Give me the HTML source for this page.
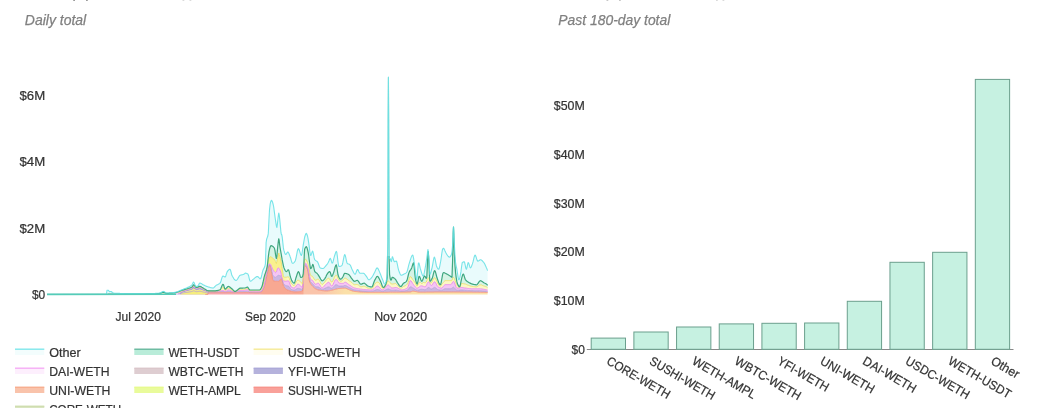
<!DOCTYPE html>
<html><head><meta charset="utf-8"><title>Fees</title>
<style>
html,body{margin:0;padding:0;background:#fff;}
body{width:1038px;height:408px;overflow:hidden;font-family:"Liberation Sans", sans-serif;}
svg{display:block;will-change:transform;}
svg text{font-family:"Liberation Sans", sans-serif;}
</style></head><body>
<svg width="1038" height="408" viewBox="0 0 1038 408">
<text x="24.8" y="25.2" font-size="14.6" font-style="italic" fill="#808080" stroke="#808080" stroke-width="0.25" textLength="61.4" lengthAdjust="spacingAndGlyphs">Daily total</text>
<text x="558.3" y="25.2" font-size="14.6" font-style="italic" fill="#808080" stroke="#808080" stroke-width="0.25" textLength="112.0" lengthAdjust="spacingAndGlyphs">Past 180-day total</text>
<rect x="73.2" y="-0.5" width="1.8" height="1.4" fill="#333" fill-opacity="0.55"/>
<rect x="86.0" y="-0.5" width="1.8" height="1.4" fill="#333" fill-opacity="0.55"/>
<rect x="182.5" y="-0.5" width="1.8" height="1.4" fill="#333" fill-opacity="0.2"/>
<rect x="189.5" y="-0.5" width="1.8" height="1.4" fill="#333" fill-opacity="0.2"/>
<rect x="606.5" y="-0.5" width="1.8" height="1.4" fill="#333" fill-opacity="0.3"/>
<rect x="619.0" y="-0.5" width="1.8" height="1.4" fill="#333" fill-opacity="0.3"/>
<rect x="716" y="-0.5" width="1.8" height="1.4" fill="#333" fill-opacity="0.2"/>
<rect x="722.5" y="-0.5" width="1.8" height="1.4" fill="#333" fill-opacity="0.2"/>
<text x="45.2" y="99.6" font-size="12.6" text-anchor="end" fill="#333333" stroke="#333333" stroke-width="0.22" textLength="25.7" lengthAdjust="spacingAndGlyphs">$6M</text>
<text x="45.2" y="165.8" font-size="12.6" text-anchor="end" fill="#333333" stroke="#333333" stroke-width="0.22" textLength="25.7" lengthAdjust="spacingAndGlyphs">$4M</text>
<text x="45.2" y="232.8" font-size="12.6" text-anchor="end" fill="#333333" stroke="#333333" stroke-width="0.22" textLength="25.7" lengthAdjust="spacingAndGlyphs">$2M</text>
<text x="45.2" y="298.8" font-size="12.6" text-anchor="end" fill="#333333" stroke="#333333" stroke-width="0.22" textLength="13.3" lengthAdjust="spacingAndGlyphs">$0</text>
<text x="138.2" y="321.0" font-size="12.6" text-anchor="middle" fill="#333333" stroke="#333333" stroke-width="0.22" textLength="45.5" lengthAdjust="spacingAndGlyphs">Jul 2020</text>
<text x="270.4" y="321.0" font-size="12.6" text-anchor="middle" fill="#333333" stroke="#333333" stroke-width="0.22" textLength="50.6" lengthAdjust="spacingAndGlyphs">Sep 2020</text>
<text x="400.6" y="321.0" font-size="12.6" text-anchor="middle" fill="#333333" stroke="#333333" stroke-width="0.22" textLength="52.9" lengthAdjust="spacingAndGlyphs">Nov 2020</text>
<defs><linearGradient id="sal" gradientUnits="userSpaceOnUse" x1="47.0" y1="0" x2="487.6" y2="0"><stop offset="0.0000" stop-color="#f4a6aa"/><stop offset="0.4812" stop-color="#f4a6aa"/><stop offset="0.4902" stop-color="#f8a892"/><stop offset="0.5819" stop-color="#f8a892"/><stop offset="0.5824" stop-color="#fac4aa"/><stop offset="0.6241" stop-color="#fac4aa"/><stop offset="0.6764" stop-color="#fbe0a8"/><stop offset="1.0000" stop-color="#fbe0a8"/></linearGradient><linearGradient id="yel" gradientUnits="userSpaceOnUse" x1="47.0" y1="0" x2="487.6" y2="0"><stop offset="0.0000" stop-color="#fcf7c6"/><stop offset="0.4880" stop-color="#fcf7c6"/><stop offset="0.5016" stop-color="#f9f08e"/><stop offset="0.5334" stop-color="#f9f08e"/><stop offset="0.5470" stop-color="#fcf7c6"/><stop offset="1.0000" stop-color="#fcf7c6"/></linearGradient></defs>
<path d="M47.0,294.4 47.6,294.4 48.2,294.4 48.8,294.4 49.4,294.4 50.0,294.4 50.6,294.4 51.2,294.4 51.8,294.4 52.4,294.4 53.0,294.4 53.6,294.4 54.2,294.4 54.8,294.4 55.4,294.4 56.0,294.4 56.6,294.4 57.2,294.4 57.8,294.4 58.4,294.4 59.0,294.4 59.6,294.4 60.2,294.4 60.8,294.4 61.4,294.4 62.0,294.4 62.6,294.4 63.2,294.4 63.8,294.4 64.4,294.4 65.0,294.4 65.6,294.4 66.2,294.4 66.8,294.4 67.4,294.4 68.0,294.4 68.6,294.4 69.2,294.4 69.8,294.4 70.4,294.4 71.0,294.4 71.6,294.4 72.2,294.4 72.8,294.4 73.4,294.4 74.0,294.4 74.6,294.4 75.2,294.4 75.8,294.4 76.4,294.4 77.0,294.4 77.6,294.4 78.2,294.4 78.8,294.4 79.4,294.4 80.0,294.4 80.6,294.4 81.2,294.4 81.8,294.4 82.4,294.4 83.0,294.4 83.6,294.4 84.2,294.4 84.8,294.3 85.4,294.3 86.0,294.3 86.6,294.3 87.2,294.3 87.8,294.3 88.4,294.3 89.0,294.3 89.6,294.3 90.2,294.3 90.8,294.3 91.4,294.3 92.0,294.3 92.6,294.3 93.2,294.3 93.8,294.3 94.4,294.3 95.0,294.3 95.6,294.3 96.2,294.3 96.8,294.3 97.4,294.3 98.0,294.3 98.6,294.3 99.2,294.3 99.8,294.3 100.4,294.3 101.0,294.3 101.6,294.2 102.2,294.2 102.8,294.2 103.4,294.2 104.0,294.2 104.6,294.2 105.2,294.2 105.8,294.2 106.4,294.2 107.0,290.4 107.6,290.3 108.2,290.3 108.8,290.7 109.4,291.6 110.0,291.6 110.6,291.5 111.2,291.5 111.8,292.0 112.4,292.5 113.0,292.8 113.6,293.0 114.2,293.2 114.8,293.2 115.4,293.3 116.0,293.3 116.6,293.3 117.2,293.3 117.8,293.4 118.4,293.4 119.0,293.4 119.6,293.4 120.2,293.5 120.8,293.5 121.4,293.5 122.0,293.5 122.6,293.5 123.2,293.5 123.8,293.5 124.4,293.6 125.0,293.6 125.6,293.6 126.2,293.6 126.8,293.6 127.4,293.6 128.0,293.6 128.6,293.6 129.2,293.6 129.8,293.6 130.4,293.6 131.0,293.6 131.6,293.6 132.2,293.6 132.8,293.6 133.4,293.6 134.0,293.6 134.6,293.6 135.2,293.6 135.8,293.6 136.4,293.6 137.0,293.6 137.6,293.6 138.2,293.6 138.8,293.6 139.4,293.6 140.0,293.6 140.6,293.6 141.2,293.6 141.8,293.6 142.4,293.6 143.0,293.6 143.6,293.6 144.2,293.6 144.8,293.6 145.4,293.6 146.0,293.6 146.6,293.6 147.2,293.6 147.8,293.6 148.4,293.6 149.0,293.6 149.6,293.6 150.2,293.6 150.8,293.6 151.4,293.6 152.0,293.6 152.6,293.6 153.2,293.5 153.8,293.5 154.4,293.5 155.0,293.5 155.6,293.4 156.2,293.4 156.8,293.3 157.4,293.3 158.0,293.2 158.6,293.2 159.2,293.1 159.8,293.0 160.4,292.9 161.0,292.6 161.6,292.2 162.2,291.8 162.8,291.5 163.4,291.4 164.0,291.6 164.6,291.9 165.2,292.4 165.8,292.8 166.4,293.0 167.0,293.0 167.6,293.0 168.2,293.0 168.8,293.0 169.4,292.9 170.0,292.9 170.6,292.8 171.2,292.8 171.8,292.7 172.4,292.7 173.0,292.6 173.6,292.6 174.2,292.5 174.8,292.4 175.4,292.3 176.0,292.1 176.6,292.0 177.2,291.7 177.8,291.5 178.4,291.3 179.0,291.0 179.6,290.7 180.2,290.5 180.8,290.2 181.4,289.9 182.0,289.7 182.6,289.5 183.2,289.3 183.8,289.0 184.4,288.8 185.0,288.6 185.6,288.4 186.2,288.1 186.8,287.9 187.4,287.6 188.0,287.3 188.6,287.0 189.2,286.7 189.8,286.4 190.4,286.1 191.0,285.7 191.6,285.2 192.2,284.5 192.8,283.2 193.4,282.1 194.0,282.4 194.6,283.9 195.2,285.6 195.8,286.4 196.4,286.4 197.0,286.2 197.6,286.1 198.2,285.7 198.8,284.5 199.4,283.3 200.0,283.1 200.6,283.3 201.2,283.5 201.8,283.9 202.4,284.3 203.0,284.7 203.6,285.1 204.2,285.3 204.8,285.6 205.4,285.9 206.0,286.1 206.6,286.4 207.2,286.6 207.8,286.8 208.4,287.0 209.0,287.1 209.6,287.3 210.2,287.5 210.8,287.7 211.4,287.8 212.0,287.9 212.6,288.0 213.2,288.0 213.8,287.7 214.4,287.1 215.0,286.5 215.6,285.8 216.2,285.3 216.8,284.9 217.4,284.7 218.0,284.4 218.6,284.1 219.2,283.8 219.8,283.4 220.4,282.6 221.0,281.0 221.6,278.9 222.2,277.0 222.8,276.0 223.4,276.1 224.0,276.5 224.6,276.9 225.2,277.0 225.8,275.9 226.4,273.9 227.0,272.1 227.6,271.1 228.2,270.4 228.8,269.8 229.4,269.4 230.0,269.3 230.6,270.3 231.2,272.6 231.8,275.0 232.4,276.3 233.0,277.3 233.6,278.3 234.2,279.1 234.8,279.8 235.4,280.2 236.0,280.4 236.6,280.2 237.2,279.5 237.8,278.6 238.4,277.5 239.0,276.5 239.6,275.7 240.2,275.3 240.8,275.1 241.4,274.9 242.0,274.8 242.6,274.7 243.2,274.5 243.8,274.3 244.4,273.8 245.0,273.3 245.6,273.1 246.2,273.2 246.8,273.4 247.4,273.7 248.0,274.1 248.6,275.7 249.2,278.3 249.8,280.5 250.4,281.3 251.0,281.1 251.6,280.7 252.2,280.2 252.8,279.6 253.4,279.1 254.0,278.7 254.6,278.2 255.2,277.7 255.8,277.2 256.4,276.8 257.0,276.6 257.6,276.5 258.2,276.9 258.8,277.5 259.4,278.2 260.0,278.8 260.6,278.8 261.2,277.3 261.8,274.9 262.4,272.2 263.0,270.1 263.6,268.9 264.2,267.9 264.8,266.5 265.4,263.9 266.0,246.1 266.1,242.7 266.6,239.3 267.2,237.6 267.8,236.0 268.2,233.9 268.4,231.6 269.0,219.0 269.5,210.0 269.6,209.0 270.2,203.9 270.6,202.0 270.8,201.5 271.0,201.0 271.4,200.4 271.5,200.4 272.0,200.9 272.5,202.0 272.6,202.3 273.2,204.5 273.5,206.0 273.8,207.7 274.4,212.1 275.0,216.8 275.4,219.5 275.6,220.8 276.2,224.9 276.4,226.0 276.8,227.3 276.9,227.4 277.4,224.0 277.8,220.0 278.0,218.3 278.6,213.6 278.8,213.1 279.2,214.8 279.8,220.0 280.4,226.4 281.0,232.7 281.3,234.2 281.6,234.6 281.8,234.9 282.2,236.9 282.8,242.4 283.4,247.9 283.7,249.6 284.0,250.7 284.6,252.7 285.2,254.1 285.7,254.5 285.8,254.5 286.4,253.9 287.0,252.8 287.6,252.1 287.8,252.0 288.2,252.2 288.8,253.2 289.4,254.7 290.0,256.3 290.1,256.5 290.6,258.0 291.2,260.2 291.8,262.2 292.4,263.3 293.0,263.2 293.6,262.9 294.2,262.3 294.8,261.6 295.0,261.4 295.4,260.5 296.0,258.1 296.6,255.0 297.2,251.9 297.8,249.5 298.4,248.6 299.0,249.3 299.6,251.0 300.2,253.1 300.8,254.8 301.4,255.5 302.0,253.6 302.6,249.5 303.2,245.3 303.3,244.7 303.8,241.8 304.4,238.5 304.6,237.5 305.0,236.0 305.6,234.4 306.2,233.4 306.3,233.4 306.8,234.0 307.4,235.7 307.5,236.0 308.0,238.3 308.2,239.6 308.6,242.1 308.7,242.7 309.2,246.4 309.8,251.4 310.4,254.9 310.7,255.5 311.0,255.2 311.6,253.5 312.2,251.6 312.6,251.1 312.8,251.3 313.4,253.7 314.0,257.2 314.6,259.4 315.2,260.1 315.8,260.6 316.4,261.0 317.0,261.4 317.5,261.9 317.6,262.0 318.2,263.2 318.8,264.9 319.4,266.5 320.0,267.7 320.6,268.2 321.2,268.3 321.8,268.4 322.4,268.5 323.0,268.5 323.6,268.3 324.2,267.7 324.8,267.0 325.4,266.3 326.0,265.6 326.6,264.9 327.2,264.1 327.8,263.2 328.4,262.2 329.0,260.8 329.6,259.3 330.2,258.4 330.3,258.4 330.8,259.2 331.4,261.2 332.0,263.0 332.6,263.0 333.2,261.2 333.8,258.7 334.4,256.3 334.5,256.0 335.0,254.5 335.6,252.6 336.2,251.5 336.4,251.4 336.8,252.4 337.4,256.7 338.0,262.0 338.6,265.9 339.2,266.5 339.8,266.4 340.4,266.2 341.0,266.0 341.6,265.7 342.2,265.0 342.8,262.7 343.4,259.6 344.0,256.5 344.6,254.7 344.8,254.6 345.2,255.2 345.8,257.6 346.4,260.6 347.0,263.0 347.6,263.7 348.2,263.9 348.8,264.1 349.4,264.3 350.0,264.8 350.6,265.8 351.2,267.2 351.8,268.7 352.4,270.0 353.0,271.2 353.6,272.4 354.2,273.5 354.8,274.2 355.4,274.1 356.0,272.7 356.6,271.0 357.2,269.6 357.8,269.6 358.4,270.6 359.0,271.9 359.6,273.0 360.2,273.3 360.8,273.3 361.4,273.3 362.0,273.3 362.6,273.3 363.2,273.3 363.8,273.4 364.4,273.8 365.0,274.5 365.6,275.3 366.2,276.1 366.8,276.9 367.4,278.0 368.0,279.1 368.6,279.7 369.2,279.7 369.8,279.4 370.4,278.9 371.0,278.4 371.6,277.7 372.2,276.8 372.8,275.8 373.4,274.7 374.0,273.6 374.6,272.5 375.2,271.1 375.8,269.7 376.4,268.6 377.0,267.9 377.6,268.1 378.2,268.9 378.8,270.2 379.4,271.6 380.0,273.1 380.6,274.5 381.2,276.1 381.8,277.8 382.4,279.3 383.0,280.8 383.6,282.4 384.2,283.7 384.8,284.2 385.4,283.5 386.0,281.7 386.6,279.0 387.2,273.8 387.8,241.6 388.1,120.0 388.4,77.0 388.7,120.0 389.0,218.1 389.2,258.0 389.6,258.5 390.2,258.8 390.4,259.0 390.8,260.6 391.4,261.6 392.0,258.1 392.4,256.7 392.6,256.9 393.2,258.6 393.8,260.8 394.3,261.6 394.4,261.6 395.0,261.5 395.6,261.2 396.2,261.1 396.3,261.1 396.8,261.9 397.4,264.5 398.0,267.6 398.6,270.1 399.2,271.7 399.8,273.3 400.4,274.6 401.0,275.2 401.6,275.3 402.2,275.0 402.8,274.7 403.4,274.4 404.0,274.1 404.6,273.8 405.2,273.5 405.8,273.1 406.4,272.6 407.0,271.7 407.6,269.8 408.2,267.4 408.8,264.9 409.4,262.8 410.0,261.0 410.6,259.2 411.2,257.4 411.8,256.0 412.4,255.2 412.7,255.1 413.0,255.5 413.6,258.3 414.2,262.5 414.8,266.9 415.4,271.5 416.0,276.8 416.6,279.9 417.2,277.0 417.8,269.2 418.4,263.0 419.0,263.1 419.6,265.4 420.2,268.2 420.8,270.2 421.4,272.2 422.0,274.1 422.6,275.5 423.2,276.0 423.8,274.9 424.4,272.2 425.0,268.9 425.6,265.7 426.2,262.0 426.8,257.8 427.2,255.0 427.4,253.2 427.9,249.6 428.0,249.8 428.2,251.0 428.6,255.6 428.8,258.0 429.2,264.8 429.8,274.3 430.4,274.0 431.0,272.0 431.6,269.5 432.2,267.1 432.8,263.8 433.4,260.3 434.0,257.7 434.4,257.1 434.6,257.3 435.2,259.4 435.8,262.7 436.4,265.7 437.0,267.2 437.6,268.3 438.2,269.1 438.8,269.3 439.4,267.8 440.0,264.9 440.6,261.7 440.7,261.2 441.2,258.0 441.8,253.4 442.4,249.8 442.7,249.0 443.0,248.7 443.6,248.3 443.7,248.3 444.2,249.0 444.8,250.4 445.4,251.7 446.0,253.0 446.6,254.1 446.8,254.4 447.2,255.0 447.8,255.8 448.4,256.5 449.0,257.0 449.5,257.1 449.6,257.1 450.2,256.7 450.8,255.9 451.4,254.6 451.5,254.4 452.0,251.5 452.6,245.0 452.8,241.2 453.2,230.7 453.5,226.8 453.8,230.3 454.2,240.6 454.4,245.0 455.0,255.7 455.6,262.8 456.2,266.1 456.8,268.8 457.4,272.5 458.0,276.6 458.6,279.6 459.2,279.7 459.8,277.7 460.4,274.7 461.0,271.4 461.6,266.5 462.2,262.7 462.8,262.2 463.4,261.9 464.0,261.8 464.3,261.8 464.6,262.3 465.2,265.0 465.8,268.1 466.4,269.3 467.0,267.4 467.6,264.4 468.2,262.5 468.8,263.3 469.4,265.4 470.0,267.4 470.6,267.8 471.2,267.0 471.8,265.5 472.4,263.9 473.0,261.9 473.6,259.3 474.2,256.9 474.8,255.3 475.1,255.1 475.4,255.3 476.0,256.7 476.6,258.7 477.2,260.4 477.8,261.2 478.4,261.0 479.0,260.6 479.6,260.2 480.2,259.8 480.5,259.8 480.8,259.8 481.4,260.1 482.0,260.5 482.6,261.1 483.2,261.8 483.8,262.5 484.4,263.4 485.0,264.6 485.6,265.9 486.2,267.3 486.8,268.6 487.6,270.6 L487.6,285.4 486.8,284.4 486.2,283.9 485.6,283.5 485.0,283.3 484.4,283.0 483.8,282.7 483.2,282.3 482.6,281.8 482.0,281.4 481.4,281.0 480.8,280.7 480.5,280.7 480.2,280.8 479.6,281.2 479.0,281.9 478.4,282.8 477.8,283.7 477.2,284.4 476.6,284.8 476.0,284.8 475.4,284.7 475.1,284.7 474.8,284.7 474.2,284.5 473.6,284.4 473.0,284.3 472.4,284.1 471.8,283.9 471.2,283.7 470.6,283.4 470.0,283.1 469.4,282.8 468.8,282.4 468.2,282.0 467.6,281.7 467.0,281.3 466.4,280.8 465.8,280.2 465.2,279.2 464.6,277.3 464.3,276.3 464.0,275.3 463.4,274.1 462.8,274.5 462.2,276.4 461.6,278.7 461.0,281.4 460.4,284.6 459.8,286.6 459.2,286.7 458.6,286.0 458.0,284.9 457.4,283.6 456.8,281.2 456.2,277.6 455.6,272.9 455.0,265.8 454.4,254.5 454.2,250.0 453.8,234.5 453.5,227.2 453.2,233.4 452.8,250.0 452.6,260.5 452.0,277.3 451.5,277.1 451.4,277.0 450.8,276.5 450.2,276.1 449.6,275.7 449.5,275.6 449.0,275.3 448.4,274.9 447.8,274.5 447.2,274.2 446.8,274.0 446.6,273.9 446.0,273.6 445.4,273.2 444.8,273.0 444.2,272.7 443.7,272.6 443.6,272.6 443.0,273.2 442.7,274.2 442.4,275.6 441.8,279.0 441.2,282.3 440.7,284.2 440.6,284.5 440.0,284.7 439.4,283.9 438.8,282.7 438.2,281.1 437.6,279.5 437.0,277.8 436.4,275.5 435.8,273.1 435.2,271.2 434.6,270.6 434.4,270.8 434.0,271.7 433.4,273.9 432.8,276.3 432.2,278.3 431.6,279.4 431.0,280.4 430.4,281.2 429.8,281.0 429.2,268.7 428.8,260.2 428.6,256.2 428.2,251.5 428.0,252.9 427.9,254.4 427.4,263.9 427.2,268.5 426.8,277.2 426.2,278.4 425.6,277.4 425.0,276.4 424.4,276.0 423.8,276.9 423.2,278.6 422.6,280.3 422.0,281.3 421.4,281.1 420.8,279.7 420.2,277.9 419.6,276.5 419.0,276.4 418.4,278.8 417.8,282.1 417.2,284.0 416.6,283.4 416.0,281.3 415.4,278.5 414.8,273.6 414.2,266.5 413.6,262.8 413.0,263.7 412.7,264.6 412.4,265.6 411.8,267.7 411.2,268.9 410.6,269.8 410.0,270.6 409.4,271.6 408.8,273.1 408.2,275.5 407.6,278.1 407.0,280.3 406.4,281.4 405.8,281.9 405.2,282.3 404.6,282.6 404.0,282.9 403.4,283.4 402.8,284.2 402.2,285.1 401.6,286.0 401.0,286.5 400.4,286.5 399.8,286.1 399.2,285.3 398.6,284.4 398.0,283.5 397.4,282.6 396.8,281.5 396.3,280.6 396.2,280.4 395.6,279.5 395.0,278.9 394.4,278.4 394.3,278.3 393.8,277.9 393.2,277.6 392.6,277.3 392.4,277.3 392.0,277.6 391.4,279.8 390.8,280.1 390.4,279.3 390.2,278.5 389.6,274.6 389.2,262.0 389.0,218.1 388.7,120.0 388.4,77.5 388.1,120.0 387.8,241.6 387.2,277.1 386.6,281.7 386.0,283.7 385.4,285.1 384.8,286.2 384.2,287.1 383.6,287.5 383.0,287.3 382.4,286.2 381.8,284.6 381.2,282.9 380.6,281.5 380.0,280.3 379.4,279.1 378.8,277.9 378.2,276.9 377.6,276.4 377.0,276.5 376.4,277.2 375.8,278.2 375.2,279.4 374.6,280.5 374.0,282.0 373.4,283.8 372.8,285.6 372.2,286.7 371.6,287.0 371.0,286.9 370.4,286.8 369.8,286.7 369.2,286.5 368.6,286.3 368.0,286.1 367.4,285.8 366.8,285.3 366.2,284.7 365.6,284.1 365.0,283.6 364.4,283.2 363.8,283.2 363.2,283.4 362.6,283.6 362.0,283.9 361.4,284.1 360.8,284.2 360.2,284.0 359.6,283.2 359.0,282.2 358.4,281.3 357.8,280.5 357.2,280.3 356.6,280.5 356.0,280.7 355.4,281.1 354.8,281.3 354.2,281.2 353.6,280.9 353.0,280.2 352.4,279.4 351.8,278.6 351.2,277.9 350.6,276.9 350.0,276.0 349.4,275.1 348.8,274.6 348.2,274.3 347.6,274.0 347.0,273.8 346.4,273.6 345.8,273.5 345.2,273.4 344.8,273.4 344.6,273.4 344.0,274.2 343.4,275.7 342.8,277.0 342.2,277.8 341.6,278.6 341.0,279.1 340.4,279.2 339.8,278.7 339.2,277.7 338.6,276.5 338.0,274.8 337.4,271.0 336.8,266.8 336.4,265.1 336.2,264.8 335.6,265.6 335.0,267.5 334.5,269.5 334.4,269.9 333.8,272.1 333.2,273.6 332.6,275.2 332.0,276.3 331.4,276.2 330.8,274.2 330.3,272.4 330.2,272.2 329.6,271.6 329.0,271.9 328.4,272.5 327.8,273.2 327.2,274.1 326.6,275.0 326.0,276.4 325.4,277.7 324.8,278.6 324.2,279.4 323.6,280.0 323.0,280.5 322.4,280.8 321.8,280.7 321.2,280.0 320.6,279.0 320.0,277.9 319.4,276.9 318.8,275.9 318.2,274.9 317.6,274.0 317.5,273.8 317.0,273.3 316.4,272.9 315.8,272.5 315.2,272.1 314.6,271.2 314.0,268.5 313.4,265.5 312.8,264.4 312.6,264.7 312.2,265.9 311.6,267.6 311.0,268.4 310.7,268.6 310.4,268.2 309.8,264.2 309.2,259.8 308.7,255.7 308.6,254.9 308.2,252.5 308.0,251.6 307.5,249.5 307.4,249.1 306.8,247.3 306.3,246.7 306.2,246.7 305.6,247.2 305.0,248.3 304.6,249.6 304.4,252.4 303.8,265.2 303.3,272.8 303.2,274.0 302.6,276.7 302.0,277.1 301.4,277.3 300.8,277.4 300.2,276.2 299.6,274.1 299.0,272.3 298.4,271.6 297.8,272.4 297.2,274.0 296.6,275.9 296.0,277.7 295.4,279.8 295.0,281.3 294.8,282.0 294.2,283.2 293.6,283.0 293.0,282.4 292.4,281.6 291.8,280.6 291.2,279.1 290.6,277.4 290.1,275.8 290.0,275.4 289.4,272.6 288.8,270.3 288.2,269.8 287.8,270.1 287.6,270.4 287.0,271.2 286.4,271.6 285.8,271.3 285.7,271.2 285.2,270.5 284.6,269.4 284.0,267.9 283.7,266.8 283.4,265.6 282.8,262.9 282.2,259.9 281.8,257.5 281.6,256.3 281.3,254.5 281.0,252.8 280.4,249.5 279.8,246.0 279.2,240.7 278.8,238.8 278.6,239.3 278.0,244.2 277.8,246.0 277.4,250.1 276.9,255.7 276.8,256.6 276.4,258.4 276.2,258.1 275.6,255.0 275.4,253.6 275.0,250.7 274.4,248.1 273.8,247.4 273.5,247.0 273.2,246.7 272.6,246.3 272.5,246.2 272.0,245.9 271.5,245.8 271.4,245.7 271.0,245.7 270.8,245.8 270.6,246.0 270.2,246.9 269.6,249.0 269.5,249.4 269.0,251.6 268.4,256.1 268.2,258.0 267.8,262.1 267.2,266.8 266.6,269.4 266.1,271.1 266.0,271.4 265.4,273.1 264.8,274.8 264.2,276.9 263.6,279.6 263.0,282.5 262.4,285.1 261.8,286.8 261.2,288.0 260.6,289.1 260.0,289.8 259.4,290.0 258.8,290.0 258.2,290.0 257.6,290.0 257.0,290.0 256.4,290.0 255.8,290.0 255.2,290.0 254.6,290.0 254.0,290.0 253.4,290.0 252.8,290.0 252.2,290.0 251.6,290.0 251.0,290.0 250.4,290.0 249.8,290.0 249.2,289.5 248.6,288.5 248.0,287.5 247.4,287.0 246.8,287.2 246.2,287.5 245.6,287.8 245.0,288.0 244.4,288.0 243.8,288.0 243.2,288.0 242.6,288.1 242.0,288.1 241.4,288.1 240.8,288.1 240.2,288.1 239.6,288.4 239.0,288.7 238.4,289.2 237.8,289.7 237.2,290.3 236.6,290.7 236.0,291.1 235.4,291.4 234.8,291.4 234.2,291.1 233.6,290.6 233.0,289.9 232.4,289.2 231.8,288.7 231.2,288.2 230.6,287.7 230.0,287.2 229.4,286.7 228.8,286.5 228.2,286.4 227.6,286.8 227.0,287.5 226.4,288.2 225.8,288.9 225.2,289.2 224.6,288.4 224.0,286.3 223.4,284.5 222.8,284.3 222.2,285.3 221.6,286.8 221.0,288.3 220.4,289.4 219.8,289.8 219.2,290.0 218.6,290.2 218.0,290.4 217.4,290.6 216.8,290.7 216.2,290.7 215.6,290.8 215.0,290.8 214.4,290.8 213.8,290.8 213.2,290.8 212.6,290.8 212.0,290.8 211.4,290.8 210.8,290.8 210.2,290.8 209.6,290.8 209.0,290.8 208.4,290.8 207.8,290.7 207.2,290.5 206.6,290.2 206.0,289.8 205.4,289.4 204.8,289.0 204.2,288.7 203.6,288.3 203.0,287.9 202.4,287.5 201.8,287.2 201.2,286.8 200.6,286.6 200.0,286.4 199.4,286.4 198.8,286.6 198.2,286.9 197.6,287.2 197.0,287.4 196.4,287.5 195.8,287.2 195.2,286.4 194.6,285.6 194.0,284.9 193.4,284.9 192.8,285.8 192.2,286.8 191.6,287.2 191.0,287.5 190.4,287.8 189.8,288.0 189.2,288.1 188.6,288.3 188.0,288.5 187.4,288.7 186.8,288.9 186.2,289.0 185.6,289.2 185.0,289.4 184.4,289.6 183.8,289.8 183.2,289.9 182.6,290.1 182.0,290.3 181.4,290.5 180.8,290.7 180.2,291.0 179.6,291.2 179.0,291.5 178.4,291.7 177.8,292.0 177.2,292.2 176.6,292.4 176.0,292.6 175.4,292.7 174.8,292.8 174.2,292.9 173.6,293.0 173.0,293.0 172.4,293.1 171.8,293.1 171.2,293.1 170.6,293.2 170.0,293.2 169.4,293.2 168.8,293.3 168.2,293.3 167.6,293.3 167.0,293.3 166.4,293.3 165.8,293.1 165.2,292.9 164.6,292.6 164.0,292.3 163.4,292.2 162.8,292.3 162.2,292.5 161.6,292.8 161.0,293.1 160.4,293.3 159.8,293.4 159.2,293.5 158.6,293.5 158.0,293.6 157.4,293.6 156.8,293.7 156.2,293.7 155.6,293.7 155.0,293.8 154.4,293.8 153.8,293.8 153.2,293.8 152.6,293.9 152.0,293.9 151.4,293.9 150.8,293.9 150.2,293.9 149.6,293.9 149.0,293.9 148.4,293.9 147.8,293.9 147.2,293.9 146.6,293.9 146.0,293.9 145.4,294.0 144.8,294.0 144.2,294.0 143.6,294.0 143.0,294.0 142.4,294.0 141.8,294.0 141.2,294.0 140.6,294.0 140.0,294.0 139.4,294.0 138.8,294.0 138.2,294.0 137.6,294.0 137.0,294.0 136.4,294.0 135.8,294.0 135.2,294.1 134.6,294.1 134.0,294.1 133.4,294.1 132.8,294.1 132.2,294.1 131.6,294.1 131.0,294.1 130.4,294.1 129.8,294.1 129.2,294.1 128.6,294.1 128.0,294.1 127.4,294.1 126.8,294.1 126.2,294.1 125.6,294.1 125.0,294.1 124.4,294.1 123.8,294.1 123.2,294.2 122.6,294.2 122.0,294.2 121.4,294.2 120.8,294.2 120.2,294.2 119.6,294.2 119.0,294.2 118.4,294.2 117.8,294.2 117.2,294.2 116.6,294.2 116.0,294.2 115.4,294.2 114.8,294.2 114.2,294.2 113.6,294.2 113.0,294.2 112.4,294.2 111.8,294.2 111.2,294.2 110.6,294.2 110.0,294.2 109.4,294.2 108.8,294.2 108.2,294.2 107.6,294.3 107.0,294.3 106.4,294.3 105.8,294.3 105.2,294.3 104.6,294.3 104.0,294.3 103.4,294.3 102.8,294.3 102.2,294.3 101.6,294.3 101.0,294.3 100.4,294.3 99.8,294.3 99.2,294.3 98.6,294.3 98.0,294.3 97.4,294.3 96.8,294.3 96.2,294.3 95.6,294.3 95.0,294.3 94.4,294.3 93.8,294.3 93.2,294.3 92.6,294.3 92.0,294.3 91.4,294.3 90.8,294.3 90.2,294.3 89.6,294.3 89.0,294.3 88.4,294.3 87.8,294.3 87.2,294.3 86.6,294.3 86.0,294.3 85.4,294.3 84.8,294.3 84.2,294.4 83.6,294.4 83.0,294.4 82.4,294.4 81.8,294.4 81.2,294.4 80.6,294.4 80.0,294.4 79.4,294.4 78.8,294.4 78.2,294.4 77.6,294.4 77.0,294.4 76.4,294.4 75.8,294.4 75.2,294.4 74.6,294.4 74.0,294.4 73.4,294.4 72.8,294.4 72.2,294.4 71.6,294.4 71.0,294.4 70.4,294.4 69.8,294.4 69.2,294.4 68.6,294.4 68.0,294.4 67.4,294.4 66.8,294.4 66.2,294.4 65.6,294.4 65.0,294.4 64.4,294.4 63.8,294.4 63.2,294.4 62.6,294.4 62.0,294.4 61.4,294.4 60.8,294.4 60.2,294.4 59.6,294.4 59.0,294.4 58.4,294.4 57.8,294.4 57.2,294.4 56.6,294.4 56.0,294.4 55.4,294.4 54.8,294.4 54.2,294.4 53.6,294.4 53.0,294.4 52.4,294.4 51.8,294.4 51.2,294.4 50.6,294.4 50.0,294.4 49.4,294.4 48.8,294.4 48.2,294.4 47.6,294.4 47.0,294.4Z" fill="#e9fbfc" fill-opacity="1" stroke="none"/>
<path d="M47.0,294.4 47.6,294.4 48.2,294.4 48.8,294.4 49.4,294.4 50.0,294.4 50.6,294.4 51.2,294.4 51.8,294.4 52.4,294.4 53.0,294.4 53.6,294.4 54.2,294.4 54.8,294.4 55.4,294.4 56.0,294.4 56.6,294.4 57.2,294.4 57.8,294.4 58.4,294.4 59.0,294.4 59.6,294.4 60.2,294.4 60.8,294.4 61.4,294.4 62.0,294.4 62.6,294.4 63.2,294.4 63.8,294.4 64.4,294.4 65.0,294.4 65.6,294.4 66.2,294.4 66.8,294.4 67.4,294.4 68.0,294.4 68.6,294.4 69.2,294.4 69.8,294.4 70.4,294.4 71.0,294.4 71.6,294.4 72.2,294.4 72.8,294.4 73.4,294.4 74.0,294.4 74.6,294.4 75.2,294.4 75.8,294.4 76.4,294.4 77.0,294.4 77.6,294.4 78.2,294.4 78.8,294.4 79.4,294.4 80.0,294.4 80.6,294.4 81.2,294.4 81.8,294.4 82.4,294.4 83.0,294.4 83.6,294.4 84.2,294.4 84.8,294.3 85.4,294.3 86.0,294.3 86.6,294.3 87.2,294.3 87.8,294.3 88.4,294.3 89.0,294.3 89.6,294.3 90.2,294.3 90.8,294.3 91.4,294.3 92.0,294.3 92.6,294.3 93.2,294.3 93.8,294.3 94.4,294.3 95.0,294.3 95.6,294.3 96.2,294.3 96.8,294.3 97.4,294.3 98.0,294.3 98.6,294.3 99.2,294.3 99.8,294.3 100.4,294.3 101.0,294.3 101.6,294.3 102.2,294.3 102.8,294.3 103.4,294.3 104.0,294.3 104.6,294.3 105.2,294.3 105.8,294.3 106.4,294.3 107.0,294.3 107.6,294.3 108.2,294.2 108.8,294.2 109.4,294.2 110.0,294.2 110.6,294.2 111.2,294.2 111.8,294.2 112.4,294.2 113.0,294.2 113.6,294.2 114.2,294.2 114.8,294.2 115.4,294.2 116.0,294.2 116.6,294.2 117.2,294.2 117.8,294.2 118.4,294.2 119.0,294.2 119.6,294.2 120.2,294.2 120.8,294.2 121.4,294.2 122.0,294.2 122.6,294.2 123.2,294.2 123.8,294.1 124.4,294.1 125.0,294.1 125.6,294.1 126.2,294.1 126.8,294.1 127.4,294.1 128.0,294.1 128.6,294.1 129.2,294.1 129.8,294.1 130.4,294.1 131.0,294.1 131.6,294.1 132.2,294.1 132.8,294.1 133.4,294.1 134.0,294.1 134.6,294.1 135.2,294.1 135.8,294.0 136.4,294.0 137.0,294.0 137.6,294.0 138.2,294.0 138.8,294.0 139.4,294.0 140.0,294.0 140.6,294.0 141.2,294.0 141.8,294.0 142.4,294.0 143.0,294.0 143.6,294.0 144.2,294.0 144.8,294.0 145.4,294.0 146.0,293.9 146.6,293.9 147.2,293.9 147.8,293.9 148.4,293.9 149.0,293.9 149.6,293.9 150.2,293.9 150.8,293.9 151.4,293.9 152.0,293.9 152.6,293.9 153.2,293.8 153.8,293.8 154.4,293.8 155.0,293.8 155.6,293.7 156.2,293.7 156.8,293.7 157.4,293.6 158.0,293.6 158.6,293.5 159.2,293.5 159.8,293.4 160.4,293.3 161.0,293.1 161.6,292.8 162.2,292.5 162.8,292.3 163.4,292.2 164.0,292.3 164.6,292.6 165.2,292.9 165.8,293.1 166.4,293.3 167.0,293.3 167.6,293.3 168.2,293.3 168.8,293.3 169.4,293.2 170.0,293.2 170.6,293.2 171.2,293.1 171.8,293.1 172.4,293.1 173.0,293.0 173.6,293.0 174.2,292.9 174.8,292.8 175.4,292.7 176.0,292.6 176.6,292.4 177.2,292.2 177.8,292.0 178.4,291.7 179.0,291.5 179.6,291.2 180.2,291.0 180.8,290.7 181.4,290.5 182.0,290.3 182.6,290.1 183.2,289.9 183.8,289.8 184.4,289.6 185.0,289.4 185.6,289.2 186.2,289.0 186.8,288.9 187.4,288.7 188.0,288.5 188.6,288.3 189.2,288.1 189.8,288.0 190.4,287.8 191.0,287.5 191.6,287.2 192.2,286.8 192.8,285.8 193.4,284.9 194.0,284.9 194.6,285.6 195.2,286.4 195.8,287.2 196.4,287.5 197.0,287.4 197.6,287.2 198.2,286.9 198.8,286.6 199.4,286.4 200.0,286.4 200.6,286.6 201.2,286.8 201.8,287.2 202.4,287.5 203.0,287.9 203.6,288.3 204.2,288.7 204.8,289.0 205.4,289.4 206.0,289.8 206.6,290.2 207.2,290.5 207.8,290.7 208.4,290.8 209.0,290.8 209.6,290.8 210.2,290.8 210.8,290.8 211.4,290.8 212.0,290.8 212.6,290.8 213.2,290.8 213.8,290.8 214.4,290.8 215.0,290.8 215.6,290.8 216.2,290.7 216.8,290.7 217.4,290.6 218.0,290.4 218.6,290.2 219.2,290.0 219.8,289.8 220.4,289.4 221.0,288.3 221.6,286.8 222.2,285.3 222.8,284.3 223.4,284.5 224.0,286.3 224.6,288.4 225.2,289.2 225.8,288.9 226.4,288.2 227.0,287.5 227.6,286.8 228.2,286.4 228.8,286.5 229.4,286.7 230.0,287.2 230.6,287.7 231.2,288.2 231.8,288.7 232.4,289.2 233.0,289.9 233.6,290.6 234.2,291.1 234.8,291.4 235.4,291.4 236.0,291.1 236.6,290.7 237.2,290.3 237.8,289.7 238.4,289.2 239.0,288.7 239.6,288.4 240.2,288.1 240.8,288.1 241.4,288.1 242.0,288.1 242.6,288.1 243.2,288.0 243.8,288.0 244.4,288.0 245.0,288.0 245.6,287.8 246.2,287.5 246.8,287.2 247.4,287.0 248.0,287.5 248.6,288.5 249.2,289.5 249.8,290.0 250.4,290.0 251.0,290.0 251.6,290.0 252.2,290.0 252.8,290.0 253.4,290.0 254.0,290.0 254.6,290.0 255.2,290.0 255.8,290.0 256.4,290.0 257.0,290.0 257.6,290.0 258.2,290.0 258.8,290.0 259.4,290.0 260.0,289.8 260.6,289.1 261.2,288.0 261.8,286.8 262.4,285.1 263.0,282.5 263.6,279.6 264.2,276.9 264.8,274.8 265.4,273.1 266.0,271.4 266.1,271.1 266.6,269.4 267.2,266.8 267.8,262.1 268.2,258.0 268.4,256.1 269.0,251.6 269.5,249.4 269.6,249.0 270.2,246.9 270.6,246.0 270.8,245.8 271.0,245.7 271.4,245.7 271.5,245.8 272.0,245.9 272.5,246.2 272.6,246.3 273.2,246.7 273.5,247.0 273.8,247.4 274.4,248.1 275.0,250.7 275.4,253.6 275.6,255.0 276.2,258.1 276.4,258.4 276.8,256.6 276.9,255.7 277.4,250.1 277.8,246.0 278.0,244.2 278.6,239.3 278.8,238.8 279.2,240.7 279.8,246.0 280.4,249.5 281.0,252.8 281.3,254.5 281.6,256.3 281.8,257.5 282.2,259.9 282.8,262.9 283.4,265.6 283.7,266.8 284.0,267.9 284.6,269.4 285.2,270.5 285.7,271.2 285.8,271.3 286.4,271.6 287.0,271.2 287.6,270.4 287.8,270.1 288.2,269.8 288.8,270.3 289.4,272.6 290.0,275.4 290.1,275.8 290.6,277.4 291.2,279.1 291.8,280.6 292.4,281.6 293.0,282.4 293.6,283.0 294.2,283.2 294.8,282.0 295.0,281.3 295.4,279.8 296.0,277.7 296.6,275.9 297.2,274.0 297.8,272.4 298.4,271.6 299.0,272.3 299.6,274.1 300.2,276.2 300.8,277.4 301.4,277.3 302.0,277.1 302.6,276.7 303.2,274.0 303.3,272.8 303.8,265.2 304.4,252.4 304.6,249.6 305.0,248.3 305.6,247.2 306.2,246.7 306.3,246.7 306.8,247.3 307.4,249.1 307.5,249.5 308.0,251.6 308.2,252.5 308.6,254.9 308.7,255.7 309.2,259.8 309.8,264.2 310.4,268.2 310.7,268.6 311.0,268.4 311.6,267.6 312.2,265.9 312.6,264.7 312.8,264.4 313.4,265.5 314.0,268.5 314.6,271.2 315.2,272.1 315.8,272.5 316.4,272.9 317.0,273.3 317.5,273.8 317.6,274.0 318.2,274.9 318.8,275.9 319.4,276.9 320.0,277.9 320.6,279.0 321.2,280.0 321.8,280.7 322.4,280.8 323.0,280.5 323.6,280.0 324.2,279.4 324.8,278.6 325.4,277.7 326.0,276.4 326.6,275.0 327.2,274.1 327.8,273.2 328.4,272.5 329.0,271.9 329.6,271.6 330.2,272.2 330.3,272.4 330.8,274.2 331.4,276.2 332.0,276.3 332.6,275.2 333.2,273.6 333.8,272.1 334.4,269.9 334.5,269.5 335.0,267.5 335.6,265.6 336.2,264.8 336.4,265.1 336.8,266.8 337.4,271.0 338.0,274.8 338.6,276.5 339.2,277.7 339.8,278.7 340.4,279.2 341.0,279.1 341.6,278.6 342.2,277.8 342.8,277.0 343.4,275.7 344.0,274.2 344.6,273.4 344.8,273.4 345.2,273.4 345.8,273.5 346.4,273.6 347.0,273.8 347.6,274.0 348.2,274.3 348.8,274.6 349.4,275.1 350.0,276.0 350.6,276.9 351.2,277.9 351.8,278.6 352.4,279.4 353.0,280.2 353.6,280.9 354.2,281.2 354.8,281.3 355.4,281.1 356.0,280.7 356.6,280.5 357.2,280.3 357.8,280.5 358.4,281.3 359.0,282.2 359.6,283.2 360.2,284.0 360.8,284.2 361.4,284.1 362.0,283.9 362.6,283.6 363.2,283.4 363.8,283.2 364.4,283.2 365.0,283.6 365.6,284.1 366.2,284.7 366.8,285.3 367.4,285.8 368.0,286.1 368.6,286.3 369.2,286.5 369.8,286.7 370.4,286.8 371.0,286.9 371.6,287.0 372.2,286.7 372.8,285.6 373.4,283.8 374.0,282.0 374.6,280.5 375.2,279.4 375.8,278.2 376.4,277.2 377.0,276.5 377.6,276.4 378.2,276.9 378.8,277.9 379.4,279.1 380.0,280.3 380.6,281.5 381.2,282.9 381.8,284.6 382.4,286.2 383.0,287.3 383.6,287.5 384.2,287.1 384.8,286.2 385.4,285.1 386.0,283.7 386.6,281.7 387.2,277.1 387.8,241.6 388.1,120.0 388.4,77.5 388.7,120.0 389.0,218.1 389.2,262.0 389.6,274.6 390.2,278.5 390.4,279.3 390.8,280.1 391.4,279.8 392.0,277.6 392.4,277.3 392.6,277.3 393.2,277.6 393.8,277.9 394.3,278.3 394.4,278.4 395.0,278.9 395.6,279.5 396.2,280.4 396.3,280.6 396.8,281.5 397.4,282.6 398.0,283.5 398.6,284.4 399.2,285.3 399.8,286.1 400.4,286.5 401.0,286.5 401.6,286.0 402.2,285.1 402.8,284.2 403.4,283.4 404.0,282.9 404.6,282.6 405.2,282.3 405.8,281.9 406.4,281.4 407.0,280.3 407.6,278.1 408.2,275.5 408.8,273.1 409.4,271.6 410.0,270.6 410.6,269.8 411.2,268.9 411.8,267.7 412.4,265.6 412.7,264.6 413.0,263.7 413.6,262.8 414.2,266.5 414.8,273.6 415.4,278.5 416.0,281.3 416.6,283.4 417.2,284.0 417.8,282.1 418.4,278.8 419.0,276.4 419.6,276.5 420.2,277.9 420.8,279.7 421.4,281.1 422.0,281.3 422.6,280.3 423.2,278.6 423.8,276.9 424.4,276.0 425.0,276.4 425.6,277.4 426.2,278.4 426.8,277.2 427.2,268.5 427.4,263.9 427.9,254.4 428.0,252.9 428.2,251.5 428.6,256.2 428.8,260.2 429.2,268.7 429.8,281.0 430.4,281.2 431.0,280.4 431.6,279.4 432.2,278.3 432.8,276.3 433.4,273.9 434.0,271.7 434.4,270.8 434.6,270.6 435.2,271.2 435.8,273.1 436.4,275.5 437.0,277.8 437.6,279.5 438.2,281.1 438.8,282.7 439.4,283.9 440.0,284.7 440.6,284.5 440.7,284.2 441.2,282.3 441.8,279.0 442.4,275.6 442.7,274.2 443.0,273.2 443.6,272.6 443.7,272.6 444.2,272.7 444.8,273.0 445.4,273.2 446.0,273.6 446.6,273.9 446.8,274.0 447.2,274.2 447.8,274.5 448.4,274.9 449.0,275.3 449.5,275.6 449.6,275.7 450.2,276.1 450.8,276.5 451.4,277.0 451.5,277.1 452.0,277.3 452.6,260.5 452.8,250.0 453.2,233.4 453.5,227.2 453.8,234.5 454.2,250.0 454.4,254.5 455.0,265.8 455.6,272.9 456.2,277.6 456.8,281.2 457.4,283.6 458.0,284.9 458.6,286.0 459.2,286.7 459.8,286.6 460.4,284.6 461.0,281.4 461.6,278.7 462.2,276.4 462.8,274.5 463.4,274.1 464.0,275.3 464.3,276.3 464.6,277.3 465.2,279.2 465.8,280.2 466.4,280.8 467.0,281.3 467.6,281.7 468.2,282.0 468.8,282.4 469.4,282.8 470.0,283.1 470.6,283.4 471.2,283.7 471.8,283.9 472.4,284.1 473.0,284.3 473.6,284.4 474.2,284.5 474.8,284.7 475.1,284.7 475.4,284.7 476.0,284.8 476.6,284.8 477.2,284.4 477.8,283.7 478.4,282.8 479.0,281.9 479.6,281.2 480.2,280.8 480.5,280.7 480.8,280.7 481.4,281.0 482.0,281.4 482.6,281.8 483.2,282.3 483.8,282.7 484.4,283.0 485.0,283.3 485.6,283.5 486.2,283.9 486.8,284.4 487.6,285.4 L487.6,287.8 486.8,287.1 486.2,286.8 485.6,286.6 485.0,286.4 484.4,286.2 483.8,286.0 483.2,285.7 482.6,285.5 482.0,285.2 481.4,284.9 480.8,284.9 480.5,284.8 480.2,284.8 479.6,285.0 479.0,285.4 478.4,285.8 477.8,286.2 477.2,286.6 476.6,286.8 476.0,286.8 475.4,286.8 475.1,286.7 474.8,286.7 474.2,286.7 473.6,286.6 473.0,286.5 472.4,286.5 471.8,286.4 471.2,286.2 470.6,286.1 470.0,285.9 469.4,285.7 468.8,285.5 468.2,285.2 467.6,285.0 467.0,284.8 466.4,284.5 465.8,284.2 465.2,284.0 464.6,283.9 464.3,283.9 464.0,283.8 463.4,283.7 462.8,283.6 462.2,283.5 461.6,283.5 461.0,284.5 460.4,286.1 459.8,287.2 459.2,287.2 458.6,287.0 458.0,286.5 457.4,285.8 456.8,284.6 456.2,283.4 455.6,281.9 455.0,280.2 454.4,278.6 454.2,278.1 453.8,277.5 453.5,277.4 453.2,277.5 452.8,277.9 452.6,278.2 452.0,280.3 451.5,280.6 451.4,280.6 450.8,280.6 450.2,280.6 449.6,280.6 449.5,280.6 449.0,280.6 448.4,280.6 447.8,280.6 447.2,280.6 446.8,280.6 446.6,280.6 446.0,280.6 445.4,280.6 444.8,280.8 444.2,281.4 443.7,282.0 443.6,282.1 443.0,282.9 442.7,283.2 442.4,283.6 441.8,284.0 441.2,285.2 440.7,286.1 440.6,286.2 440.0,286.3 439.4,285.8 438.8,285.0 438.2,284.0 437.6,282.9 437.0,281.6 436.4,280.2 435.8,279.1 435.2,278.2 434.6,277.8 434.4,277.8 434.0,278.1 433.4,278.9 432.8,280.1 432.2,281.6 431.6,282.5 431.0,283.0 430.4,282.9 429.8,282.2 429.2,278.3 428.8,277.9 428.6,277.8 428.2,278.0 428.0,278.2 427.9,278.3 427.4,279.2 427.2,279.6 426.8,280.8 426.2,282.1 425.6,282.6 425.0,282.8 424.4,282.7 423.8,282.5 423.2,282.4 422.6,283.2 422.0,283.6 421.4,283.4 420.8,282.8 420.2,282.2 419.6,282.6 419.0,283.1 418.4,283.6 417.8,285.0 417.2,286.1 416.6,285.8 416.0,284.5 415.4,283.1 414.8,282.3 414.2,281.5 413.6,280.7 413.0,280.0 412.7,279.6 412.4,279.1 411.8,278.0 411.2,277.1 410.6,276.6 410.0,276.9 409.4,278.4 408.8,280.4 408.2,282.4 407.6,283.8 407.0,284.3 406.4,285.0 405.8,285.4 405.2,285.7 404.6,286.0 404.0,286.2 403.4,286.6 402.8,287.0 402.2,287.5 401.6,287.9 401.0,288.2 400.4,288.1 399.8,287.7 399.2,287.1 398.6,286.5 398.0,285.8 397.4,285.2 396.8,284.6 396.3,284.1 396.2,284.0 395.6,283.5 395.0,283.6 394.4,283.7 394.3,283.7 393.8,283.8 393.2,283.9 392.6,284.0 392.4,284.0 392.0,284.0 391.4,283.8 390.8,283.7 390.4,283.1 390.2,282.7 389.6,282.0 389.2,281.6 389.0,281.4 388.7,281.2 388.4,281.1 388.1,281.1 387.8,281.2 387.2,281.5 386.6,283.8 386.0,285.2 385.4,286.2 384.8,287.2 384.2,287.9 383.6,288.4 383.0,288.5 382.4,288.1 381.8,287.2 381.2,286.1 380.6,285.1 380.0,284.2 379.4,283.3 378.8,282.7 378.2,282.3 377.6,282.1 377.0,282.2 376.4,282.5 375.8,283.0 375.2,283.5 374.6,284.3 374.0,285.3 373.4,286.5 372.8,287.6 372.2,288.3 371.6,288.4 371.0,288.4 370.4,288.4 369.8,288.3 369.2,288.2 368.6,288.1 368.0,288.0 367.4,287.8 366.8,287.5 366.2,287.2 365.6,286.8 365.0,286.6 364.4,286.4 363.8,286.3 363.2,286.4 362.6,286.5 362.0,286.6 361.4,286.7 360.8,286.7 360.2,286.5 359.6,286.1 359.0,285.6 358.4,285.0 357.8,284.7 357.2,284.6 356.6,284.5 356.0,284.6 355.4,284.6 354.8,284.7 354.2,284.6 353.6,284.3 353.0,283.8 352.4,283.2 351.8,282.6 351.2,282.2 350.6,281.7 350.0,281.3 349.4,281.0 348.8,280.6 348.2,280.1 347.6,279.6 347.0,279.1 346.4,278.7 345.8,278.4 345.2,278.2 344.8,278.2 344.6,278.3 344.0,278.9 343.4,279.5 342.8,280.2 342.2,280.6 341.6,281.0 341.0,281.2 340.4,281.2 339.8,281.0 339.2,280.4 338.6,279.5 338.0,278.3 337.4,276.7 336.8,275.8 336.4,275.4 336.2,275.3 335.6,275.5 335.0,276.2 334.5,277.2 334.4,277.4 333.8,278.8 333.2,280.2 332.6,281.3 332.0,282.0 331.4,282.0 330.8,281.2 330.3,280.3 330.2,280.0 329.6,278.9 329.0,278.3 328.4,278.3 327.8,278.5 327.2,279.0 326.6,279.5 326.0,280.2 325.4,281.2 324.8,282.0 324.2,282.7 323.6,283.4 323.0,284.0 322.4,284.3 321.8,284.3 321.2,283.7 320.6,282.7 320.0,281.6 319.4,280.6 318.8,279.7 318.2,279.2 317.6,279.3 317.5,279.3 317.0,279.6 316.4,279.9 315.8,280.1 315.2,280.2 314.6,279.7 314.0,278.8 313.4,277.7 312.8,276.7 312.6,276.5 312.2,276.2 311.6,275.9 311.0,275.7 310.7,275.5 310.4,275.2 309.8,272.6 309.2,268.7 308.7,266.0 308.6,265.7 308.2,264.5 308.0,263.9 307.5,262.6 307.4,262.3 306.8,260.9 306.3,259.9 306.2,259.8 305.6,259.1 305.0,259.2 304.6,260.6 304.4,261.7 303.8,267.6 303.3,276.4 303.2,278.4 302.6,284.0 302.0,283.4 301.4,282.6 300.8,282.0 300.2,281.5 299.6,281.0 299.0,280.5 298.4,280.3 297.8,280.2 297.2,280.6 296.6,281.3 296.0,282.2 295.4,283.4 295.0,284.4 294.8,284.8 294.2,285.6 293.6,285.5 293.0,285.1 292.4,284.6 291.8,284.0 291.2,283.1 290.6,282.0 290.1,280.6 290.0,280.3 289.4,278.5 288.8,277.1 288.2,276.8 287.8,276.9 287.6,276.9 287.0,277.0 286.4,277.2 285.8,277.3 285.7,277.3 285.2,277.3 284.6,277.2 284.0,277.0 283.7,276.9 283.4,276.8 282.8,272.7 282.2,268.8 281.8,266.2 281.6,264.9 281.3,263.0 281.0,261.0 280.4,258.8 279.8,256.6 279.2,254.5 278.8,253.0 278.6,253.9 278.0,256.5 277.8,257.4 277.4,259.1 276.9,261.3 276.8,261.7 276.4,263.5 276.2,263.1 275.6,261.8 275.4,261.4 275.0,260.6 274.4,259.4 273.8,258.9 273.5,258.7 273.2,258.5 272.6,258.0 272.5,257.9 272.0,257.5 271.5,257.2 271.4,257.2 271.0,257.0 270.8,256.9 270.6,256.8 270.2,256.6 269.6,257.2 269.5,257.4 269.0,258.2 268.4,259.3 268.2,259.7 267.8,262.1 267.2,266.8 266.6,269.4 266.1,271.1 266.0,271.4 265.4,273.9 264.8,277.3 264.2,280.9 263.6,283.1 263.0,285.3 262.4,287.2 261.8,288.5 261.2,289.3 260.6,290.0 260.0,290.5 259.4,290.7 258.8,290.7 258.2,290.7 257.6,290.7 257.0,290.7 256.4,290.7 255.8,290.7 255.2,290.7 254.6,290.7 254.0,290.7 253.4,290.7 252.8,290.7 252.2,290.7 251.6,290.7 251.0,290.7 250.4,290.7 249.8,290.7 249.2,290.3 248.6,289.5 248.0,288.8 247.4,288.3 246.8,288.4 246.2,288.7 245.6,289.0 245.0,289.1 244.4,289.2 243.8,289.2 243.2,289.2 242.6,289.2 242.0,289.2 241.4,289.3 240.8,289.3 240.2,289.3 239.6,289.4 239.0,289.7 238.4,289.9 237.8,290.3 237.2,290.6 236.6,290.9 236.0,291.1 235.4,291.4 234.8,291.4 234.2,291.3 233.6,291.0 233.0,290.7 232.4,290.3 231.8,289.9 231.2,289.6 230.6,289.1 230.0,288.7 229.4,288.4 228.8,288.1 228.2,288.1 227.6,288.4 227.0,289.0 226.4,289.6 225.8,290.1 225.2,290.2 224.6,289.7 224.0,288.6 223.4,287.5 222.8,287.4 222.2,287.9 221.6,288.7 221.0,289.5 220.4,290.1 219.8,290.3 219.2,290.5 218.6,290.6 218.0,290.8 217.4,290.9 216.8,291.0 216.2,291.0 215.6,291.1 215.0,291.1 214.4,291.1 213.8,291.1 213.2,291.1 212.6,291.1 212.0,291.1 211.4,291.1 210.8,291.1 210.2,291.1 209.6,291.0 209.0,291.0 208.4,291.0 207.8,290.9 207.2,290.8 206.6,290.5 206.0,290.2 205.4,289.8 204.8,289.4 204.2,289.1 203.6,288.8 203.0,288.5 202.4,288.1 201.8,287.7 201.2,287.4 200.6,287.1 200.0,287.0 199.4,287.0 198.8,287.1 198.2,287.4 197.6,287.7 197.0,287.9 196.4,288.0 195.8,287.7 195.2,287.1 194.6,286.3 194.0,285.8 193.4,285.7 192.8,286.5 192.2,287.3 191.6,287.7 191.0,288.0 190.4,288.2 189.8,288.4 189.2,288.6 188.6,288.8 188.0,289.0 187.4,289.2 186.8,289.4 186.2,289.6 185.6,289.7 185.0,289.9 184.4,290.1 183.8,290.3 183.2,290.5 182.6,290.7 182.0,290.9 181.4,291.2 180.8,291.5 180.2,291.8 179.6,292.0 179.0,292.2 178.4,292.4 177.8,292.5 177.2,292.7 176.6,292.9 176.0,293.0 175.4,293.1 174.8,293.2 174.2,293.3 173.6,293.4 173.0,293.4 172.4,293.5 171.8,293.5 171.2,293.6 170.6,293.6 170.0,293.6 169.4,293.6 168.8,293.6 168.2,293.6 167.6,293.7 167.0,293.7 166.4,293.7 165.8,293.6 165.2,293.5 164.6,293.3 164.0,293.2 163.4,293.1 162.8,293.2 162.2,293.3 161.6,293.4 161.0,293.6 160.4,293.7 159.8,293.8 159.2,293.8 158.6,293.8 158.0,293.8 157.4,293.9 156.8,293.9 156.2,293.9 155.6,293.9 155.0,293.9 154.4,294.0 153.8,294.0 153.2,294.0 152.6,294.0 152.0,294.0 151.4,294.0 150.8,294.0 150.2,294.0 149.6,294.0 149.0,294.0 148.4,294.0 147.8,294.0 147.2,294.0 146.6,294.1 146.0,294.1 145.4,294.1 144.8,294.1 144.2,294.1 143.6,294.1 143.0,294.1 142.4,294.1 141.8,294.1 141.2,294.1 140.6,294.1 140.0,294.1 139.4,294.1 138.8,294.1 138.2,294.1 137.6,294.1 137.0,294.1 136.4,294.1 135.8,294.1 135.2,294.1 134.6,294.1 134.0,294.2 133.4,294.2 132.8,294.2 132.2,294.2 131.6,294.2 131.0,294.2 130.4,294.2 129.8,294.2 129.2,294.2 128.6,294.2 128.0,294.2 127.4,294.2 126.8,294.2 126.2,294.2 125.6,294.2 125.0,294.2 124.4,294.2 123.8,294.2 123.2,294.2 122.6,294.2 122.0,294.2 121.4,294.2 120.8,294.2 120.2,294.2 119.6,294.2 119.0,294.2 118.4,294.2 117.8,294.2 117.2,294.3 116.6,294.3 116.0,294.3 115.4,294.3 114.8,294.3 114.2,294.3 113.6,294.3 113.0,294.3 112.4,294.3 111.8,294.3 111.2,294.3 110.6,294.3 110.0,294.3 109.4,294.3 108.8,294.3 108.2,294.3 107.6,294.3 107.0,294.3 106.4,294.3 105.8,294.3 105.2,294.3 104.6,294.3 104.0,294.3 103.4,294.3 102.8,294.3 102.2,294.3 101.6,294.3 101.0,294.3 100.4,294.3 99.8,294.3 99.2,294.3 98.6,294.3 98.0,294.3 97.4,294.3 96.8,294.3 96.2,294.3 95.6,294.3 95.0,294.3 94.4,294.3 93.8,294.3 93.2,294.3 92.6,294.3 92.0,294.3 91.4,294.3 90.8,294.3 90.2,294.4 89.6,294.4 89.0,294.4 88.4,294.4 87.8,294.4 87.2,294.4 86.6,294.4 86.0,294.4 85.4,294.4 84.8,294.4 84.2,294.4 83.6,294.4 83.0,294.4 82.4,294.4 81.8,294.4 81.2,294.4 80.6,294.4 80.0,294.4 79.4,294.4 78.8,294.4 78.2,294.4 77.6,294.4 77.0,294.4 76.4,294.4 75.8,294.4 75.2,294.4 74.6,294.4 74.0,294.4 73.4,294.4 72.8,294.4 72.2,294.4 71.6,294.4 71.0,294.4 70.4,294.4 69.8,294.4 69.2,294.4 68.6,294.4 68.0,294.4 67.4,294.4 66.8,294.4 66.2,294.4 65.6,294.4 65.0,294.4 64.4,294.4 63.8,294.4 63.2,294.4 62.6,294.4 62.0,294.4 61.4,294.4 60.8,294.4 60.2,294.4 59.6,294.4 59.0,294.4 58.4,294.4 57.8,294.4 57.2,294.4 56.6,294.4 56.0,294.4 55.4,294.4 54.8,294.4 54.2,294.4 53.6,294.4 53.0,294.4 52.4,294.4 51.8,294.4 51.2,294.4 50.6,294.4 50.0,294.4 49.4,294.4 48.8,294.4 48.2,294.4 47.6,294.4 47.0,294.4Z" fill="#d6f4e6" fill-opacity="1" stroke="none"/>
<path d="M47.0,294.4 47.6,294.4 48.2,294.4 48.8,294.4 49.4,294.4 50.0,294.4 50.6,294.4 51.2,294.4 51.8,294.4 52.4,294.4 53.0,294.4 53.6,294.4 54.2,294.4 54.8,294.4 55.4,294.4 56.0,294.4 56.6,294.4 57.2,294.4 57.8,294.4 58.4,294.4 59.0,294.4 59.6,294.4 60.2,294.4 60.8,294.4 61.4,294.4 62.0,294.4 62.6,294.4 63.2,294.4 63.8,294.4 64.4,294.4 65.0,294.4 65.6,294.4 66.2,294.4 66.8,294.4 67.4,294.4 68.0,294.4 68.6,294.4 69.2,294.4 69.8,294.4 70.4,294.4 71.0,294.4 71.6,294.4 72.2,294.4 72.8,294.4 73.4,294.4 74.0,294.4 74.6,294.4 75.2,294.4 75.8,294.4 76.4,294.4 77.0,294.4 77.6,294.4 78.2,294.4 78.8,294.4 79.4,294.4 80.0,294.4 80.6,294.4 81.2,294.4 81.8,294.4 82.4,294.4 83.0,294.4 83.6,294.4 84.2,294.4 84.8,294.4 85.4,294.4 86.0,294.4 86.6,294.4 87.2,294.4 87.8,294.4 88.4,294.4 89.0,294.4 89.6,294.4 90.2,294.4 90.8,294.3 91.4,294.3 92.0,294.3 92.6,294.3 93.2,294.3 93.8,294.3 94.4,294.3 95.0,294.3 95.6,294.3 96.2,294.3 96.8,294.3 97.4,294.3 98.0,294.3 98.6,294.3 99.2,294.3 99.8,294.3 100.4,294.3 101.0,294.3 101.6,294.3 102.2,294.3 102.8,294.3 103.4,294.3 104.0,294.3 104.6,294.3 105.2,294.3 105.8,294.3 106.4,294.3 107.0,294.3 107.6,294.3 108.2,294.3 108.8,294.3 109.4,294.3 110.0,294.3 110.6,294.3 111.2,294.3 111.8,294.3 112.4,294.3 113.0,294.3 113.6,294.3 114.2,294.3 114.8,294.3 115.4,294.3 116.0,294.3 116.6,294.3 117.2,294.3 117.8,294.2 118.4,294.2 119.0,294.2 119.6,294.2 120.2,294.2 120.8,294.2 121.4,294.2 122.0,294.2 122.6,294.2 123.2,294.2 123.8,294.2 124.4,294.2 125.0,294.2 125.6,294.2 126.2,294.2 126.8,294.2 127.4,294.2 128.0,294.2 128.6,294.2 129.2,294.2 129.8,294.2 130.4,294.2 131.0,294.2 131.6,294.2 132.2,294.2 132.8,294.2 133.4,294.2 134.0,294.2 134.6,294.1 135.2,294.1 135.8,294.1 136.4,294.1 137.0,294.1 137.6,294.1 138.2,294.1 138.8,294.1 139.4,294.1 140.0,294.1 140.6,294.1 141.2,294.1 141.8,294.1 142.4,294.1 143.0,294.1 143.6,294.1 144.2,294.1 144.8,294.1 145.4,294.1 146.0,294.1 146.6,294.1 147.2,294.0 147.8,294.0 148.4,294.0 149.0,294.0 149.6,294.0 150.2,294.0 150.8,294.0 151.4,294.0 152.0,294.0 152.6,294.0 153.2,294.0 153.8,294.0 154.4,294.0 155.0,293.9 155.6,293.9 156.2,293.9 156.8,293.9 157.4,293.9 158.0,293.8 158.6,293.8 159.2,293.8 159.8,293.8 160.4,293.7 161.0,293.6 161.6,293.4 162.2,293.3 162.8,293.2 163.4,293.1 164.0,293.2 164.6,293.3 165.2,293.5 165.8,293.6 166.4,293.7 167.0,293.7 167.6,293.7 168.2,293.6 168.8,293.6 169.4,293.6 170.0,293.6 170.6,293.6 171.2,293.6 171.8,293.5 172.4,293.5 173.0,293.4 173.6,293.4 174.2,293.3 174.8,293.2 175.4,293.1 176.0,293.0 176.6,292.9 177.2,292.7 177.8,292.5 178.4,292.4 179.0,292.2 179.6,292.0 180.2,291.8 180.8,291.5 181.4,291.2 182.0,290.9 182.6,290.7 183.2,290.5 183.8,290.3 184.4,290.1 185.0,289.9 185.6,289.7 186.2,289.6 186.8,289.4 187.4,289.2 188.0,289.0 188.6,288.8 189.2,288.6 189.8,288.4 190.4,288.2 191.0,288.0 191.6,287.7 192.2,287.3 192.8,286.5 193.4,285.7 194.0,285.8 194.6,286.3 195.2,287.1 195.8,287.7 196.4,288.0 197.0,287.9 197.6,287.7 198.2,287.4 198.8,287.1 199.4,287.0 200.0,287.0 200.6,287.1 201.2,287.4 201.8,287.7 202.4,288.1 203.0,288.5 203.6,288.8 204.2,289.1 204.8,289.4 205.4,289.8 206.0,290.2 206.6,290.5 207.2,290.8 207.8,290.9 208.4,291.0 209.0,291.0 209.6,291.0 210.2,291.1 210.8,291.1 211.4,291.1 212.0,291.1 212.6,291.1 213.2,291.1 213.8,291.1 214.4,291.1 215.0,291.1 215.6,291.1 216.2,291.0 216.8,291.0 217.4,290.9 218.0,290.8 218.6,290.6 219.2,290.5 219.8,290.3 220.4,290.1 221.0,289.5 221.6,288.7 222.2,287.9 222.8,287.4 223.4,287.5 224.0,288.6 224.6,289.7 225.2,290.2 225.8,290.1 226.4,289.6 227.0,289.0 227.6,288.4 228.2,288.1 228.8,288.1 229.4,288.4 230.0,288.7 230.6,289.1 231.2,289.6 231.8,289.9 232.4,290.3 233.0,290.7 233.6,291.0 234.2,291.3 234.8,291.4 235.4,291.4 236.0,291.1 236.6,290.9 237.2,290.6 237.8,290.3 238.4,289.9 239.0,289.7 239.6,289.4 240.2,289.3 240.8,289.3 241.4,289.3 242.0,289.2 242.6,289.2 243.2,289.2 243.8,289.2 244.4,289.2 245.0,289.1 245.6,289.0 246.2,288.7 246.8,288.4 247.4,288.3 248.0,288.8 248.6,289.5 249.2,290.3 249.8,290.7 250.4,290.7 251.0,290.7 251.6,290.7 252.2,290.7 252.8,290.7 253.4,290.7 254.0,290.7 254.6,290.7 255.2,290.7 255.8,290.7 256.4,290.7 257.0,290.7 257.6,290.7 258.2,290.7 258.8,290.7 259.4,290.7 260.0,290.5 260.6,290.0 261.2,289.3 261.8,288.5 262.4,287.2 263.0,285.3 263.6,283.1 264.2,280.9 264.8,277.3 265.4,273.9 266.0,271.4 266.1,271.1 266.6,269.4 267.2,266.8 267.8,262.1 268.2,259.7 268.4,259.3 269.0,258.2 269.5,257.4 269.6,257.2 270.2,256.6 270.6,256.8 270.8,256.9 271.0,257.0 271.4,257.2 271.5,257.2 272.0,257.5 272.5,257.9 272.6,258.0 273.2,258.5 273.5,258.7 273.8,258.9 274.4,259.4 275.0,260.6 275.4,261.4 275.6,261.8 276.2,263.1 276.4,263.5 276.8,261.7 276.9,261.3 277.4,259.1 277.8,257.4 278.0,256.5 278.6,253.9 278.8,253.0 279.2,254.5 279.8,256.6 280.4,258.8 281.0,261.0 281.3,263.0 281.6,264.9 281.8,266.2 282.2,268.8 282.8,272.7 283.4,276.8 283.7,276.9 284.0,277.0 284.6,277.2 285.2,277.3 285.7,277.3 285.8,277.3 286.4,277.2 287.0,277.0 287.6,276.9 287.8,276.9 288.2,276.8 288.8,277.1 289.4,278.5 290.0,280.3 290.1,280.6 290.6,282.0 291.2,283.1 291.8,284.0 292.4,284.6 293.0,285.1 293.6,285.5 294.2,285.6 294.8,284.8 295.0,284.4 295.4,283.4 296.0,282.2 296.6,281.3 297.2,280.6 297.8,280.2 298.4,280.3 299.0,280.5 299.6,281.0 300.2,281.5 300.8,282.0 301.4,282.6 302.0,283.4 302.6,284.0 303.2,278.4 303.3,276.4 303.8,267.6 304.4,261.7 304.6,260.6 305.0,259.2 305.6,259.1 306.2,259.8 306.3,259.9 306.8,260.9 307.4,262.3 307.5,262.6 308.0,263.9 308.2,264.5 308.6,265.7 308.7,266.0 309.2,268.7 309.8,272.6 310.4,275.2 310.7,275.5 311.0,275.7 311.6,275.9 312.2,276.2 312.6,276.5 312.8,276.7 313.4,277.7 314.0,278.8 314.6,279.7 315.2,280.2 315.8,280.1 316.4,279.9 317.0,279.6 317.5,279.3 317.6,279.3 318.2,279.2 318.8,279.7 319.4,280.6 320.0,281.6 320.6,282.7 321.2,283.7 321.8,284.3 322.4,284.3 323.0,284.0 323.6,283.4 324.2,282.7 324.8,282.0 325.4,281.2 326.0,280.2 326.6,279.5 327.2,279.0 327.8,278.5 328.4,278.3 329.0,278.3 329.6,278.9 330.2,280.0 330.3,280.3 330.8,281.2 331.4,282.0 332.0,282.0 332.6,281.3 333.2,280.2 333.8,278.8 334.4,277.4 334.5,277.2 335.0,276.2 335.6,275.5 336.2,275.3 336.4,275.4 336.8,275.8 337.4,276.7 338.0,278.3 338.6,279.5 339.2,280.4 339.8,281.0 340.4,281.2 341.0,281.2 341.6,281.0 342.2,280.6 342.8,280.2 343.4,279.5 344.0,278.9 344.6,278.3 344.8,278.2 345.2,278.2 345.8,278.4 346.4,278.7 347.0,279.1 347.6,279.6 348.2,280.1 348.8,280.6 349.4,281.0 350.0,281.3 350.6,281.7 351.2,282.2 351.8,282.6 352.4,283.2 353.0,283.8 353.6,284.3 354.2,284.6 354.8,284.7 355.4,284.6 356.0,284.6 356.6,284.5 357.2,284.6 357.8,284.7 358.4,285.0 359.0,285.6 359.6,286.1 360.2,286.5 360.8,286.7 361.4,286.7 362.0,286.6 362.6,286.5 363.2,286.4 363.8,286.3 364.4,286.4 365.0,286.6 365.6,286.8 366.2,287.2 366.8,287.5 367.4,287.8 368.0,288.0 368.6,288.1 369.2,288.2 369.8,288.3 370.4,288.4 371.0,288.4 371.6,288.4 372.2,288.3 372.8,287.6 373.4,286.5 374.0,285.3 374.6,284.3 375.2,283.5 375.8,283.0 376.4,282.5 377.0,282.2 377.6,282.1 378.2,282.3 378.8,282.7 379.4,283.3 380.0,284.2 380.6,285.1 381.2,286.1 381.8,287.2 382.4,288.1 383.0,288.5 383.6,288.4 384.2,287.9 384.8,287.2 385.4,286.2 386.0,285.2 386.6,283.8 387.2,281.5 387.8,281.2 388.1,281.1 388.4,281.1 388.7,281.2 389.0,281.4 389.2,281.6 389.6,282.0 390.2,282.7 390.4,283.1 390.8,283.7 391.4,283.8 392.0,284.0 392.4,284.0 392.6,284.0 393.2,283.9 393.8,283.8 394.3,283.7 394.4,283.7 395.0,283.6 395.6,283.5 396.2,284.0 396.3,284.1 396.8,284.6 397.4,285.2 398.0,285.8 398.6,286.5 399.2,287.1 399.8,287.7 400.4,288.1 401.0,288.2 401.6,287.9 402.2,287.5 402.8,287.0 403.4,286.6 404.0,286.2 404.6,286.0 405.2,285.7 405.8,285.4 406.4,285.0 407.0,284.3 407.6,283.8 408.2,282.4 408.8,280.4 409.4,278.4 410.0,276.9 410.6,276.6 411.2,277.1 411.8,278.0 412.4,279.1 412.7,279.6 413.0,280.0 413.6,280.7 414.2,281.5 414.8,282.3 415.4,283.1 416.0,284.5 416.6,285.8 417.2,286.1 417.8,285.0 418.4,283.6 419.0,283.1 419.6,282.6 420.2,282.2 420.8,282.8 421.4,283.4 422.0,283.6 422.6,283.2 423.2,282.4 423.8,282.5 424.4,282.7 425.0,282.8 425.6,282.6 426.2,282.1 426.8,280.8 427.2,279.6 427.4,279.2 427.9,278.3 428.0,278.2 428.2,278.0 428.6,277.8 428.8,277.9 429.2,278.3 429.8,282.2 430.4,282.9 431.0,283.0 431.6,282.5 432.2,281.6 432.8,280.1 433.4,278.9 434.0,278.1 434.4,277.8 434.6,277.8 435.2,278.2 435.8,279.1 436.4,280.2 437.0,281.6 437.6,282.9 438.2,284.0 438.8,285.0 439.4,285.8 440.0,286.3 440.6,286.2 440.7,286.1 441.2,285.2 441.8,284.0 442.4,283.6 442.7,283.2 443.0,282.9 443.6,282.1 443.7,282.0 444.2,281.4 444.8,280.8 445.4,280.6 446.0,280.6 446.6,280.6 446.8,280.6 447.2,280.6 447.8,280.6 448.4,280.6 449.0,280.6 449.5,280.6 449.6,280.6 450.2,280.6 450.8,280.6 451.4,280.6 451.5,280.6 452.0,280.3 452.6,278.2 452.8,277.9 453.2,277.5 453.5,277.4 453.8,277.5 454.2,278.1 454.4,278.6 455.0,280.2 455.6,281.9 456.2,283.4 456.8,284.6 457.4,285.8 458.0,286.5 458.6,287.0 459.2,287.2 459.8,287.2 460.4,286.1 461.0,284.5 461.6,283.5 462.2,283.5 462.8,283.6 463.4,283.7 464.0,283.8 464.3,283.9 464.6,283.9 465.2,284.0 465.8,284.2 466.4,284.5 467.0,284.8 467.6,285.0 468.2,285.2 468.8,285.5 469.4,285.7 470.0,285.9 470.6,286.1 471.2,286.2 471.8,286.4 472.4,286.5 473.0,286.5 473.6,286.6 474.2,286.7 474.8,286.7 475.1,286.7 475.4,286.8 476.0,286.8 476.6,286.8 477.2,286.6 477.8,286.2 478.4,285.8 479.0,285.4 479.6,285.0 480.2,284.8 480.5,284.8 480.8,284.9 481.4,284.9 482.0,285.2 482.6,285.5 483.2,285.7 483.8,286.0 484.4,286.2 485.0,286.4 485.6,286.6 486.2,286.8 486.8,287.1 487.6,287.8 L487.6,290.1 486.8,289.9 486.2,289.8 485.6,289.6 485.0,289.5 484.4,289.4 483.8,289.3 483.2,289.2 482.6,289.1 482.0,289.0 481.4,288.9 480.8,288.9 480.5,288.8 480.2,288.8 479.6,288.8 479.0,288.8 478.4,288.8 477.8,288.8 477.2,288.8 476.6,288.8 476.0,288.8 475.4,288.8 475.1,288.8 474.8,288.8 474.2,288.8 473.6,288.8 473.0,288.8 472.4,288.8 471.8,288.8 471.2,288.8 470.6,288.7 470.0,288.7 469.4,288.6 468.8,288.5 468.2,288.5 467.6,288.4 467.0,288.3 466.4,288.2 465.8,288.1 465.2,288.0 464.6,287.9 464.3,287.9 464.0,287.8 463.4,287.7 462.8,287.6 462.2,287.5 461.6,287.5 461.0,287.5 460.4,287.6 459.8,287.7 459.2,287.8 458.6,287.9 458.0,288.0 457.4,288.1 456.8,288.1 456.2,287.4 455.6,285.9 455.0,284.2 454.4,282.6 454.2,282.1 453.8,281.5 453.5,281.4 453.2,281.5 452.8,281.9 452.6,282.2 452.0,283.3 451.5,284.1 451.4,284.2 450.8,284.6 450.2,284.6 449.6,284.6 449.5,284.6 449.0,284.6 448.4,284.6 447.8,284.6 447.2,284.6 446.8,284.6 446.6,284.6 446.0,284.6 445.4,284.6 444.8,284.8 444.2,285.4 443.7,286.0 443.6,286.1 443.0,286.9 442.7,287.2 442.4,287.6 441.8,288.0 441.2,288.1 440.7,288.0 440.6,288.0 440.0,287.8 439.4,287.6 438.8,287.3 438.2,286.9 437.6,286.4 437.0,285.5 436.4,284.2 435.8,283.1 435.2,282.2 434.6,281.8 434.4,281.8 434.0,282.1 433.4,282.9 432.8,284.0 432.2,284.9 431.6,285.5 431.0,285.5 430.4,284.6 429.8,283.4 429.2,282.3 428.8,281.9 428.6,281.8 428.2,282.0 428.0,282.2 427.9,282.3 427.4,283.2 427.2,283.6 426.8,284.5 426.2,285.8 425.6,286.6 425.0,286.8 424.4,286.7 423.8,286.5 423.2,286.3 422.6,286.1 422.0,285.9 421.4,285.8 420.8,285.9 420.2,286.2 419.6,286.6 419.0,287.1 418.4,287.6 417.8,288.0 417.2,288.2 416.6,288.1 416.0,287.7 415.4,287.1 414.8,286.3 414.2,285.5 413.6,284.7 413.0,284.0 412.7,283.6 412.4,283.1 411.8,282.0 411.2,281.1 410.6,280.6 410.0,280.9 409.4,282.4 408.8,284.4 408.2,286.4 407.6,287.8 407.0,288.2 406.4,288.6 405.8,288.9 405.2,289.2 404.6,289.4 404.0,289.6 403.4,289.7 402.8,289.8 402.2,289.9 401.6,289.9 401.0,289.8 400.4,289.6 399.8,289.3 399.2,288.9 398.6,288.6 398.0,288.2 397.4,287.9 396.8,287.7 396.3,287.5 396.2,287.5 395.6,287.5 395.0,287.6 394.4,287.7 394.3,287.7 393.8,287.8 393.2,287.9 392.6,288.0 392.4,288.0 392.0,288.0 391.4,287.8 390.8,287.3 390.4,286.9 390.2,286.7 389.6,286.0 389.2,285.6 389.0,285.4 388.7,285.2 388.4,285.1 388.1,285.1 387.8,285.2 387.2,285.5 386.6,286.0 386.0,286.6 385.4,287.4 384.8,288.1 384.2,288.8 383.6,289.4 383.0,289.8 382.4,289.9 381.8,289.7 381.2,289.3 380.6,288.7 380.0,288.0 379.4,287.3 378.8,286.7 378.2,286.3 377.6,286.1 377.0,286.2 376.4,286.5 375.8,287.0 375.2,287.5 374.6,288.1 374.0,288.7 373.4,289.2 372.8,289.6 372.2,289.8 371.6,289.9 371.0,289.9 370.4,289.9 369.8,289.9 369.2,289.8 368.6,289.8 368.0,289.8 367.4,289.7 366.8,289.7 366.2,289.7 365.6,289.6 365.0,289.6 364.4,289.5 363.8,289.5 363.2,289.4 362.6,289.4 362.0,289.3 361.4,289.2 360.8,289.2 360.2,289.1 359.6,289.0 359.0,288.9 358.4,288.8 357.8,288.7 357.2,288.6 356.6,288.5 356.0,288.4 355.4,288.2 354.8,288.1 354.2,287.9 353.6,287.7 353.0,287.4 352.4,287.0 351.8,286.6 351.2,286.2 350.6,285.7 350.0,285.3 349.4,285.0 348.8,284.6 348.2,284.1 347.6,283.6 347.0,283.1 346.4,282.7 345.8,282.4 345.2,282.2 344.8,282.2 344.6,282.3 344.0,282.9 343.4,283.4 342.8,283.4 342.2,283.4 341.6,283.4 341.0,283.3 340.4,283.3 339.8,283.2 339.2,283.1 338.6,282.6 338.0,281.7 337.4,280.7 336.8,279.8 336.4,279.4 336.2,279.3 335.6,279.5 335.0,280.2 334.5,281.2 334.4,281.4 333.8,282.8 333.2,284.2 332.6,285.3 332.0,286.0 331.4,286.0 330.8,285.2 330.3,284.3 330.2,284.0 329.6,282.9 329.0,282.3 328.4,282.3 327.8,282.5 327.2,283.0 326.6,283.5 326.0,284.1 325.4,284.7 324.8,285.3 324.2,286.0 323.6,286.8 323.0,287.5 322.4,287.9 321.8,287.9 321.2,287.4 320.6,286.4 320.0,285.3 319.4,284.3 318.8,283.5 318.2,283.2 317.6,283.3 317.5,283.3 317.0,283.6 316.4,283.9 315.8,284.1 315.2,284.2 314.6,283.7 314.0,282.8 313.4,281.7 312.8,280.7 312.6,280.5 312.2,280.2 311.6,279.9 311.0,279.7 310.7,279.5 310.4,279.2 309.8,276.6 309.2,272.7 308.7,270.0 308.6,269.7 308.2,268.5 308.0,267.9 307.5,266.6 307.4,266.3 306.8,264.9 306.3,263.9 306.2,263.8 305.6,263.1 305.0,263.2 304.6,264.6 304.4,265.7 303.8,270.0 303.3,280.0 303.2,282.4 302.6,288.0 302.0,287.4 301.4,286.6 300.8,286.0 300.2,285.5 299.6,285.0 299.0,284.5 298.4,284.3 297.8,284.2 297.2,284.6 296.6,285.3 296.0,286.2 295.4,287.0 295.0,287.5 294.8,287.7 294.2,288.0 293.6,288.0 293.0,287.8 292.4,287.6 291.8,287.3 291.2,287.0 290.6,286.0 290.1,284.6 290.0,284.3 289.4,282.5 288.8,281.1 288.2,280.8 287.8,280.9 287.6,280.9 287.0,281.0 286.4,281.2 285.8,281.3 285.7,281.3 285.2,281.3 284.6,281.2 284.0,281.0 283.7,280.9 283.4,280.8 282.8,280.4 282.2,279.4 281.8,277.5 281.6,276.4 281.3,274.6 281.0,273.1 280.4,271.1 279.8,269.8 279.2,268.7 278.8,268.1 278.6,268.0 278.0,267.9 277.8,268.2 277.4,269.0 276.9,270.5 276.8,270.8 276.4,271.9 276.2,272.2 275.6,272.6 275.4,272.5 275.0,272.3 274.4,271.7 273.8,270.9 273.5,270.5 273.2,270.1 272.6,269.2 272.5,269.0 272.0,267.8 271.5,266.5 271.4,266.2 271.0,265.2 270.8,264.8 270.6,264.4 270.2,264.0 269.6,264.0 269.5,264.0 269.0,264.2 268.4,264.6 268.2,264.8 267.8,265.4 267.2,267.6 266.6,270.7 266.1,273.5 266.0,274.0 265.4,277.8 264.8,282.0 264.2,284.8 263.6,286.6 263.0,288.1 262.4,289.3 261.8,290.2 261.2,290.6 260.6,291.0 260.0,291.2 259.4,291.4 258.8,291.4 258.2,291.4 257.6,291.4 257.0,291.4 256.4,291.4 255.8,291.4 255.2,291.4 254.6,291.4 254.0,291.4 253.4,291.4 252.8,291.4 252.2,291.4 251.6,291.4 251.0,291.4 250.4,291.4 249.8,291.4 249.2,291.1 248.6,290.6 248.0,290.1 247.4,289.7 246.8,289.6 246.2,289.8 245.6,290.1 245.0,290.3 244.4,290.3 243.8,290.4 243.2,290.4 242.6,290.4 242.0,290.4 241.4,290.4 240.8,290.5 240.2,290.5 239.6,290.5 239.0,290.6 238.4,290.7 237.8,290.8 237.2,290.9 236.6,291.0 236.0,291.2 235.4,291.4 234.8,291.4 234.2,291.4 233.6,291.5 233.0,291.5 232.4,291.4 231.8,291.2 231.2,290.9 230.6,290.6 230.0,290.3 229.4,290.0 228.8,289.8 228.2,289.8 227.6,290.1 227.0,290.5 226.4,291.0 225.8,291.3 225.2,291.3 224.6,291.1 224.0,290.8 223.4,290.6 222.8,290.5 222.2,290.5 221.6,290.6 221.0,290.6 220.4,290.7 219.8,290.8 219.2,290.9 218.6,291.0 218.0,291.1 217.4,291.2 216.8,291.3 216.2,291.3 215.6,291.4 215.0,291.4 214.4,291.4 213.8,291.4 213.2,291.4 212.6,291.4 212.0,291.4 211.4,291.3 210.8,291.3 210.2,291.3 209.6,291.3 209.0,291.3 208.4,291.2 207.8,291.2 207.2,291.1 206.6,290.8 206.0,290.5 205.4,290.2 204.8,289.9 204.2,289.6 203.6,289.3 203.0,289.0 202.4,288.6 201.8,288.2 201.2,287.9 200.6,287.7 200.0,287.5 199.4,287.5 198.8,287.7 198.2,287.9 197.6,288.2 197.0,288.4 196.4,288.5 195.8,288.3 195.2,287.7 194.6,287.1 194.0,286.6 193.4,286.6 192.8,287.1 192.2,287.8 191.6,288.2 191.0,288.5 190.4,288.7 189.8,288.9 189.2,289.1 188.6,289.3 188.0,289.5 187.4,289.7 186.8,289.9 186.2,290.1 185.6,290.3 185.0,290.4 184.4,290.6 183.8,290.8 183.2,291.0 182.6,291.3 182.0,291.5 181.4,291.8 180.8,292.2 180.2,292.5 179.6,292.7 179.0,292.8 178.4,293.0 177.8,293.1 177.2,293.2 176.6,293.3 176.0,293.5 175.4,293.6 174.8,293.6 174.2,293.7 173.6,293.8 173.0,293.8 172.4,293.9 171.8,293.9 171.2,294.0 170.6,294.0 170.0,294.0 169.4,294.0 168.8,294.0 168.2,294.0 167.6,294.0 167.0,294.0 166.4,294.0 165.8,294.0 165.2,294.0 164.6,294.0 164.0,294.1 163.4,294.1 162.8,294.1 162.2,294.1 161.6,294.1 161.0,294.1 160.4,294.1 159.8,294.1 159.2,294.1 158.6,294.1 158.0,294.1 157.4,294.1 156.8,294.1 156.2,294.1 155.6,294.1 155.0,294.1 154.4,294.1 153.8,294.1 153.2,294.1 152.6,294.1 152.0,294.1 151.4,294.1 150.8,294.1 150.2,294.1 149.6,294.2 149.0,294.2 148.4,294.2 147.8,294.2 147.2,294.2 146.6,294.2 146.0,294.2 145.4,294.2 144.8,294.2 144.2,294.2 143.6,294.2 143.0,294.2 142.4,294.2 141.8,294.2 141.2,294.2 140.6,294.2 140.0,294.2 139.4,294.2 138.8,294.2 138.2,294.2 137.6,294.2 137.0,294.2 136.4,294.2 135.8,294.2 135.2,294.2 134.6,294.2 134.0,294.2 133.4,294.2 132.8,294.2 132.2,294.2 131.6,294.3 131.0,294.3 130.4,294.3 129.8,294.3 129.2,294.3 128.6,294.3 128.0,294.3 127.4,294.3 126.8,294.3 126.2,294.3 125.6,294.3 125.0,294.3 124.4,294.3 123.8,294.3 123.2,294.3 122.6,294.3 122.0,294.3 121.4,294.3 120.8,294.3 120.2,294.3 119.6,294.3 119.0,294.3 118.4,294.3 117.8,294.3 117.2,294.3 116.6,294.3 116.0,294.3 115.4,294.3 114.8,294.3 114.2,294.3 113.6,294.3 113.0,294.3 112.4,294.3 111.8,294.3 111.2,294.3 110.6,294.3 110.0,294.3 109.4,294.3 108.8,294.3 108.2,294.3 107.6,294.3 107.0,294.3 106.4,294.3 105.8,294.3 105.2,294.3 104.6,294.3 104.0,294.3 103.4,294.3 102.8,294.3 102.2,294.3 101.6,294.4 101.0,294.4 100.4,294.4 99.8,294.4 99.2,294.4 98.6,294.4 98.0,294.4 97.4,294.4 96.8,294.4 96.2,294.4 95.6,294.4 95.0,294.4 94.4,294.4 93.8,294.4 93.2,294.4 92.6,294.4 92.0,294.4 91.4,294.4 90.8,294.4 90.2,294.4 89.6,294.4 89.0,294.4 88.4,294.4 87.8,294.4 87.2,294.4 86.6,294.4 86.0,294.4 85.4,294.4 84.8,294.4 84.2,294.4 83.6,294.4 83.0,294.4 82.4,294.4 81.8,294.4 81.2,294.4 80.6,294.4 80.0,294.4 79.4,294.4 78.8,294.4 78.2,294.4 77.6,294.4 77.0,294.4 76.4,294.4 75.8,294.4 75.2,294.4 74.6,294.4 74.0,294.4 73.4,294.4 72.8,294.4 72.2,294.4 71.6,294.4 71.0,294.4 70.4,294.4 69.8,294.4 69.2,294.4 68.6,294.4 68.0,294.4 67.4,294.4 66.8,294.4 66.2,294.4 65.6,294.4 65.0,294.4 64.4,294.4 63.8,294.4 63.2,294.4 62.6,294.4 62.0,294.4 61.4,294.4 60.8,294.4 60.2,294.4 59.6,294.4 59.0,294.4 58.4,294.4 57.8,294.4 57.2,294.4 56.6,294.4 56.0,294.4 55.4,294.4 54.8,294.4 54.2,294.4 53.6,294.4 53.0,294.4 52.4,294.4 51.8,294.4 51.2,294.4 50.6,294.4 50.0,294.4 49.4,294.4 48.8,294.4 48.2,294.4 47.6,294.4 47.0,294.4Z" fill="url(#yel)" fill-opacity="1" stroke="none"/>
<path d="M47.0,294.4 47.6,294.4 48.2,294.4 48.8,294.4 49.4,294.4 50.0,294.4 50.6,294.4 51.2,294.4 51.8,294.4 52.4,294.4 53.0,294.4 53.6,294.4 54.2,294.4 54.8,294.4 55.4,294.4 56.0,294.4 56.6,294.4 57.2,294.4 57.8,294.4 58.4,294.4 59.0,294.4 59.6,294.4 60.2,294.4 60.8,294.4 61.4,294.4 62.0,294.4 62.6,294.4 63.2,294.4 63.8,294.4 64.4,294.4 65.0,294.4 65.6,294.4 66.2,294.4 66.8,294.4 67.4,294.4 68.0,294.4 68.6,294.4 69.2,294.4 69.8,294.4 70.4,294.4 71.0,294.4 71.6,294.4 72.2,294.4 72.8,294.4 73.4,294.4 74.0,294.4 74.6,294.4 75.2,294.4 75.8,294.4 76.4,294.4 77.0,294.4 77.6,294.4 78.2,294.4 78.8,294.4 79.4,294.4 80.0,294.4 80.6,294.4 81.2,294.4 81.8,294.4 82.4,294.4 83.0,294.4 83.6,294.4 84.2,294.4 84.8,294.4 85.4,294.4 86.0,294.4 86.6,294.4 87.2,294.4 87.8,294.4 88.4,294.4 89.0,294.4 89.6,294.4 90.2,294.4 90.8,294.4 91.4,294.4 92.0,294.4 92.6,294.4 93.2,294.4 93.8,294.4 94.4,294.4 95.0,294.4 95.6,294.4 96.2,294.4 96.8,294.4 97.4,294.4 98.0,294.4 98.6,294.4 99.2,294.4 99.8,294.4 100.4,294.4 101.0,294.4 101.6,294.4 102.2,294.3 102.8,294.3 103.4,294.3 104.0,294.3 104.6,294.3 105.2,294.3 105.8,294.3 106.4,294.3 107.0,294.3 107.6,294.3 108.2,294.3 108.8,294.3 109.4,294.3 110.0,294.3 110.6,294.3 111.2,294.3 111.8,294.3 112.4,294.3 113.0,294.3 113.6,294.3 114.2,294.3 114.8,294.3 115.4,294.3 116.0,294.3 116.6,294.3 117.2,294.3 117.8,294.3 118.4,294.3 119.0,294.3 119.6,294.3 120.2,294.3 120.8,294.3 121.4,294.3 122.0,294.3 122.6,294.3 123.2,294.3 123.8,294.3 124.4,294.3 125.0,294.3 125.6,294.3 126.2,294.3 126.8,294.3 127.4,294.3 128.0,294.3 128.6,294.3 129.2,294.3 129.8,294.3 130.4,294.3 131.0,294.3 131.6,294.3 132.2,294.2 132.8,294.2 133.4,294.2 134.0,294.2 134.6,294.2 135.2,294.2 135.8,294.2 136.4,294.2 137.0,294.2 137.6,294.2 138.2,294.2 138.8,294.2 139.4,294.2 140.0,294.2 140.6,294.2 141.2,294.2 141.8,294.2 142.4,294.2 143.0,294.2 143.6,294.2 144.2,294.2 144.8,294.2 145.4,294.2 146.0,294.2 146.6,294.2 147.2,294.2 147.8,294.2 148.4,294.2 149.0,294.2 149.6,294.2 150.2,294.1 150.8,294.1 151.4,294.1 152.0,294.1 152.6,294.1 153.2,294.1 153.8,294.1 154.4,294.1 155.0,294.1 155.6,294.1 156.2,294.1 156.8,294.1 157.4,294.1 158.0,294.1 158.6,294.1 159.2,294.1 159.8,294.1 160.4,294.1 161.0,294.1 161.6,294.1 162.2,294.1 162.8,294.1 163.4,294.1 164.0,294.1 164.6,294.0 165.2,294.0 165.8,294.0 166.4,294.0 167.0,294.0 167.6,294.0 168.2,294.0 168.8,294.0 169.4,294.0 170.0,294.0 170.6,294.0 171.2,294.0 171.8,293.9 172.4,293.9 173.0,293.8 173.6,293.8 174.2,293.7 174.8,293.6 175.4,293.6 176.0,293.5 176.6,293.3 177.2,293.2 177.8,293.1 178.4,293.0 179.0,292.8 179.6,292.7 180.2,292.5 180.8,292.2 181.4,291.8 182.0,291.5 182.6,291.3 183.2,291.0 183.8,290.8 184.4,290.6 185.0,290.4 185.6,290.3 186.2,290.1 186.8,289.9 187.4,289.7 188.0,289.5 188.6,289.3 189.2,289.1 189.8,288.9 190.4,288.7 191.0,288.5 191.6,288.2 192.2,287.8 192.8,287.1 193.4,286.6 194.0,286.6 194.6,287.1 195.2,287.7 195.8,288.3 196.4,288.5 197.0,288.4 197.6,288.2 198.2,287.9 198.8,287.7 199.4,287.5 200.0,287.5 200.6,287.7 201.2,287.9 201.8,288.2 202.4,288.6 203.0,289.0 203.6,289.3 204.2,289.6 204.8,289.9 205.4,290.2 206.0,290.5 206.6,290.8 207.2,291.1 207.8,291.2 208.4,291.2 209.0,291.3 209.6,291.3 210.2,291.3 210.8,291.3 211.4,291.3 212.0,291.4 212.6,291.4 213.2,291.4 213.8,291.4 214.4,291.4 215.0,291.4 215.6,291.4 216.2,291.3 216.8,291.3 217.4,291.2 218.0,291.1 218.6,291.0 219.2,290.9 219.8,290.8 220.4,290.7 221.0,290.6 221.6,290.6 222.2,290.5 222.8,290.5 223.4,290.6 224.0,290.8 224.6,291.1 225.2,291.3 225.8,291.3 226.4,291.0 227.0,290.5 227.6,290.1 228.2,289.8 228.8,289.8 229.4,290.0 230.0,290.3 230.6,290.6 231.2,290.9 231.8,291.2 232.4,291.4 233.0,291.5 233.6,291.5 234.2,291.4 234.8,291.4 235.4,291.4 236.0,291.2 236.6,291.0 237.2,290.9 237.8,290.8 238.4,290.7 239.0,290.6 239.6,290.5 240.2,290.5 240.8,290.5 241.4,290.4 242.0,290.4 242.6,290.4 243.2,290.4 243.8,290.4 244.4,290.3 245.0,290.3 245.6,290.1 246.2,289.8 246.8,289.6 247.4,289.7 248.0,290.1 248.6,290.6 249.2,291.1 249.8,291.4 250.4,291.4 251.0,291.4 251.6,291.4 252.2,291.4 252.8,291.4 253.4,291.4 254.0,291.4 254.6,291.4 255.2,291.4 255.8,291.4 256.4,291.4 257.0,291.4 257.6,291.4 258.2,291.4 258.8,291.4 259.4,291.4 260.0,291.2 260.6,291.0 261.2,290.6 261.8,290.2 262.4,289.3 263.0,288.1 263.6,286.6 264.2,284.8 264.8,282.0 265.4,277.8 266.0,274.0 266.1,273.5 266.6,270.7 267.2,267.6 267.8,265.4 268.2,264.8 268.4,264.6 269.0,264.2 269.5,264.0 269.6,264.0 270.2,264.0 270.6,264.4 270.8,264.8 271.0,265.2 271.4,266.2 271.5,266.5 272.0,267.8 272.5,269.0 272.6,269.2 273.2,270.1 273.5,270.5 273.8,270.9 274.4,271.7 275.0,272.3 275.4,272.5 275.6,272.6 276.2,272.2 276.4,271.9 276.8,270.8 276.9,270.5 277.4,269.0 277.8,268.2 278.0,267.9 278.6,268.0 278.8,268.1 279.2,268.7 279.8,269.8 280.4,271.1 281.0,273.1 281.3,274.6 281.6,276.4 281.8,277.5 282.2,279.4 282.8,280.4 283.4,280.8 283.7,280.9 284.0,281.0 284.6,281.2 285.2,281.3 285.7,281.3 285.8,281.3 286.4,281.2 287.0,281.0 287.6,280.9 287.8,280.9 288.2,280.8 288.8,281.1 289.4,282.5 290.0,284.3 290.1,284.6 290.6,286.0 291.2,287.0 291.8,287.3 292.4,287.6 293.0,287.8 293.6,288.0 294.2,288.0 294.8,287.7 295.0,287.5 295.4,287.0 296.0,286.2 296.6,285.3 297.2,284.6 297.8,284.2 298.4,284.3 299.0,284.5 299.6,285.0 300.2,285.5 300.8,286.0 301.4,286.6 302.0,287.4 302.6,288.0 303.2,282.4 303.3,280.0 303.8,270.0 304.4,265.7 304.6,264.6 305.0,263.2 305.6,263.1 306.2,263.8 306.3,263.9 306.8,264.9 307.4,266.3 307.5,266.6 308.0,267.9 308.2,268.5 308.6,269.7 308.7,270.0 309.2,272.7 309.8,276.6 310.4,279.2 310.7,279.5 311.0,279.7 311.6,279.9 312.2,280.2 312.6,280.5 312.8,280.7 313.4,281.7 314.0,282.8 314.6,283.7 315.2,284.2 315.8,284.1 316.4,283.9 317.0,283.6 317.5,283.3 317.6,283.3 318.2,283.2 318.8,283.5 319.4,284.3 320.0,285.3 320.6,286.4 321.2,287.4 321.8,287.9 322.4,287.9 323.0,287.5 323.6,286.8 324.2,286.0 324.8,285.3 325.4,284.7 326.0,284.1 326.6,283.5 327.2,283.0 327.8,282.5 328.4,282.3 329.0,282.3 329.6,282.9 330.2,284.0 330.3,284.3 330.8,285.2 331.4,286.0 332.0,286.0 332.6,285.3 333.2,284.2 333.8,282.8 334.4,281.4 334.5,281.2 335.0,280.2 335.6,279.5 336.2,279.3 336.4,279.4 336.8,279.8 337.4,280.7 338.0,281.7 338.6,282.6 339.2,283.1 339.8,283.2 340.4,283.3 341.0,283.3 341.6,283.4 342.2,283.4 342.8,283.4 343.4,283.4 344.0,282.9 344.6,282.3 344.8,282.2 345.2,282.2 345.8,282.4 346.4,282.7 347.0,283.1 347.6,283.6 348.2,284.1 348.8,284.6 349.4,285.0 350.0,285.3 350.6,285.7 351.2,286.2 351.8,286.6 352.4,287.0 353.0,287.4 353.6,287.7 354.2,287.9 354.8,288.1 355.4,288.2 356.0,288.4 356.6,288.5 357.2,288.6 357.8,288.7 358.4,288.8 359.0,288.9 359.6,289.0 360.2,289.1 360.8,289.2 361.4,289.2 362.0,289.3 362.6,289.4 363.2,289.4 363.8,289.5 364.4,289.5 365.0,289.6 365.6,289.6 366.2,289.7 366.8,289.7 367.4,289.7 368.0,289.8 368.6,289.8 369.2,289.8 369.8,289.9 370.4,289.9 371.0,289.9 371.6,289.9 372.2,289.8 372.8,289.6 373.4,289.2 374.0,288.7 374.6,288.1 375.2,287.5 375.8,287.0 376.4,286.5 377.0,286.2 377.6,286.1 378.2,286.3 378.8,286.7 379.4,287.3 380.0,288.0 380.6,288.7 381.2,289.3 381.8,289.7 382.4,289.9 383.0,289.8 383.6,289.4 384.2,288.8 384.8,288.1 385.4,287.4 386.0,286.6 386.6,286.0 387.2,285.5 387.8,285.2 388.1,285.1 388.4,285.1 388.7,285.2 389.0,285.4 389.2,285.6 389.6,286.0 390.2,286.7 390.4,286.9 390.8,287.3 391.4,287.8 392.0,288.0 392.4,288.0 392.6,288.0 393.2,287.9 393.8,287.8 394.3,287.7 394.4,287.7 395.0,287.6 395.6,287.5 396.2,287.5 396.3,287.5 396.8,287.7 397.4,287.9 398.0,288.2 398.6,288.6 399.2,288.9 399.8,289.3 400.4,289.6 401.0,289.8 401.6,289.9 402.2,289.9 402.8,289.8 403.4,289.7 404.0,289.6 404.6,289.4 405.2,289.2 405.8,288.9 406.4,288.6 407.0,288.2 407.6,287.8 408.2,286.4 408.8,284.4 409.4,282.4 410.0,280.9 410.6,280.6 411.2,281.1 411.8,282.0 412.4,283.1 412.7,283.6 413.0,284.0 413.6,284.7 414.2,285.5 414.8,286.3 415.4,287.1 416.0,287.7 416.6,288.1 417.2,288.2 417.8,288.0 418.4,287.6 419.0,287.1 419.6,286.6 420.2,286.2 420.8,285.9 421.4,285.8 422.0,285.9 422.6,286.1 423.2,286.3 423.8,286.5 424.4,286.7 425.0,286.8 425.6,286.6 426.2,285.8 426.8,284.5 427.2,283.6 427.4,283.2 427.9,282.3 428.0,282.2 428.2,282.0 428.6,281.8 428.8,281.9 429.2,282.3 429.8,283.4 430.4,284.6 431.0,285.5 431.6,285.5 432.2,284.9 432.8,284.0 433.4,282.9 434.0,282.1 434.4,281.8 434.6,281.8 435.2,282.2 435.8,283.1 436.4,284.2 437.0,285.5 437.6,286.4 438.2,286.9 438.8,287.3 439.4,287.6 440.0,287.8 440.6,288.0 440.7,288.0 441.2,288.1 441.8,288.0 442.4,287.6 442.7,287.2 443.0,286.9 443.6,286.1 443.7,286.0 444.2,285.4 444.8,284.8 445.4,284.6 446.0,284.6 446.6,284.6 446.8,284.6 447.2,284.6 447.8,284.6 448.4,284.6 449.0,284.6 449.5,284.6 449.6,284.6 450.2,284.6 450.8,284.6 451.4,284.2 451.5,284.1 452.0,283.3 452.6,282.2 452.8,281.9 453.2,281.5 453.5,281.4 453.8,281.5 454.2,282.1 454.4,282.6 455.0,284.2 455.6,285.9 456.2,287.4 456.8,288.1 457.4,288.1 458.0,288.0 458.6,287.9 459.2,287.8 459.8,287.7 460.4,287.6 461.0,287.5 461.6,287.5 462.2,287.5 462.8,287.6 463.4,287.7 464.0,287.8 464.3,287.9 464.6,287.9 465.2,288.0 465.8,288.1 466.4,288.2 467.0,288.3 467.6,288.4 468.2,288.5 468.8,288.5 469.4,288.6 470.0,288.7 470.6,288.7 471.2,288.8 471.8,288.8 472.4,288.8 473.0,288.8 473.6,288.8 474.2,288.8 474.8,288.8 475.1,288.8 475.4,288.8 476.0,288.8 476.6,288.8 477.2,288.8 477.8,288.8 478.4,288.8 479.0,288.8 479.6,288.8 480.2,288.8 480.5,288.8 480.8,288.9 481.4,288.9 482.0,289.0 482.6,289.1 483.2,289.2 483.8,289.3 484.4,289.4 485.0,289.5 485.6,289.6 486.2,289.8 486.8,289.9 487.6,290.1 L487.6,291.4 486.8,291.3 486.2,291.2 485.6,291.1 485.0,291.1 484.4,291.0 483.8,291.0 483.2,290.9 482.6,290.9 482.0,290.8 481.4,290.8 480.8,290.7 480.5,290.7 480.2,290.7 479.6,290.7 479.0,290.7 478.4,290.7 477.8,290.7 477.2,290.7 476.6,290.7 476.0,290.7 475.4,290.7 475.1,290.7 474.8,290.7 474.2,290.7 473.6,290.7 473.0,290.6 472.4,290.6 471.8,290.6 471.2,290.6 470.6,290.6 470.0,290.6 469.4,290.5 468.8,290.5 468.2,290.5 467.6,290.4 467.0,290.4 466.4,290.3 465.8,290.3 465.2,290.3 464.6,290.2 464.3,290.2 464.0,290.2 463.4,290.1 462.8,290.1 462.2,290.0 461.6,290.0 461.0,290.0 460.4,290.0 459.8,290.1 459.2,290.1 458.6,290.2 458.0,290.2 457.4,290.3 456.8,290.3 456.2,289.9 455.6,289.3 455.0,288.5 454.4,287.8 454.2,287.6 453.8,287.3 453.5,287.2 453.2,287.3 452.8,287.5 452.6,287.6 452.0,288.1 451.5,288.4 451.4,288.5 450.8,288.7 450.2,288.7 449.6,288.7 449.5,288.7 449.0,288.7 448.4,288.7 447.8,288.7 447.2,288.7 446.8,288.7 446.6,288.7 446.0,288.7 445.4,288.7 444.8,288.8 444.2,289.0 443.7,289.3 443.6,289.3 443.0,289.7 442.7,289.9 442.4,290.0 441.8,290.2 441.2,290.2 440.7,290.2 440.6,290.2 440.0,290.1 439.4,290.0 438.8,289.9 438.2,289.7 437.6,289.5 437.0,289.1 436.4,288.5 435.8,288.0 435.2,287.6 434.6,287.4 434.4,287.4 434.0,287.6 433.4,288.0 432.8,288.4 432.2,288.8 431.6,289.1 431.0,289.1 430.4,288.7 429.8,288.2 429.2,287.7 428.8,287.5 428.6,287.5 428.2,287.6 428.0,287.7 427.9,287.7 427.4,288.1 427.2,288.3 426.8,288.7 426.2,289.3 425.6,289.7 425.0,289.7 424.4,289.7 423.8,289.6 423.2,289.5 422.6,289.4 422.0,289.4 421.4,289.3 420.8,289.3 420.2,289.5 419.6,289.7 419.0,289.9 418.4,290.1 417.8,290.2 417.2,290.2 416.6,290.1 416.0,289.8 415.4,289.5 414.8,289.1 414.2,288.7 413.6,288.3 413.0,288.0 412.7,287.8 412.4,287.6 411.8,287.2 411.2,287.0 410.6,286.8 410.0,287.0 409.4,287.7 408.8,288.6 408.2,289.5 407.6,290.1 407.0,290.3 406.4,290.5 405.8,290.6 405.2,290.8 404.6,290.9 404.0,291.0 403.4,291.0 402.8,291.1 402.2,291.1 401.6,291.1 401.0,291.1 400.4,291.0 399.8,290.9 399.2,290.7 398.6,290.6 398.0,290.4 397.4,290.3 396.8,290.2 396.3,290.1 396.2,290.1 395.6,290.1 395.0,290.1 394.4,290.2 394.3,290.2 393.8,290.2 393.2,290.3 392.6,290.3 392.4,290.3 392.0,290.3 391.4,290.2 390.8,290.0 390.4,289.8 390.2,289.7 389.6,289.4 389.2,289.3 389.0,289.2 388.7,289.1 388.4,289.0 388.1,289.0 387.8,289.1 387.2,289.2 386.6,289.4 386.0,289.7 385.4,290.1 384.8,290.4 384.2,290.7 383.6,291.0 383.0,291.1 382.4,291.2 381.8,291.1 381.2,290.9 380.6,290.7 380.0,290.4 379.4,290.0 378.8,289.8 378.2,289.6 377.6,289.5 377.0,289.6 376.4,289.7 375.8,289.9 375.2,290.1 374.6,290.4 374.0,290.7 373.4,290.9 372.8,291.1 372.2,291.2 371.6,291.2 371.0,291.2 370.4,291.2 369.8,291.2 369.2,291.2 368.6,291.2 368.0,291.2 367.4,291.1 366.8,291.1 366.2,291.1 365.6,291.1 365.0,291.0 364.4,291.0 363.8,291.0 363.2,290.9 362.6,290.9 362.0,290.8 361.4,290.8 360.8,290.7 360.2,290.7 359.6,290.6 359.0,290.5 358.4,290.5 357.8,290.4 357.2,290.3 356.6,290.2 356.0,290.1 355.4,290.0 354.8,289.9 354.2,289.8 353.6,289.6 353.0,289.4 352.4,289.1 351.8,288.8 351.2,288.5 350.6,288.2 350.0,287.9 349.4,287.6 348.8,287.3 348.2,287.0 347.6,286.6 347.0,286.2 346.4,285.9 345.8,285.7 345.2,285.5 344.8,285.5 344.6,285.5 344.0,285.8 343.4,286.0 342.8,286.1 342.2,286.1 341.6,286.1 341.0,286.1 340.4,286.1 339.8,286.1 339.2,286.1 338.6,285.9 338.0,285.5 337.4,285.1 336.8,284.8 336.4,284.7 336.2,284.7 335.6,284.8 335.0,285.2 334.5,285.7 334.4,285.9 333.8,286.6 333.2,287.3 332.6,287.9 332.0,288.3 331.4,288.3 330.8,288.1 330.3,287.7 330.2,287.6 329.6,287.2 329.0,286.9 328.4,287.0 327.8,287.1 327.2,287.3 326.6,287.6 326.0,287.8 325.4,288.1 324.8,288.3 324.2,288.6 323.6,289.0 323.0,289.2 322.4,289.4 321.8,289.4 321.2,289.0 320.6,288.6 320.0,288.0 319.4,287.5 318.8,287.1 318.2,286.9 317.6,286.8 317.5,286.8 317.0,286.8 316.4,286.8 315.8,286.7 315.2,286.6 314.6,286.1 314.0,285.4 313.4,284.6 312.8,283.9 312.6,283.7 312.2,283.3 311.6,282.8 311.0,282.3 310.7,281.9 310.4,281.5 309.8,279.6 309.2,276.7 308.7,273.7 308.6,273.1 308.2,270.9 308.0,269.9 307.5,268.1 307.4,267.9 306.8,266.5 306.3,265.5 306.2,265.4 305.6,264.7 305.0,264.7 304.6,265.8 304.4,266.7 303.8,270.4 303.3,280.0 303.2,282.4 302.6,289.6 302.0,289.5 301.4,289.2 300.8,289.0 300.2,288.8 299.6,288.7 299.0,288.5 298.4,288.4 297.8,288.4 297.2,288.6 296.6,288.9 296.0,289.3 295.4,289.7 295.0,289.9 294.8,290.0 294.2,290.1 293.6,290.1 293.0,290.0 292.4,289.8 291.8,289.6 291.2,289.4 290.6,288.8 290.1,288.1 290.0,288.0 289.4,287.0 288.8,286.3 288.2,286.0 287.8,285.9 287.6,285.9 287.0,285.8 286.4,285.7 285.8,285.5 285.7,285.4 285.2,285.2 284.6,284.8 284.0,284.3 283.7,283.9 283.4,283.6 282.8,282.0 282.2,279.7 281.8,278.1 281.6,277.5 281.3,276.8 281.0,276.2 280.4,275.7 279.8,275.6 279.2,275.5 278.8,275.4 278.6,275.3 278.0,275.3 277.8,275.4 277.4,275.8 276.9,276.4 276.8,276.6 276.4,277.0 276.2,277.2 275.6,277.4 275.4,277.3 275.0,277.2 274.4,276.9 273.8,276.4 273.5,276.1 273.2,275.8 272.6,274.8 272.5,274.4 272.0,271.8 271.5,269.3 271.4,268.9 271.0,267.4 270.8,266.7 270.6,266.0 270.2,265.0 269.6,264.5 269.5,264.5 269.0,265.2 268.4,266.8 268.2,267.4 267.8,268.8 267.2,271.4 266.6,274.2 266.1,276.7 266.0,277.1 265.4,280.3 264.8,283.4 264.2,285.7 263.6,287.4 263.0,288.9 262.4,290.1 261.8,291.0 261.2,291.4 260.6,291.6 260.0,291.8 259.4,292.0 258.8,292.0 258.2,292.1 257.6,292.1 257.0,292.1 256.4,292.1 255.8,292.1 255.2,292.0 254.6,292.0 254.0,292.0 253.4,292.0 252.8,292.0 252.2,292.0 251.6,292.0 251.0,292.0 250.4,292.0 249.8,292.0 249.2,291.8 248.6,291.6 248.0,291.4 247.4,291.2 246.8,291.2 246.2,291.2 245.6,291.4 245.0,291.5 244.4,291.5 243.8,291.5 243.2,291.5 242.6,291.5 242.0,291.5 241.4,291.5 240.8,291.5 240.2,291.5 239.6,291.5 239.0,291.6 238.4,291.6 237.8,291.7 237.2,291.7 236.6,291.8 236.0,291.8 235.4,291.9 234.8,291.9 234.2,291.9 233.6,292.0 233.0,292.0 232.4,291.9 231.8,291.8 231.2,291.7 230.6,291.6 230.0,291.4 229.4,291.3 228.8,291.2 228.2,291.2 227.6,291.3 227.0,291.5 226.4,291.7 225.8,291.8 225.2,291.8 224.6,291.8 224.0,291.6 223.4,291.5 222.8,291.5 222.2,291.5 221.6,291.5 221.0,291.6 220.4,291.6 219.8,291.6 219.2,291.7 218.6,291.7 218.0,291.8 217.4,291.8 216.8,291.8 216.2,291.9 215.6,291.9 215.0,291.9 214.4,291.9 213.8,291.9 213.2,291.9 212.6,291.9 212.0,291.9 211.4,291.9 210.8,291.9 210.2,291.9 209.6,291.8 209.0,291.8 208.4,291.8 207.8,293.0 207.2,292.9 206.6,292.8 206.0,292.7 205.4,292.5 204.8,292.4 204.2,292.2 203.6,292.1 203.0,292.0 202.4,291.8 201.8,291.6 201.2,291.5 200.6,291.4 200.0,291.3 199.4,291.3 198.8,291.4 198.2,291.5 197.6,291.6 197.0,291.7 196.4,291.7 195.8,291.6 195.2,291.4 194.6,291.1 194.0,290.9 193.4,290.9 192.8,291.1 192.2,291.5 191.6,291.6 191.0,291.7 190.4,291.8 189.8,291.9 189.2,292.0 188.6,292.1 188.0,292.2 187.4,292.3 186.8,292.4 186.2,292.5 185.6,292.5 185.0,292.6 184.4,292.7 183.8,292.8 183.2,292.9 182.6,293.0 182.0,293.1 181.4,293.2 180.8,293.4 180.2,293.6 179.6,293.6 179.0,293.7 178.4,293.8 177.8,293.8 177.2,293.9 176.6,293.9 176.0,294.0 175.4,294.0 174.8,294.1 174.2,294.1 173.6,294.1 173.0,294.2 172.4,294.2 171.8,294.2 171.2,294.2 170.6,294.2 170.0,294.2 169.4,294.2 168.8,294.2 168.2,294.2 167.6,294.2 167.0,294.2 166.4,294.2 165.8,294.2 165.2,294.2 164.6,294.2 164.0,294.2 163.4,294.2 162.8,294.2 162.2,294.2 161.6,294.3 161.0,294.3 160.4,294.3 159.8,294.3 159.2,294.3 158.6,294.3 158.0,294.3 157.4,294.3 156.8,294.3 156.2,294.3 155.6,294.3 155.0,294.3 154.4,294.3 153.8,294.3 153.2,294.3 152.6,294.3 152.0,294.3 151.4,294.3 150.8,294.3 150.2,294.3 149.6,294.3 149.0,294.3 148.4,294.3 147.8,294.3 147.2,294.3 146.6,294.3 146.0,294.3 145.4,294.3 144.8,294.3 144.2,294.3 143.6,294.3 143.0,294.3 142.4,294.3 141.8,294.3 141.2,294.3 140.6,294.3 140.0,294.3 139.4,294.3 138.8,294.3 138.2,294.3 137.6,294.3 137.0,294.3 136.4,294.3 135.8,294.3 135.2,294.3 134.6,294.3 134.0,294.3 133.4,294.3 132.8,294.3 132.2,294.3 131.6,294.3 131.0,294.3 130.4,294.3 129.8,294.3 129.2,294.3 128.6,294.3 128.0,294.3 127.4,294.3 126.8,294.3 126.2,294.3 125.6,294.3 125.0,294.3 124.4,294.3 123.8,294.3 123.2,294.3 122.6,294.3 122.0,294.4 121.4,294.4 120.8,294.4 120.2,294.4 119.6,294.4 119.0,294.4 118.4,294.4 117.8,294.4 117.2,294.4 116.6,294.4 116.0,294.4 115.4,294.4 114.8,294.4 114.2,294.4 113.6,294.4 113.0,294.4 112.4,294.4 111.8,294.4 111.2,294.4 110.6,294.4 110.0,294.4 109.4,294.4 108.8,294.4 108.2,294.4 107.6,294.4 107.0,294.4 106.4,294.4 105.8,294.4 105.2,294.4 104.6,294.4 104.0,294.4 103.4,294.4 102.8,294.4 102.2,294.4 101.6,294.4 101.0,294.4 100.4,294.4 99.8,294.4 99.2,294.4 98.6,294.4 98.0,294.4 97.4,294.4 96.8,294.4 96.2,294.4 95.6,294.4 95.0,294.4 94.4,294.4 93.8,294.4 93.2,294.4 92.6,294.4 92.0,294.4 91.4,294.4 90.8,294.4 90.2,294.4 89.6,294.4 89.0,294.4 88.4,294.4 87.8,294.4 87.2,294.4 86.6,294.4 86.0,294.4 85.4,294.4 84.8,294.4 84.2,294.4 83.6,294.4 83.0,294.4 82.4,294.4 81.8,294.4 81.2,294.4 80.6,294.4 80.0,294.4 79.4,294.4 78.8,294.4 78.2,294.4 77.6,294.4 77.0,294.4 76.4,294.4 75.8,294.4 75.2,294.4 74.6,294.4 74.0,294.4 73.4,294.4 72.8,294.4 72.2,294.4 71.6,294.4 71.0,294.4 70.4,294.4 69.8,294.4 69.2,294.4 68.6,294.4 68.0,294.4 67.4,294.4 66.8,294.4 66.2,294.4 65.6,294.4 65.0,294.4 64.4,294.4 63.8,294.4 63.2,294.4 62.6,294.4 62.0,294.4 61.4,294.4 60.8,294.4 60.2,294.4 59.6,294.4 59.0,294.4 58.4,294.4 57.8,294.4 57.2,294.4 56.6,294.4 56.0,294.4 55.4,294.4 54.8,294.4 54.2,294.4 53.6,294.4 53.0,294.4 52.4,294.4 51.8,294.4 51.2,294.4 50.6,294.4 50.0,294.4 49.4,294.4 48.8,294.4 48.2,294.4 47.6,294.4 47.0,294.4Z" fill="#f4c6f4" fill-opacity="1" stroke="none"/>
<path d="M47.0,294.4 47.6,294.4 48.2,294.4 48.8,294.4 49.4,294.4 50.0,294.4 50.6,294.4 51.2,294.4 51.8,294.4 52.4,294.4 53.0,294.4 53.6,294.4 54.2,294.4 54.8,294.4 55.4,294.4 56.0,294.4 56.6,294.4 57.2,294.4 57.8,294.4 58.4,294.4 59.0,294.4 59.6,294.4 60.2,294.4 60.8,294.4 61.4,294.4 62.0,294.4 62.6,294.4 63.2,294.4 63.8,294.4 64.4,294.4 65.0,294.4 65.6,294.4 66.2,294.4 66.8,294.4 67.4,294.4 68.0,294.4 68.6,294.4 69.2,294.4 69.8,294.4 70.4,294.4 71.0,294.4 71.6,294.4 72.2,294.4 72.8,294.4 73.4,294.4 74.0,294.4 74.6,294.4 75.2,294.4 75.8,294.4 76.4,294.4 77.0,294.4 77.6,294.4 78.2,294.4 78.8,294.4 79.4,294.4 80.0,294.4 80.6,294.4 81.2,294.4 81.8,294.4 82.4,294.4 83.0,294.4 83.6,294.4 84.2,294.4 84.8,294.4 85.4,294.4 86.0,294.4 86.6,294.4 87.2,294.4 87.8,294.4 88.4,294.4 89.0,294.4 89.6,294.4 90.2,294.4 90.8,294.4 91.4,294.4 92.0,294.4 92.6,294.4 93.2,294.4 93.8,294.4 94.4,294.4 95.0,294.4 95.6,294.4 96.2,294.4 96.8,294.4 97.4,294.4 98.0,294.4 98.6,294.4 99.2,294.4 99.8,294.4 100.4,294.4 101.0,294.4 101.6,294.4 102.2,294.4 102.8,294.4 103.4,294.4 104.0,294.4 104.6,294.4 105.2,294.4 105.8,294.4 106.4,294.4 107.0,294.4 107.6,294.4 108.2,294.4 108.8,294.4 109.4,294.4 110.0,294.4 110.6,294.4 111.2,294.4 111.8,294.4 112.4,294.4 113.0,294.4 113.6,294.4 114.2,294.4 114.8,294.4 115.4,294.4 116.0,294.4 116.6,294.4 117.2,294.4 117.8,294.4 118.4,294.4 119.0,294.4 119.6,294.4 120.2,294.4 120.8,294.4 121.4,294.4 122.0,294.4 122.6,294.3 123.2,294.3 123.8,294.3 124.4,294.3 125.0,294.3 125.6,294.3 126.2,294.3 126.8,294.3 127.4,294.3 128.0,294.3 128.6,294.3 129.2,294.3 129.8,294.3 130.4,294.3 131.0,294.3 131.6,294.3 132.2,294.3 132.8,294.3 133.4,294.3 134.0,294.3 134.6,294.3 135.2,294.3 135.8,294.3 136.4,294.3 137.0,294.3 137.6,294.3 138.2,294.3 138.8,294.3 139.4,294.3 140.0,294.3 140.6,294.3 141.2,294.3 141.8,294.3 142.4,294.3 143.0,294.3 143.6,294.3 144.2,294.3 144.8,294.3 145.4,294.3 146.0,294.3 146.6,294.3 147.2,294.3 147.8,294.3 148.4,294.3 149.0,294.3 149.6,294.3 150.2,294.3 150.8,294.3 151.4,294.3 152.0,294.3 152.6,294.3 153.2,294.3 153.8,294.3 154.4,294.3 155.0,294.3 155.6,294.3 156.2,294.3 156.8,294.3 157.4,294.3 158.0,294.3 158.6,294.3 159.2,294.3 159.8,294.3 160.4,294.3 161.0,294.3 161.6,294.3 162.2,294.2 162.8,294.2 163.4,294.2 164.0,294.2 164.6,294.2 165.2,294.2 165.8,294.2 166.4,294.2 167.0,294.2 167.6,294.2 168.2,294.2 168.8,294.2 169.4,294.2 170.0,294.2 170.6,294.2 171.2,294.2 171.8,294.2 172.4,294.2 173.0,294.2 173.6,294.1 174.2,294.1 174.8,294.1 175.4,294.0 176.0,294.0 176.6,293.9 177.2,293.9 177.8,293.8 178.4,293.8 179.0,293.7 179.6,293.6 180.2,293.6 180.8,293.4 181.4,293.2 182.0,293.1 182.6,293.0 183.2,292.9 183.8,292.8 184.4,292.7 185.0,292.6 185.6,292.5 186.2,292.5 186.8,292.4 187.4,292.3 188.0,292.2 188.6,292.1 189.2,292.0 189.8,291.9 190.4,291.8 191.0,291.7 191.6,291.6 192.2,291.5 192.8,291.1 193.4,290.9 194.0,290.9 194.6,291.1 195.2,291.4 195.8,291.6 196.4,291.7 197.0,291.7 197.6,291.6 198.2,291.5 198.8,291.4 199.4,291.3 200.0,291.3 200.6,291.4 201.2,291.5 201.8,291.6 202.4,291.8 203.0,292.0 203.6,292.1 204.2,292.2 204.8,292.4 205.4,292.5 206.0,292.7 206.6,292.8 207.2,292.9 207.8,293.0 208.4,291.8 209.0,291.8 209.6,291.8 210.2,291.9 210.8,291.9 211.4,291.9 212.0,291.9 212.6,291.9 213.2,291.9 213.8,291.9 214.4,291.9 215.0,291.9 215.6,291.9 216.2,291.9 216.8,291.8 217.4,291.8 218.0,291.8 218.6,291.7 219.2,291.7 219.8,291.6 220.4,291.6 221.0,291.6 221.6,291.5 222.2,291.5 222.8,291.5 223.4,291.5 224.0,291.6 224.6,291.8 225.2,291.8 225.8,291.8 226.4,291.7 227.0,291.5 227.6,291.3 228.2,291.2 228.8,291.2 229.4,291.3 230.0,291.4 230.6,291.6 231.2,291.7 231.8,291.8 232.4,291.9 233.0,292.0 233.6,292.0 234.2,291.9 234.8,291.9 235.4,291.9 236.0,291.8 236.6,291.8 237.2,291.7 237.8,291.7 238.4,291.6 239.0,291.6 239.6,291.5 240.2,291.5 240.8,291.5 241.4,291.5 242.0,291.5 242.6,291.5 243.2,291.5 243.8,291.5 244.4,291.5 245.0,291.5 245.6,291.4 246.2,291.2 246.8,291.2 247.4,291.2 248.0,291.4 248.6,291.6 249.2,291.8 249.8,292.0 250.4,292.0 251.0,292.0 251.6,292.0 252.2,292.0 252.8,292.0 253.4,292.0 254.0,292.0 254.6,292.0 255.2,292.0 255.8,292.1 256.4,292.1 257.0,292.1 257.6,292.1 258.2,292.1 258.8,292.0 259.4,292.0 260.0,291.8 260.6,291.6 261.2,291.4 261.8,291.0 262.4,290.1 263.0,288.9 263.6,287.4 264.2,285.7 264.8,283.4 265.4,280.3 266.0,277.1 266.1,276.7 266.6,274.2 267.2,271.4 267.8,268.8 268.2,267.4 268.4,266.8 269.0,265.2 269.5,264.5 269.6,264.5 270.2,265.0 270.6,266.0 270.8,266.7 271.0,267.4 271.4,268.9 271.5,269.3 272.0,271.8 272.5,274.4 272.6,274.8 273.2,275.8 273.5,276.1 273.8,276.4 274.4,276.9 275.0,277.2 275.4,277.3 275.6,277.4 276.2,277.2 276.4,277.0 276.8,276.6 276.9,276.4 277.4,275.8 277.8,275.4 278.0,275.3 278.6,275.3 278.8,275.4 279.2,275.5 279.8,275.6 280.4,275.7 281.0,276.2 281.3,276.8 281.6,277.5 281.8,278.1 282.2,279.7 282.8,282.0 283.4,283.6 283.7,283.9 284.0,284.3 284.6,284.8 285.2,285.2 285.7,285.4 285.8,285.5 286.4,285.7 287.0,285.8 287.6,285.9 287.8,285.9 288.2,286.0 288.8,286.3 289.4,287.0 290.0,288.0 290.1,288.1 290.6,288.8 291.2,289.4 291.8,289.6 292.4,289.8 293.0,290.0 293.6,290.1 294.2,290.1 294.8,290.0 295.0,289.9 295.4,289.7 296.0,289.3 296.6,288.9 297.2,288.6 297.8,288.4 298.4,288.4 299.0,288.5 299.6,288.7 300.2,288.8 300.8,289.0 301.4,289.2 302.0,289.5 302.6,289.6 303.2,282.4 303.3,280.0 303.8,270.4 304.4,266.7 304.6,265.8 305.0,264.7 305.6,264.7 306.2,265.4 306.3,265.5 306.8,266.5 307.4,267.9 307.5,268.1 308.0,269.9 308.2,270.9 308.6,273.1 308.7,273.7 309.2,276.7 309.8,279.6 310.4,281.5 310.7,281.9 311.0,282.3 311.6,282.8 312.2,283.3 312.6,283.7 312.8,283.9 313.4,284.6 314.0,285.4 314.6,286.1 315.2,286.6 315.8,286.7 316.4,286.8 317.0,286.8 317.5,286.8 317.6,286.8 318.2,286.9 318.8,287.1 319.4,287.5 320.0,288.0 320.6,288.6 321.2,289.0 321.8,289.4 322.4,289.4 323.0,289.2 323.6,289.0 324.2,288.6 324.8,288.3 325.4,288.1 326.0,287.8 326.6,287.6 327.2,287.3 327.8,287.1 328.4,287.0 329.0,286.9 329.6,287.2 330.2,287.6 330.3,287.7 330.8,288.1 331.4,288.3 332.0,288.3 332.6,287.9 333.2,287.3 333.8,286.6 334.4,285.9 334.5,285.7 335.0,285.2 335.6,284.8 336.2,284.7 336.4,284.7 336.8,284.8 337.4,285.1 338.0,285.5 338.6,285.9 339.2,286.1 339.8,286.1 340.4,286.1 341.0,286.1 341.6,286.1 342.2,286.1 342.8,286.1 343.4,286.0 344.0,285.8 344.6,285.5 344.8,285.5 345.2,285.5 345.8,285.7 346.4,285.9 347.0,286.2 347.6,286.6 348.2,287.0 348.8,287.3 349.4,287.6 350.0,287.9 350.6,288.2 351.2,288.5 351.8,288.8 352.4,289.1 353.0,289.4 353.6,289.6 354.2,289.8 354.8,289.9 355.4,290.0 356.0,290.1 356.6,290.2 357.2,290.3 357.8,290.4 358.4,290.5 359.0,290.5 359.6,290.6 360.2,290.7 360.8,290.7 361.4,290.8 362.0,290.8 362.6,290.9 363.2,290.9 363.8,291.0 364.4,291.0 365.0,291.0 365.6,291.1 366.2,291.1 366.8,291.1 367.4,291.1 368.0,291.2 368.6,291.2 369.2,291.2 369.8,291.2 370.4,291.2 371.0,291.2 371.6,291.2 372.2,291.2 372.8,291.1 373.4,290.9 374.0,290.7 374.6,290.4 375.2,290.1 375.8,289.9 376.4,289.7 377.0,289.6 377.6,289.5 378.2,289.6 378.8,289.8 379.4,290.0 380.0,290.4 380.6,290.7 381.2,290.9 381.8,291.1 382.4,291.2 383.0,291.1 383.6,291.0 384.2,290.7 384.8,290.4 385.4,290.1 386.0,289.7 386.6,289.4 387.2,289.2 387.8,289.1 388.1,289.0 388.4,289.0 388.7,289.1 389.0,289.2 389.2,289.3 389.6,289.4 390.2,289.7 390.4,289.8 390.8,290.0 391.4,290.2 392.0,290.3 392.4,290.3 392.6,290.3 393.2,290.3 393.8,290.2 394.3,290.2 394.4,290.2 395.0,290.1 395.6,290.1 396.2,290.1 396.3,290.1 396.8,290.2 397.4,290.3 398.0,290.4 398.6,290.6 399.2,290.7 399.8,290.9 400.4,291.0 401.0,291.1 401.6,291.1 402.2,291.1 402.8,291.1 403.4,291.0 404.0,291.0 404.6,290.9 405.2,290.8 405.8,290.6 406.4,290.5 407.0,290.3 407.6,290.1 408.2,289.5 408.8,288.6 409.4,287.7 410.0,287.0 410.6,286.8 411.2,287.0 411.8,287.2 412.4,287.6 412.7,287.8 413.0,288.0 413.6,288.3 414.2,288.7 414.8,289.1 415.4,289.5 416.0,289.8 416.6,290.1 417.2,290.2 417.8,290.2 418.4,290.1 419.0,289.9 419.6,289.7 420.2,289.5 420.8,289.3 421.4,289.3 422.0,289.4 422.6,289.4 423.2,289.5 423.8,289.6 424.4,289.7 425.0,289.7 425.6,289.7 426.2,289.3 426.8,288.7 427.2,288.3 427.4,288.1 427.9,287.7 428.0,287.7 428.2,287.6 428.6,287.5 428.8,287.5 429.2,287.7 429.8,288.2 430.4,288.7 431.0,289.1 431.6,289.1 432.2,288.8 432.8,288.4 433.4,288.0 434.0,287.6 434.4,287.4 434.6,287.4 435.2,287.6 435.8,288.0 436.4,288.5 437.0,289.1 437.6,289.5 438.2,289.7 438.8,289.9 439.4,290.0 440.0,290.1 440.6,290.2 440.7,290.2 441.2,290.2 441.8,290.2 442.4,290.0 442.7,289.9 443.0,289.7 443.6,289.3 443.7,289.3 444.2,289.0 444.8,288.8 445.4,288.7 446.0,288.7 446.6,288.7 446.8,288.7 447.2,288.7 447.8,288.7 448.4,288.7 449.0,288.7 449.5,288.7 449.6,288.7 450.2,288.7 450.8,288.7 451.4,288.5 451.5,288.4 452.0,288.1 452.6,287.6 452.8,287.5 453.2,287.3 453.5,287.2 453.8,287.3 454.2,287.6 454.4,287.8 455.0,288.5 455.6,289.3 456.2,289.9 456.8,290.3 457.4,290.3 458.0,290.2 458.6,290.2 459.2,290.1 459.8,290.1 460.4,290.0 461.0,290.0 461.6,290.0 462.2,290.0 462.8,290.1 463.4,290.1 464.0,290.2 464.3,290.2 464.6,290.2 465.2,290.3 465.8,290.3 466.4,290.3 467.0,290.4 467.6,290.4 468.2,290.5 468.8,290.5 469.4,290.5 470.0,290.6 470.6,290.6 471.2,290.6 471.8,290.6 472.4,290.6 473.0,290.6 473.6,290.7 474.2,290.7 474.8,290.7 475.1,290.7 475.4,290.7 476.0,290.7 476.6,290.7 477.2,290.7 477.8,290.7 478.4,290.7 479.0,290.7 479.6,290.7 480.2,290.7 480.5,290.7 480.8,290.7 481.4,290.8 482.0,290.8 482.6,290.9 483.2,290.9 483.8,291.0 484.4,291.0 485.0,291.1 485.6,291.1 486.2,291.2 486.8,291.3 487.6,291.4 L487.6,292.4 486.8,292.4 486.2,292.4 485.6,292.4 485.0,292.3 484.4,292.3 483.8,292.3 483.2,292.3 482.6,292.3 482.0,292.3 481.4,292.3 480.8,292.3 480.5,292.3 480.2,292.3 479.6,292.3 479.0,292.2 478.4,292.2 477.8,292.2 477.2,292.2 476.6,292.2 476.0,292.2 475.4,292.2 475.1,292.2 474.8,292.2 474.2,292.2 473.6,292.2 473.0,292.2 472.4,292.2 471.8,292.1 471.2,292.1 470.6,292.1 470.0,292.1 469.4,292.1 468.8,292.1 468.2,292.1 467.6,292.1 467.0,292.1 466.4,292.1 465.8,292.1 465.2,292.1 464.6,292.1 464.3,292.1 464.0,292.1 463.4,292.1 462.8,292.1 462.2,292.1 461.6,292.1 461.0,292.1 460.4,292.1 459.8,292.0 459.2,292.0 458.6,292.0 458.0,292.0 457.4,292.0 456.8,292.0 456.2,292.0 455.6,292.0 455.0,292.0 454.4,292.0 454.2,292.0 453.8,292.0 453.5,292.0 453.2,292.0 452.8,292.0 452.6,292.0 452.0,292.0 451.5,292.0 451.4,292.0 450.8,292.0 450.2,292.0 449.6,292.0 449.5,292.0 449.0,292.0 448.4,292.0 447.8,292.0 447.2,292.0 446.8,292.0 446.6,292.0 446.0,292.0 445.4,292.0 444.8,292.0 444.2,292.0 443.7,292.0 443.6,292.0 443.0,292.0 442.7,292.0 442.4,292.0 441.8,292.0 441.2,292.0 440.7,292.0 440.6,292.0 440.0,292.0 439.4,292.0 438.8,292.0 438.2,292.0 437.6,292.0 437.0,292.0 436.4,292.0 435.8,292.0 435.2,292.0 434.6,292.0 434.4,292.0 434.0,292.0 433.4,292.1 432.8,292.1 432.2,292.1 431.6,292.1 431.0,292.1 430.4,292.1 429.8,292.1 429.2,292.1 428.8,292.1 428.6,292.1 428.2,292.1 428.0,292.1 427.9,292.1 427.4,292.1 427.2,292.1 426.8,292.1 426.2,292.2 425.6,292.2 425.0,292.2 424.4,292.2 423.8,292.2 423.2,292.2 422.6,292.2 422.0,292.2 421.4,292.2 420.8,292.2 420.2,292.2 419.6,292.2 419.0,292.1 418.4,292.1 417.8,292.0 417.2,291.8 416.6,291.7 416.0,291.6 415.4,291.5 414.8,291.4 414.2,291.3 413.6,291.2 413.0,291.2 412.7,291.2 412.4,291.3 411.8,291.5 411.2,291.7 410.6,291.9 410.0,292.0 409.4,292.0 408.8,292.0 408.2,292.0 407.6,292.0 407.0,292.1 406.4,292.1 405.8,292.1 405.2,292.1 404.6,292.1 404.0,292.1 403.4,292.1 402.8,292.1 402.2,292.1 401.6,292.1 401.0,292.1 400.4,292.2 399.8,292.2 399.2,292.2 398.6,292.2 398.0,292.2 397.4,292.2 396.8,292.2 396.3,292.2 396.2,292.2 395.6,292.2 395.0,292.2 394.4,292.2 394.3,292.2 393.8,292.2 393.2,292.2 392.6,292.2 392.4,292.2 392.0,292.2 391.4,292.2 390.8,292.2 390.4,292.2 390.2,292.2 389.6,292.2 389.2,292.3 389.0,292.3 388.7,292.3 388.4,292.3 388.1,292.3 387.8,292.3 387.2,292.3 386.6,292.3 386.0,292.3 385.4,292.3 384.8,292.3 384.2,292.3 383.6,292.3 383.0,292.3 382.4,292.3 381.8,292.3 381.2,292.3 380.6,292.3 380.0,292.3 379.4,292.3 378.8,292.3 378.2,292.3 377.6,292.3 377.0,292.3 376.4,292.3 375.8,292.3 375.2,292.3 374.6,292.3 374.0,292.3 373.4,292.3 372.8,292.3 372.2,292.3 371.6,292.3 371.0,292.3 370.4,292.3 369.8,292.3 369.2,292.3 368.6,292.3 368.0,292.3 367.4,292.3 366.8,292.3 366.2,292.3 365.6,292.2 365.0,292.2 364.4,292.2 363.8,292.2 363.2,292.1 362.6,292.1 362.0,292.1 361.4,292.0 360.8,292.0 360.2,292.0 359.6,291.9 359.0,291.9 358.4,291.8 357.8,291.7 357.2,291.7 356.6,291.6 356.0,291.6 355.4,291.5 354.8,291.4 354.2,291.4 353.6,291.2 353.0,291.1 352.4,290.9 351.8,290.7 351.2,290.5 350.6,290.3 350.0,290.0 349.4,289.8 348.8,289.6 348.2,289.3 347.6,289.0 347.0,288.7 346.4,288.5 345.8,288.3 345.2,288.2 344.8,288.2 344.6,288.2 344.0,288.2 343.4,288.2 342.8,288.2 342.2,288.3 341.6,288.3 341.0,288.3 340.4,288.4 339.8,288.4 339.2,288.5 338.6,288.5 338.0,288.6 337.4,288.8 336.8,288.9 336.4,289.0 336.2,289.0 335.6,289.2 335.0,289.3 334.5,289.5 334.4,289.5 333.8,289.7 333.2,289.8 332.6,290.0 332.0,290.1 331.4,290.3 330.8,290.4 330.3,290.5 330.2,290.5 329.6,290.7 329.0,290.7 328.4,290.8 327.8,290.9 327.2,290.9 326.6,290.9 326.0,290.9 325.4,290.9 324.8,290.8 324.2,290.8 323.6,290.7 323.0,290.7 322.4,290.6 321.8,290.5 321.2,290.4 320.6,290.3 320.0,290.2 319.4,290.1 318.8,290.0 318.2,289.9 317.6,289.7 317.5,289.7 317.0,289.5 316.4,289.2 315.8,288.9 315.2,288.5 314.6,288.1 314.0,287.6 313.4,287.0 312.8,286.5 312.6,286.3 312.2,285.9 311.6,285.2 311.0,284.4 310.7,283.9 310.4,283.4 309.8,282.1 309.2,280.0 308.7,276.6 308.6,275.9 308.2,272.8 308.0,271.5 307.5,269.4 307.4,269.2 306.8,267.8 306.3,266.9 306.2,266.7 305.6,266.0 305.0,266.0 304.6,266.8 304.4,267.5 303.8,270.6 303.3,280.0 303.2,282.4 302.6,291.0 302.0,291.2 301.4,291.3 300.8,291.5 300.2,291.6 299.6,291.7 299.0,291.7 298.4,291.8 297.8,291.8 297.2,291.9 296.6,291.9 296.0,291.9 295.4,291.9 295.0,291.9 294.8,291.9 294.2,291.9 293.6,291.8 293.0,291.7 292.4,291.6 291.8,291.5 291.2,291.3 290.6,291.1 290.1,291.0 290.0,290.9 289.4,290.7 288.8,290.5 288.2,290.2 287.8,290.1 287.6,290.0 287.0,289.7 286.4,289.4 285.8,288.9 285.7,288.8 285.2,288.4 284.6,287.7 284.0,286.9 283.7,286.4 283.4,285.9 282.8,283.3 282.2,280.0 281.8,278.6 281.6,278.4 281.3,278.5 281.0,278.7 280.4,279.5 279.8,280.4 279.2,281.1 278.8,281.3 278.6,281.3 278.0,281.3 277.8,281.3 277.4,281.3 276.9,281.3 276.8,281.3 276.4,281.3 276.2,281.3 275.6,281.3 275.4,281.3 275.0,281.2 274.4,281.1 273.8,280.8 273.5,280.7 273.2,280.5 272.6,279.4 272.5,278.8 272.0,275.0 271.5,271.6 271.4,271.1 271.0,269.2 270.8,268.3 270.6,267.4 270.2,265.9 269.6,264.9 269.5,264.9 269.0,266.0 268.4,268.5 268.2,269.5 267.8,271.6 267.2,274.5 266.6,277.0 266.1,279.2 266.0,279.7 265.4,282.3 264.8,284.6 264.2,286.4 263.6,288.0 263.0,289.5 262.4,290.7 261.8,291.6 261.2,292.0 260.6,292.2 260.0,292.3 259.4,292.5 258.8,292.6 258.2,292.6 257.6,292.6 257.0,292.6 256.4,292.6 255.8,292.6 255.2,292.6 254.6,292.6 254.0,292.6 253.4,292.5 252.8,292.5 252.2,292.5 251.6,292.5 251.0,292.5 250.4,292.5 249.8,292.5 249.2,292.5 248.6,292.4 248.0,292.4 247.4,292.4 246.8,292.4 246.2,292.4 245.6,292.4 245.0,292.4 244.4,292.4 243.8,292.4 243.2,292.4 242.6,292.4 242.0,292.4 241.4,292.4 240.8,292.4 240.2,292.4 239.6,292.4 239.0,292.4 238.4,292.4 237.8,292.4 237.2,292.4 236.6,292.4 236.0,292.4 235.4,292.4 234.8,292.4 234.2,292.4 233.6,292.3 233.0,292.3 232.4,292.3 231.8,292.3 231.2,292.3 230.6,292.3 230.0,292.3 229.4,292.3 228.8,292.3 228.2,292.3 227.6,292.3 227.0,292.3 226.4,292.3 225.8,292.3 225.2,292.3 224.6,292.3 224.0,292.3 223.4,292.3 222.8,292.3 222.2,292.3 221.6,292.3 221.0,292.3 220.4,292.3 219.8,292.3 219.2,292.3 218.6,292.3 218.0,292.3 217.4,292.3 216.8,292.3 216.2,292.3 215.6,292.3 215.0,292.3 214.4,292.3 213.8,292.3 213.2,292.3 212.6,292.3 212.0,292.3 211.4,292.3 210.8,292.3 210.2,292.3 209.6,292.3 209.0,292.3 208.4,292.3 207.8,294.4 207.2,294.4 206.6,294.4 206.0,294.4 205.4,294.4 204.8,294.4 204.2,294.4 203.6,294.4 203.0,294.4 202.4,294.4 201.8,294.4 201.2,294.4 200.6,294.4 200.0,294.4 199.4,294.4 198.8,294.4 198.2,294.4 197.6,294.4 197.0,294.4 196.4,294.4 195.8,294.4 195.2,294.4 194.6,294.4 194.0,294.4 193.4,294.4 192.8,294.4 192.2,294.4 191.6,294.4 191.0,294.4 190.4,294.4 189.8,294.4 189.2,294.4 188.6,294.4 188.0,294.4 187.4,294.4 186.8,294.4 186.2,294.4 185.6,294.4 185.0,294.4 184.4,294.4 183.8,294.4 183.2,294.4 182.6,294.4 182.0,294.4 181.4,294.4 180.8,294.4 180.2,294.4 179.6,294.4 179.0,294.4 178.4,294.4 177.8,294.4 177.2,294.4 176.6,294.4 176.0,294.4 175.4,294.4 174.8,294.4 174.2,294.4 173.6,294.4 173.0,294.4 172.4,294.4 171.8,294.4 171.2,294.4 170.6,294.4 170.0,294.4 169.4,294.4 168.8,294.4 168.2,294.4 167.6,294.4 167.0,294.4 166.4,294.4 165.8,294.4 165.2,294.4 164.6,294.4 164.0,294.4 163.4,294.4 162.8,294.4 162.2,294.4 161.6,294.4 161.0,294.4 160.4,294.4 159.8,294.4 159.2,294.4 158.6,294.4 158.0,294.4 157.4,294.4 156.8,294.4 156.2,294.4 155.6,294.4 155.0,294.4 154.4,294.4 153.8,294.4 153.2,294.4 152.6,294.4 152.0,294.4 151.4,294.4 150.8,294.4 150.2,294.4 149.6,294.4 149.0,294.4 148.4,294.4 147.8,294.4 147.2,294.4 146.6,294.4 146.0,294.4 145.4,294.4 144.8,294.4 144.2,294.4 143.6,294.4 143.0,294.4 142.4,294.4 141.8,294.4 141.2,294.4 140.6,294.4 140.0,294.4 139.4,294.4 138.8,294.4 138.2,294.4 137.6,294.4 137.0,294.4 136.4,294.4 135.8,294.4 135.2,294.4 134.6,294.4 134.0,294.4 133.4,294.4 132.8,294.4 132.2,294.4 131.6,294.4 131.0,294.4 130.4,294.4 129.8,294.4 129.2,294.4 128.6,294.4 128.0,294.4 127.4,294.4 126.8,294.4 126.2,294.4 125.6,294.4 125.0,294.4 124.4,294.4 123.8,294.4 123.2,294.4 122.6,294.4 122.0,294.4 121.4,294.4 120.8,294.4 120.2,294.4 119.6,294.4 119.0,294.4 118.4,294.4 117.8,294.4 117.2,294.4 116.6,294.4 116.0,294.4 115.4,294.4 114.8,294.4 114.2,294.4 113.6,294.4 113.0,294.4 112.4,294.4 111.8,294.4 111.2,294.4 110.6,294.4 110.0,294.4 109.4,294.4 108.8,294.4 108.2,294.4 107.6,294.4 107.0,294.4 106.4,294.4 105.8,294.4 105.2,294.4 104.6,294.4 104.0,294.4 103.4,294.4 102.8,294.4 102.2,294.4 101.6,294.4 101.0,294.4 100.4,294.4 99.8,294.4 99.2,294.4 98.6,294.4 98.0,294.4 97.4,294.4 96.8,294.4 96.2,294.4 95.6,294.4 95.0,294.4 94.4,294.4 93.8,294.4 93.2,294.4 92.6,294.4 92.0,294.4 91.4,294.4 90.8,294.4 90.2,294.4 89.6,294.4 89.0,294.4 88.4,294.4 87.8,294.4 87.2,294.4 86.6,294.4 86.0,294.4 85.4,294.4 84.8,294.4 84.2,294.4 83.6,294.4 83.0,294.4 82.4,294.4 81.8,294.4 81.2,294.4 80.6,294.4 80.0,294.4 79.4,294.4 78.8,294.4 78.2,294.4 77.6,294.4 77.0,294.4 76.4,294.4 75.8,294.4 75.2,294.4 74.6,294.4 74.0,294.4 73.4,294.4 72.8,294.4 72.2,294.4 71.6,294.4 71.0,294.4 70.4,294.4 69.8,294.4 69.2,294.4 68.6,294.4 68.0,294.4 67.4,294.4 66.8,294.4 66.2,294.4 65.6,294.4 65.0,294.4 64.4,294.4 63.8,294.4 63.2,294.4 62.6,294.4 62.0,294.4 61.4,294.4 60.8,294.4 60.2,294.4 59.6,294.4 59.0,294.4 58.4,294.4 57.8,294.4 57.2,294.4 56.6,294.4 56.0,294.4 55.4,294.4 54.8,294.4 54.2,294.4 53.6,294.4 53.0,294.4 52.4,294.4 51.8,294.4 51.2,294.4 50.6,294.4 50.0,294.4 49.4,294.4 48.8,294.4 48.2,294.4 47.6,294.4 47.0,294.4Z" fill="#cdb6e2" fill-opacity="1" stroke="none"/>
<path d="M47.0,294.4 47.6,294.4 48.2,294.4 48.8,294.4 49.4,294.4 50.0,294.4 50.6,294.4 51.2,294.4 51.8,294.4 52.4,294.4 53.0,294.4 53.6,294.4 54.2,294.4 54.8,294.4 55.4,294.4 56.0,294.4 56.6,294.4 57.2,294.4 57.8,294.4 58.4,294.4 59.0,294.4 59.6,294.4 60.2,294.4 60.8,294.4 61.4,294.4 62.0,294.4 62.6,294.4 63.2,294.4 63.8,294.4 64.4,294.4 65.0,294.4 65.6,294.4 66.2,294.4 66.8,294.4 67.4,294.4 68.0,294.4 68.6,294.4 69.2,294.4 69.8,294.4 70.4,294.4 71.0,294.4 71.6,294.4 72.2,294.4 72.8,294.4 73.4,294.4 74.0,294.4 74.6,294.4 75.2,294.4 75.8,294.4 76.4,294.4 77.0,294.4 77.6,294.4 78.2,294.4 78.8,294.4 79.4,294.4 80.0,294.4 80.6,294.4 81.2,294.4 81.8,294.4 82.4,294.4 83.0,294.4 83.6,294.4 84.2,294.4 84.8,294.4 85.4,294.4 86.0,294.4 86.6,294.4 87.2,294.4 87.8,294.4 88.4,294.4 89.0,294.4 89.6,294.4 90.2,294.4 90.8,294.4 91.4,294.4 92.0,294.4 92.6,294.4 93.2,294.4 93.8,294.4 94.4,294.4 95.0,294.4 95.6,294.4 96.2,294.4 96.8,294.4 97.4,294.4 98.0,294.4 98.6,294.4 99.2,294.4 99.8,294.4 100.4,294.4 101.0,294.4 101.6,294.4 102.2,294.4 102.8,294.4 103.4,294.4 104.0,294.4 104.6,294.4 105.2,294.4 105.8,294.4 106.4,294.4 107.0,294.4 107.6,294.4 108.2,294.4 108.8,294.4 109.4,294.4 110.0,294.4 110.6,294.4 111.2,294.4 111.8,294.4 112.4,294.4 113.0,294.4 113.6,294.4 114.2,294.4 114.8,294.4 115.4,294.4 116.0,294.4 116.6,294.4 117.2,294.4 117.8,294.4 118.4,294.4 119.0,294.4 119.6,294.4 120.2,294.4 120.8,294.4 121.4,294.4 122.0,294.4 122.6,294.4 123.2,294.4 123.8,294.4 124.4,294.4 125.0,294.4 125.6,294.4 126.2,294.4 126.8,294.4 127.4,294.4 128.0,294.4 128.6,294.4 129.2,294.4 129.8,294.4 130.4,294.4 131.0,294.4 131.6,294.4 132.2,294.4 132.8,294.4 133.4,294.4 134.0,294.4 134.6,294.4 135.2,294.4 135.8,294.4 136.4,294.4 137.0,294.4 137.6,294.4 138.2,294.4 138.8,294.4 139.4,294.4 140.0,294.4 140.6,294.4 141.2,294.4 141.8,294.4 142.4,294.4 143.0,294.4 143.6,294.4 144.2,294.4 144.8,294.4 145.4,294.4 146.0,294.4 146.6,294.4 147.2,294.4 147.8,294.4 148.4,294.4 149.0,294.4 149.6,294.4 150.2,294.4 150.8,294.4 151.4,294.4 152.0,294.4 152.6,294.4 153.2,294.4 153.8,294.4 154.4,294.4 155.0,294.4 155.6,294.4 156.2,294.4 156.8,294.4 157.4,294.4 158.0,294.4 158.6,294.4 159.2,294.4 159.8,294.4 160.4,294.4 161.0,294.4 161.6,294.4 162.2,294.4 162.8,294.4 163.4,294.4 164.0,294.4 164.6,294.4 165.2,294.4 165.8,294.4 166.4,294.4 167.0,294.4 167.6,294.4 168.2,294.4 168.8,294.4 169.4,294.4 170.0,294.4 170.6,294.4 171.2,294.4 171.8,294.4 172.4,294.4 173.0,294.4 173.6,294.4 174.2,294.4 174.8,294.4 175.4,294.4 176.0,294.4 176.6,294.4 177.2,294.4 177.8,294.4 178.4,294.4 179.0,294.4 179.6,294.4 180.2,294.4 180.8,294.4 181.4,294.4 182.0,294.4 182.6,294.4 183.2,294.4 183.8,294.4 184.4,294.4 185.0,294.4 185.6,294.4 186.2,294.4 186.8,294.4 187.4,294.4 188.0,294.4 188.6,294.4 189.2,294.4 189.8,294.4 190.4,294.4 191.0,294.4 191.6,294.4 192.2,294.4 192.8,294.4 193.4,294.4 194.0,294.4 194.6,294.4 195.2,294.4 195.8,294.4 196.4,294.4 197.0,294.4 197.6,294.4 198.2,294.4 198.8,294.4 199.4,294.4 200.0,294.4 200.6,294.4 201.2,294.4 201.8,294.4 202.4,294.4 203.0,294.4 203.6,294.4 204.2,294.4 204.8,294.4 205.4,294.4 206.0,294.4 206.6,294.4 207.2,294.4 207.8,294.4 208.4,292.3 209.0,292.3 209.6,292.3 210.2,292.3 210.8,292.3 211.4,292.3 212.0,292.3 212.6,292.3 213.2,292.3 213.8,292.3 214.4,292.3 215.0,292.3 215.6,292.3 216.2,292.3 216.8,292.3 217.4,292.3 218.0,292.3 218.6,292.3 219.2,292.3 219.8,292.3 220.4,292.3 221.0,292.3 221.6,292.3 222.2,292.3 222.8,292.3 223.4,292.3 224.0,292.3 224.6,292.3 225.2,292.3 225.8,292.3 226.4,292.3 227.0,292.3 227.6,292.3 228.2,292.3 228.8,292.3 229.4,292.3 230.0,292.3 230.6,292.3 231.2,292.3 231.8,292.3 232.4,292.3 233.0,292.3 233.6,292.3 234.2,292.4 234.8,292.4 235.4,292.4 236.0,292.4 236.6,292.4 237.2,292.4 237.8,292.4 238.4,292.4 239.0,292.4 239.6,292.4 240.2,292.4 240.8,292.4 241.4,292.4 242.0,292.4 242.6,292.4 243.2,292.4 243.8,292.4 244.4,292.4 245.0,292.4 245.6,292.4 246.2,292.4 246.8,292.4 247.4,292.4 248.0,292.4 248.6,292.4 249.2,292.5 249.8,292.5 250.4,292.5 251.0,292.5 251.6,292.5 252.2,292.5 252.8,292.5 253.4,292.5 254.0,292.6 254.6,292.6 255.2,292.6 255.8,292.6 256.4,292.6 257.0,292.6 257.6,292.6 258.2,292.6 258.8,292.6 259.4,292.5 260.0,292.3 260.6,292.2 261.2,292.0 261.8,291.6 262.4,290.7 263.0,289.5 263.6,288.0 264.2,286.4 264.8,284.6 265.4,282.3 266.0,279.7 266.1,279.2 266.6,277.0 267.2,274.5 267.8,271.6 268.2,269.5 268.4,268.5 269.0,266.0 269.5,264.9 269.6,264.9 270.2,265.9 270.6,267.4 270.8,268.3 271.0,269.2 271.4,271.1 271.5,271.6 272.0,275.0 272.5,278.8 272.6,279.4 273.2,280.5 273.5,280.7 273.8,280.8 274.4,281.1 275.0,281.2 275.4,281.3 275.6,281.3 276.2,281.3 276.4,281.3 276.8,281.3 276.9,281.3 277.4,281.3 277.8,281.3 278.0,281.3 278.6,281.3 278.8,281.3 279.2,281.1 279.8,280.4 280.4,279.5 281.0,278.7 281.3,278.5 281.6,278.4 281.8,278.6 282.2,280.0 282.8,283.3 283.4,285.9 283.7,286.4 284.0,286.9 284.6,287.7 285.2,288.4 285.7,288.8 285.8,288.9 286.4,289.4 287.0,289.7 287.6,290.0 287.8,290.1 288.2,290.2 288.8,290.5 289.4,290.7 290.0,290.9 290.1,291.0 290.6,291.1 291.2,291.3 291.8,291.5 292.4,291.6 293.0,291.7 293.6,291.8 294.2,291.9 294.8,291.9 295.0,291.9 295.4,291.9 296.0,291.9 296.6,291.9 297.2,291.9 297.8,291.8 298.4,291.8 299.0,291.7 299.6,291.7 300.2,291.6 300.8,291.5 301.4,291.3 302.0,291.2 302.6,291.0 303.2,282.4 303.3,280.0 303.8,270.6 304.4,267.5 304.6,266.8 305.0,266.0 305.6,266.0 306.2,266.7 306.3,266.9 306.8,267.8 307.4,269.2 307.5,269.4 308.0,271.5 308.2,272.8 308.6,275.9 308.7,276.6 309.2,280.0 309.8,282.1 310.4,283.4 310.7,283.9 311.0,284.4 311.6,285.2 312.2,285.9 312.6,286.3 312.8,286.5 313.4,287.0 314.0,287.6 314.6,288.1 315.2,288.5 315.8,288.9 316.4,289.2 317.0,289.5 317.5,289.7 317.6,289.7 318.2,289.9 318.8,290.0 319.4,290.1 320.0,290.2 320.6,290.3 321.2,290.4 321.8,290.5 322.4,290.6 323.0,290.7 323.6,290.7 324.2,290.8 324.8,290.8 325.4,290.9 326.0,290.9 326.6,290.9 327.2,290.9 327.8,290.9 328.4,290.8 329.0,290.7 329.6,290.7 330.2,290.5 330.3,290.5 330.8,290.4 331.4,290.3 332.0,290.1 332.6,290.0 333.2,289.8 333.8,289.7 334.4,289.5 334.5,289.5 335.0,289.3 335.6,289.2 336.2,289.0 336.4,289.0 336.8,288.9 337.4,288.8 338.0,288.6 338.6,288.5 339.2,288.5 339.8,288.4 340.4,288.4 341.0,288.3 341.6,288.3 342.2,288.3 342.8,288.2 343.4,288.2 344.0,288.2 344.6,288.2 344.8,288.2 345.2,288.2 345.8,288.3 346.4,288.5 347.0,288.7 347.6,289.0 348.2,289.3 348.8,289.6 349.4,289.8 350.0,290.0 350.6,290.3 351.2,290.5 351.8,290.7 352.4,290.9 353.0,291.1 353.6,291.2 354.2,291.4 354.8,291.4 355.4,291.5 356.0,291.6 356.6,291.6 357.2,291.7 357.8,291.7 358.4,291.8 359.0,291.9 359.6,291.9 360.2,292.0 360.8,292.0 361.4,292.0 362.0,292.1 362.6,292.1 363.2,292.1 363.8,292.2 364.4,292.2 365.0,292.2 365.6,292.2 366.2,292.3 366.8,292.3 367.4,292.3 368.0,292.3 368.6,292.3 369.2,292.3 369.8,292.3 370.4,292.3 371.0,292.3 371.6,292.3 372.2,292.3 372.8,292.3 373.4,292.3 374.0,292.3 374.6,292.3 375.2,292.3 375.8,292.3 376.4,292.3 377.0,292.3 377.6,292.3 378.2,292.3 378.8,292.3 379.4,292.3 380.0,292.3 380.6,292.3 381.2,292.3 381.8,292.3 382.4,292.3 383.0,292.3 383.6,292.3 384.2,292.3 384.8,292.3 385.4,292.3 386.0,292.3 386.6,292.3 387.2,292.3 387.8,292.3 388.1,292.3 388.4,292.3 388.7,292.3 389.0,292.3 389.2,292.3 389.6,292.2 390.2,292.2 390.4,292.2 390.8,292.2 391.4,292.2 392.0,292.2 392.4,292.2 392.6,292.2 393.2,292.2 393.8,292.2 394.3,292.2 394.4,292.2 395.0,292.2 395.6,292.2 396.2,292.2 396.3,292.2 396.8,292.2 397.4,292.2 398.0,292.2 398.6,292.2 399.2,292.2 399.8,292.2 400.4,292.2 401.0,292.1 401.6,292.1 402.2,292.1 402.8,292.1 403.4,292.1 404.0,292.1 404.6,292.1 405.2,292.1 405.8,292.1 406.4,292.1 407.0,292.1 407.6,292.0 408.2,292.0 408.8,292.0 409.4,292.0 410.0,292.0 410.6,291.9 411.2,291.7 411.8,291.5 412.4,291.3 412.7,291.2 413.0,291.2 413.6,291.2 414.2,291.3 414.8,291.4 415.4,291.5 416.0,291.6 416.6,291.7 417.2,291.8 417.8,292.0 418.4,292.1 419.0,292.1 419.6,292.2 420.2,292.2 420.8,292.2 421.4,292.2 422.0,292.2 422.6,292.2 423.2,292.2 423.8,292.2 424.4,292.2 425.0,292.2 425.6,292.2 426.2,292.2 426.8,292.1 427.2,292.1 427.4,292.1 427.9,292.1 428.0,292.1 428.2,292.1 428.6,292.1 428.8,292.1 429.2,292.1 429.8,292.1 430.4,292.1 431.0,292.1 431.6,292.1 432.2,292.1 432.8,292.1 433.4,292.1 434.0,292.0 434.4,292.0 434.6,292.0 435.2,292.0 435.8,292.0 436.4,292.0 437.0,292.0 437.6,292.0 438.2,292.0 438.8,292.0 439.4,292.0 440.0,292.0 440.6,292.0 440.7,292.0 441.2,292.0 441.8,292.0 442.4,292.0 442.7,292.0 443.0,292.0 443.6,292.0 443.7,292.0 444.2,292.0 444.8,292.0 445.4,292.0 446.0,292.0 446.6,292.0 446.8,292.0 447.2,292.0 447.8,292.0 448.4,292.0 449.0,292.0 449.5,292.0 449.6,292.0 450.2,292.0 450.8,292.0 451.4,292.0 451.5,292.0 452.0,292.0 452.6,292.0 452.8,292.0 453.2,292.0 453.5,292.0 453.8,292.0 454.2,292.0 454.4,292.0 455.0,292.0 455.6,292.0 456.2,292.0 456.8,292.0 457.4,292.0 458.0,292.0 458.6,292.0 459.2,292.0 459.8,292.0 460.4,292.1 461.0,292.1 461.6,292.1 462.2,292.1 462.8,292.1 463.4,292.1 464.0,292.1 464.3,292.1 464.6,292.1 465.2,292.1 465.8,292.1 466.4,292.1 467.0,292.1 467.6,292.1 468.2,292.1 468.8,292.1 469.4,292.1 470.0,292.1 470.6,292.1 471.2,292.1 471.8,292.1 472.4,292.2 473.0,292.2 473.6,292.2 474.2,292.2 474.8,292.2 475.1,292.2 475.4,292.2 476.0,292.2 476.6,292.2 477.2,292.2 477.8,292.2 478.4,292.2 479.0,292.2 479.6,292.3 480.2,292.3 480.5,292.3 480.8,292.3 481.4,292.3 482.0,292.3 482.6,292.3 483.2,292.3 483.8,292.3 484.4,292.3 485.0,292.3 485.6,292.4 486.2,292.4 486.8,292.4 487.6,292.4 L487.6,294.4 486.8,294.4 486.2,294.4 485.6,294.4 485.0,294.4 484.4,294.4 483.8,294.4 483.2,294.4 482.6,294.4 482.0,294.4 481.4,294.4 480.8,294.4 480.5,294.4 480.2,294.4 479.6,294.4 479.0,294.4 478.4,294.4 477.8,294.4 477.2,294.4 476.6,294.4 476.0,294.4 475.4,294.4 475.1,294.4 474.8,294.4 474.2,294.4 473.6,294.4 473.0,294.4 472.4,294.4 471.8,294.4 471.2,294.4 470.6,294.4 470.0,294.4 469.4,294.4 468.8,294.4 468.2,294.4 467.6,294.4 467.0,294.4 466.4,294.4 465.8,294.4 465.2,294.4 464.6,294.4 464.3,294.4 464.0,294.4 463.4,294.4 462.8,294.4 462.2,294.4 461.6,294.4 461.0,294.4 460.4,294.4 459.8,294.4 459.2,294.4 458.6,294.4 458.0,294.4 457.4,294.4 456.8,294.4 456.2,294.4 455.6,294.4 455.0,294.4 454.4,294.4 454.2,294.4 453.8,294.4 453.5,294.4 453.2,294.4 452.8,294.4 452.6,294.4 452.0,294.4 451.5,294.4 451.4,294.4 450.8,294.4 450.2,294.4 449.6,294.4 449.5,294.4 449.0,294.4 448.4,294.4 447.8,294.4 447.2,294.4 446.8,294.4 446.6,294.4 446.0,294.4 445.4,294.4 444.8,294.4 444.2,294.4 443.7,294.4 443.6,294.4 443.0,294.4 442.7,294.4 442.4,294.4 441.8,294.4 441.2,294.4 440.7,294.4 440.6,294.4 440.0,294.4 439.4,294.4 438.8,294.4 438.2,294.4 437.6,294.4 437.0,294.4 436.4,294.4 435.8,294.4 435.2,294.4 434.6,294.4 434.4,294.4 434.0,294.4 433.4,294.4 432.8,294.4 432.2,294.4 431.6,294.4 431.0,294.4 430.4,294.4 429.8,294.4 429.2,294.4 428.8,294.4 428.6,294.4 428.2,294.4 428.0,294.4 427.9,294.4 427.4,294.4 427.2,294.4 426.8,294.4 426.2,294.4 425.6,294.4 425.0,294.4 424.4,294.4 423.8,294.4 423.2,294.4 422.6,294.4 422.0,294.4 421.4,294.4 420.8,294.4 420.2,294.4 419.6,294.4 419.0,294.4 418.4,294.4 417.8,294.4 417.2,294.4 416.6,294.4 416.0,294.4 415.4,294.4 414.8,294.4 414.2,294.4 413.6,294.4 413.0,294.4 412.7,294.4 412.4,294.4 411.8,294.4 411.2,294.4 410.6,294.4 410.0,294.4 409.4,294.4 408.8,294.4 408.2,294.4 407.6,294.4 407.0,294.4 406.4,294.4 405.8,294.4 405.2,294.4 404.6,294.4 404.0,294.4 403.4,294.4 402.8,294.4 402.2,294.4 401.6,294.4 401.0,294.4 400.4,294.4 399.8,294.4 399.2,294.4 398.6,294.4 398.0,294.4 397.4,294.4 396.8,294.4 396.3,294.4 396.2,294.4 395.6,294.4 395.0,294.4 394.4,294.4 394.3,294.4 393.8,294.4 393.2,294.4 392.6,294.4 392.4,294.4 392.0,294.4 391.4,294.4 390.8,294.4 390.4,294.4 390.2,294.4 389.6,294.4 389.2,294.4 389.0,294.4 388.7,294.4 388.4,294.4 388.1,294.4 387.8,294.4 387.2,294.4 386.6,294.4 386.0,294.4 385.4,294.4 384.8,294.4 384.2,294.4 383.6,294.4 383.0,294.4 382.4,294.4 381.8,294.4 381.2,294.4 380.6,294.4 380.0,294.4 379.4,294.4 378.8,294.4 378.2,294.4 377.6,294.4 377.0,294.4 376.4,294.4 375.8,294.4 375.2,294.4 374.6,294.4 374.0,294.4 373.4,294.4 372.8,294.4 372.2,294.4 371.6,294.4 371.0,294.4 370.4,294.4 369.8,294.4 369.2,294.4 368.6,294.4 368.0,294.4 367.4,294.4 366.8,294.4 366.2,294.4 365.6,294.4 365.0,294.4 364.4,294.4 363.8,294.4 363.2,294.4 362.6,294.4 362.0,294.4 361.4,294.4 360.8,294.4 360.2,294.4 359.6,294.4 359.0,294.4 358.4,294.4 357.8,294.4 357.2,294.4 356.6,294.4 356.0,294.4 355.4,294.4 354.8,294.4 354.2,294.4 353.6,294.4 353.0,294.4 352.4,294.4 351.8,294.4 351.2,294.4 350.6,294.4 350.0,294.4 349.4,294.4 348.8,294.4 348.2,294.4 347.6,294.4 347.0,294.4 346.4,294.4 345.8,294.4 345.2,294.4 344.8,294.4 344.6,294.4 344.0,294.4 343.4,294.4 342.8,294.4 342.2,294.4 341.6,294.4 341.0,294.4 340.4,294.4 339.8,294.4 339.2,294.4 338.6,294.4 338.0,294.4 337.4,294.4 336.8,294.4 336.4,294.4 336.2,294.4 335.6,294.4 335.0,294.4 334.5,294.4 334.4,294.4 333.8,294.4 333.2,294.4 332.6,294.4 332.0,294.4 331.4,294.4 330.8,294.4 330.3,294.4 330.2,294.4 329.6,294.4 329.0,294.4 328.4,294.4 327.8,294.4 327.2,294.4 326.6,294.4 326.0,294.4 325.4,294.4 324.8,294.4 324.2,294.4 323.6,294.4 323.0,294.4 322.4,294.4 321.8,294.4 321.2,294.4 320.6,294.4 320.0,294.4 319.4,294.4 318.8,294.4 318.2,294.4 317.6,294.4 317.5,294.4 317.0,294.4 316.4,294.4 315.8,294.4 315.2,294.4 314.6,294.4 314.0,294.4 313.4,294.4 312.8,294.4 312.6,294.4 312.2,294.4 311.6,294.4 311.0,294.4 310.7,294.4 310.4,294.4 309.8,294.4 309.2,294.4 308.7,294.4 308.6,294.4 308.2,294.4 308.0,294.4 307.5,294.4 307.4,294.4 306.8,294.4 306.3,294.4 306.2,294.4 305.6,294.4 305.0,294.4 304.6,294.4 304.4,294.4 303.8,294.4 303.3,294.4 303.2,294.4 302.6,294.4 302.0,294.4 301.4,294.4 300.8,294.4 300.2,294.4 299.6,294.4 299.0,294.4 298.4,294.4 297.8,294.4 297.2,294.4 296.6,294.4 296.0,294.4 295.4,294.4 295.0,294.4 294.8,294.4 294.2,294.4 293.6,294.4 293.0,294.4 292.4,294.4 291.8,294.4 291.2,294.4 290.6,294.4 290.1,294.4 290.0,294.4 289.4,294.4 288.8,294.4 288.2,294.4 287.8,294.4 287.6,294.4 287.0,294.4 286.4,294.4 285.8,294.4 285.7,294.4 285.2,294.4 284.6,294.4 284.0,294.4 283.7,294.4 283.4,294.4 282.8,294.4 282.2,294.4 281.8,294.4 281.6,294.4 281.3,294.4 281.0,294.4 280.4,294.4 279.8,294.4 279.2,294.4 278.8,294.4 278.6,294.4 278.0,294.4 277.8,294.4 277.4,294.4 276.9,294.4 276.8,294.4 276.4,294.4 276.2,294.4 275.6,294.4 275.4,294.4 275.0,294.4 274.4,294.4 273.8,294.4 273.5,294.4 273.2,294.4 272.6,294.4 272.5,294.4 272.0,294.4 271.5,294.4 271.4,294.4 271.0,294.4 270.8,294.4 270.6,294.4 270.2,294.4 269.6,294.4 269.5,294.4 269.0,294.4 268.4,294.4 268.2,294.4 267.8,294.4 267.2,294.4 266.6,294.4 266.1,294.4 266.0,294.4 265.4,294.4 264.8,294.4 264.2,294.4 263.6,294.4 263.0,294.4 262.4,294.4 261.8,294.4 261.2,294.4 260.6,294.4 260.0,294.4 259.4,294.4 258.8,294.4 258.2,294.4 257.6,294.4 257.0,294.4 256.4,294.4 255.8,294.4 255.2,294.4 254.6,294.4 254.0,294.4 253.4,294.4 252.8,294.4 252.2,294.4 251.6,294.4 251.0,294.4 250.4,294.4 249.8,294.4 249.2,294.4 248.6,294.4 248.0,294.4 247.4,294.4 246.8,294.4 246.2,294.4 245.6,294.4 245.0,294.4 244.4,294.4 243.8,294.4 243.2,294.4 242.6,294.4 242.0,294.4 241.4,294.4 240.8,294.4 240.2,294.4 239.6,294.4 239.0,294.4 238.4,294.4 237.8,294.4 237.2,294.4 236.6,294.4 236.0,294.4 235.4,294.4 234.8,294.4 234.2,294.4 233.6,294.4 233.0,294.4 232.4,294.4 231.8,294.4 231.2,294.4 230.6,294.4 230.0,294.4 229.4,294.4 228.8,294.4 228.2,294.4 227.6,294.4 227.0,294.4 226.4,294.4 225.8,294.4 225.2,294.4 224.6,294.4 224.0,294.4 223.4,294.4 222.8,294.4 222.2,294.4 221.6,294.4 221.0,294.4 220.4,294.4 219.8,294.4 219.2,294.4 218.6,294.4 218.0,294.4 217.4,294.4 216.8,294.4 216.2,294.4 215.6,294.4 215.0,294.4 214.4,294.4 213.8,294.4 213.2,294.4 212.6,294.4 212.0,294.4 211.4,294.4 210.8,294.4 210.2,294.4 209.6,294.4 209.0,294.4 208.4,294.4 207.8,294.4 207.2,294.4 206.6,294.4 206.0,294.4 205.4,294.4 204.8,294.4 204.2,294.4 203.6,294.4 203.0,294.4 202.4,294.4 201.8,294.4 201.2,294.4 200.6,294.4 200.0,294.4 199.4,294.4 198.8,294.4 198.2,294.4 197.6,294.4 197.0,294.4 196.4,294.4 195.8,294.4 195.2,294.4 194.6,294.4 194.0,294.4 193.4,294.4 192.8,294.4 192.2,294.4 191.6,294.4 191.0,294.4 190.4,294.4 189.8,294.4 189.2,294.4 188.6,294.4 188.0,294.4 187.4,294.4 186.8,294.4 186.2,294.4 185.6,294.4 185.0,294.4 184.4,294.4 183.8,294.4 183.2,294.4 182.6,294.4 182.0,294.4 181.4,294.4 180.8,294.4 180.2,294.4 179.6,294.4 179.0,294.4 178.4,294.4 177.8,294.4 177.2,294.4 176.6,294.4 176.0,294.4 175.4,294.4 174.8,294.4 174.2,294.4 173.6,294.4 173.0,294.4 172.4,294.4 171.8,294.4 171.2,294.4 170.6,294.4 170.0,294.4 169.4,294.4 168.8,294.4 168.2,294.4 167.6,294.4 167.0,294.4 166.4,294.4 165.8,294.4 165.2,294.4 164.6,294.4 164.0,294.4 163.4,294.4 162.8,294.4 162.2,294.4 161.6,294.4 161.0,294.4 160.4,294.4 159.8,294.4 159.2,294.4 158.6,294.4 158.0,294.4 157.4,294.4 156.8,294.4 156.2,294.4 155.6,294.4 155.0,294.4 154.4,294.4 153.8,294.4 153.2,294.4 152.6,294.4 152.0,294.4 151.4,294.4 150.8,294.4 150.2,294.4 149.6,294.4 149.0,294.4 148.4,294.4 147.8,294.4 147.2,294.4 146.6,294.4 146.0,294.4 145.4,294.4 144.8,294.4 144.2,294.4 143.6,294.4 143.0,294.4 142.4,294.4 141.8,294.4 141.2,294.4 140.6,294.4 140.0,294.4 139.4,294.4 138.8,294.4 138.2,294.4 137.6,294.4 137.0,294.4 136.4,294.4 135.8,294.4 135.2,294.4 134.6,294.4 134.0,294.4 133.4,294.4 132.8,294.4 132.2,294.4 131.6,294.4 131.0,294.4 130.4,294.4 129.8,294.4 129.2,294.4 128.6,294.4 128.0,294.4 127.4,294.4 126.8,294.4 126.2,294.4 125.6,294.4 125.0,294.4 124.4,294.4 123.8,294.4 123.2,294.4 122.6,294.4 122.0,294.4 121.4,294.4 120.8,294.4 120.2,294.4 119.6,294.4 119.0,294.4 118.4,294.4 117.8,294.4 117.2,294.4 116.6,294.4 116.0,294.4 115.4,294.4 114.8,294.4 114.2,294.4 113.6,294.4 113.0,294.4 112.4,294.4 111.8,294.4 111.2,294.4 110.6,294.4 110.0,294.4 109.4,294.4 108.8,294.4 108.2,294.4 107.6,294.4 107.0,294.4 106.4,294.4 105.8,294.4 105.2,294.4 104.6,294.4 104.0,294.4 103.4,294.4 102.8,294.4 102.2,294.4 101.6,294.4 101.0,294.4 100.4,294.4 99.8,294.4 99.2,294.4 98.6,294.4 98.0,294.4 97.4,294.4 96.8,294.4 96.2,294.4 95.6,294.4 95.0,294.4 94.4,294.4 93.8,294.4 93.2,294.4 92.6,294.4 92.0,294.4 91.4,294.4 90.8,294.4 90.2,294.4 89.6,294.4 89.0,294.4 88.4,294.4 87.8,294.4 87.2,294.4 86.6,294.4 86.0,294.4 85.4,294.4 84.8,294.4 84.2,294.4 83.6,294.4 83.0,294.4 82.4,294.4 81.8,294.4 81.2,294.4 80.6,294.4 80.0,294.4 79.4,294.4 78.8,294.4 78.2,294.4 77.6,294.4 77.0,294.4 76.4,294.4 75.8,294.4 75.2,294.4 74.6,294.4 74.0,294.4 73.4,294.4 72.8,294.4 72.2,294.4 71.6,294.4 71.0,294.4 70.4,294.4 69.8,294.4 69.2,294.4 68.6,294.4 68.0,294.4 67.4,294.4 66.8,294.4 66.2,294.4 65.6,294.4 65.0,294.4 64.4,294.4 63.8,294.4 63.2,294.4 62.6,294.4 62.0,294.4 61.4,294.4 60.8,294.4 60.2,294.4 59.6,294.4 59.0,294.4 58.4,294.4 57.8,294.4 57.2,294.4 56.6,294.4 56.0,294.4 55.4,294.4 54.8,294.4 54.2,294.4 53.6,294.4 53.0,294.4 52.4,294.4 51.8,294.4 51.2,294.4 50.6,294.4 50.0,294.4 49.4,294.4 48.8,294.4 48.2,294.4 47.6,294.4 47.0,294.4Z" fill="url(#sal)" fill-opacity="1" stroke="none"/>
<path d="M180,292.6 182,291.5 188,289.5 192,288 193.6,286.5 196.4,288.5 199.7,287.5 204,289.5 208,291.2 208.2,294.4 207.6,292.5 204,291 199.7,289.5 196.4,290.5 193.6,288.6 192,290 188,291 183,292.6 180,294.4Z" fill="#a9a3d2"/>
<path d="M180,294.4 183,292.6 188,291 192,290 193.6,288.6 196.4,290.5 199.7,289.5 204,291 207.6,292.5 208.2,294.4Z" fill="#f6ee7c"/>
<path d="M205.4,294.4 206.0,294.4 206.6,294.4 207.2,294.4 207.8,294.4 208.4,292.3 209.0,292.3 209.6,292.3 210.2,292.3 210.8,292.3 211.4,292.3 212.0,292.3 212.6,292.3 213.2,292.3 213.8,292.3 214.4,292.3 215.0,292.3 215.6,292.3 216.2,292.3 216.8,292.3 217.4,292.3 218.0,292.3 218.6,292.3 219.2,292.3 219.8,292.3 220.4,292.3 221.0,292.3 221.6,292.3 222.2,292.3 222.8,292.3 223.4,292.3 224.0,292.3 224.6,292.3 225.2,292.3 225.8,292.3 226.4,292.3 227.0,292.3 227.6,292.3 228.2,292.3 228.8,292.3 229.4,292.3 230.0,292.3 230.6,292.3 231.2,292.3 231.8,292.3 232.4,292.3 233.0,292.3 233.6,292.3 234.2,292.4 234.8,292.4 235.4,292.4 236.0,292.4 236.6,292.4 237.2,292.4 237.8,292.4 238.4,292.4 239.0,292.4 239.6,292.4 240.2,292.4 240.8,292.4 241.4,292.4 242.0,292.4 242.6,292.4 243.2,292.4 243.8,292.4 244.4,292.4 245.0,292.4 245.6,292.4 246.2,292.4 246.8,292.4 247.4,292.4 248.0,292.4 248.6,292.4 249.2,292.5 249.8,292.5 250.4,292.5 251.0,292.5 251.6,292.5 252.2,292.5 252.8,292.5 253.4,292.5 254.0,292.6 254.6,292.6 255.2,292.6 255.8,292.6 256.4,292.6 257.0,292.6 257.6,292.6 258.2,292.6 258.8,292.6 259.4,292.5 260.0,292.3 260.6,292.2 261.2,292.0 261.8,291.6 262.4,290.7 263.0,289.5 263.6,288.0 264.2,286.4 264.8,284.6 265.4,282.3 266.0,279.7 266.1,279.2 266.6,277.0 267.2,274.5 267.8,271.6 268.2,269.5 268.4,268.5 269.0,266.0 269.5,264.9 269.6,264.9 270.2,265.9 270.6,267.4 270.8,268.3 271.0,269.2 271.4,271.1 271.5,271.6 272.0,275.0 272.5,278.8 272.6,279.4 273.2,280.5 273.5,280.7 273.8,280.8 274.4,281.1 275.0,281.2 275.4,281.3 275.6,281.3 276.2,281.3 276.4,281.3 276.8,281.3 276.9,281.3 277.4,281.3 277.8,281.3 278.0,281.3 278.6,281.3 278.8,281.3 279.2,281.1 279.8,280.4 280.4,279.5 281.0,278.7 281.3,278.5 281.6,278.4 281.8,278.6 282.2,280.0 282.8,283.3 283.4,285.9 283.7,286.4 284.0,286.9 284.6,287.7 285.2,288.4 285.7,288.8 285.8,288.9 286.4,289.4 287.0,289.7 287.6,290.0 287.8,290.1 288.2,290.2 288.8,290.5 289.4,290.7 290.0,290.9 290.1,291.0 290.6,291.1 291.2,291.3 291.8,291.5 292.4,291.6 293.0,291.7 293.6,291.8 294.2,291.9 294.8,291.9 295.0,291.9 295.4,291.9 296.0,291.9 296.6,291.9 297.2,291.9 297.8,291.8 298.4,291.8 299.0,291.7 299.6,291.7 300.2,291.6 300.8,291.5 301.4,291.3 302.0,291.2 302.6,291.0 303.2,282.4 303.3,280.0 303.8,270.6 304.4,267.5 304.6,266.8 305.0,266.0 305.6,266.0 306.2,266.7 306.3,266.9 306.8,267.8 307.4,269.2 307.5,269.4 308.0,271.5 308.2,272.8 308.6,275.9 308.7,276.6 309.2,280.0 309.8,282.1 310.4,283.4 310.7,283.9 311.0,284.4 311.6,285.2 312.2,285.9 312.6,286.3 312.8,286.5 313.4,287.0 314.0,287.6 314.6,288.1 315.2,288.5 315.8,288.9 316.4,289.2 317.0,289.5 317.5,289.7 317.6,289.7 318.2,289.9 318.8,290.0 319.4,290.1 320.0,290.2 320.6,290.3 321.2,290.4 321.8,290.5 322.4,290.6 323.0,290.7 323.6,290.7 324.2,290.8 324.8,290.8 325.4,290.9 326.0,290.9 326.6,290.9 327.2,290.9 327.8,290.9 328.4,290.8 329.0,290.7 329.6,290.7 330.2,290.5 330.3,290.5 330.8,290.4 331.4,290.3 332.0,290.1 332.6,290.0 333.2,289.8 333.8,289.7 334.4,289.5 334.5,289.5 335.0,289.3 335.6,289.2 336.2,289.0 336.4,289.0 336.8,288.9 337.4,288.8 338.0,288.6 338.6,288.5 339.2,288.5 339.8,288.4 340.4,288.4 341.0,288.3 341.6,288.3 342.2,288.3 342.8,288.2 343.4,288.2 344.0,288.2 344.6,288.2 344.8,288.2 345.2,288.2 345.8,288.3 346.4,288.5 347.0,288.7 347.6,289.0 348.2,289.3 348.8,289.6 349.4,289.8 350.0,290.0 350.6,290.3 351.2,290.5 351.8,290.7 352.4,290.9 353.0,291.1 353.6,291.2 354.2,291.4 354.8,291.4 355.4,291.5 356.0,291.6 356.6,291.6 357.2,291.7 357.8,291.7 358.4,291.8 359.0,291.9 359.6,291.9 360.2,292.0 360.8,292.0 361.4,292.0 362.0,292.1 362.6,292.1 363.2,292.1 363.8,292.2 364.4,292.2 365.0,292.2 365.6,292.2 366.2,292.3 366.8,292.3 367.4,292.3 368.0,292.3 368.6,292.3 369.2,292.3 369.8,292.3 370.4,292.3 371.0,292.3 371.6,292.3 372.2,292.3 372.8,292.3 373.4,292.3 374.0,292.3 374.6,292.3 375.2,292.3 375.8,292.3 376.4,292.3 377.0,292.3 377.6,292.3 378.2,292.3 378.8,292.3 379.4,292.3 380.0,292.3 380.6,292.3 381.2,292.3 381.8,292.3 382.4,292.3 383.0,292.3 383.6,292.3 384.2,292.3 384.8,292.3 385.4,292.3 386.0,292.3 386.6,292.3 387.2,292.3 387.8,292.3 388.1,292.3 388.4,292.3 388.7,292.3 389.0,292.3 389.2,292.3 389.6,292.2 390.2,292.2 390.4,292.2 390.8,292.2 391.4,292.2 392.0,292.2 392.4,292.2 392.6,292.2 393.2,292.2 393.8,292.2 394.3,292.2 394.4,292.2 395.0,292.2 395.6,292.2 396.2,292.2 396.3,292.2 396.8,292.2 397.4,292.2 398.0,292.2 398.6,292.2 399.2,292.2 399.8,292.2 400.4,292.2 401.0,292.1 401.6,292.1 402.2,292.1 402.8,292.1 403.4,292.1 404.0,292.1 404.6,292.1 405.2,292.1 405.8,292.1 406.4,292.1 407.0,292.1 407.6,292.0 408.2,292.0 408.8,292.0 409.4,292.0 410.0,292.0 410.6,291.9 411.2,291.7 411.8,291.5 412.4,291.3 412.7,291.2 413.0,291.2 413.6,291.2 414.2,291.3 414.8,291.4 415.4,291.5 416.0,291.6 416.6,291.7 417.2,291.8 417.8,292.0 418.4,292.1 419.0,292.1 419.6,292.2 420.2,292.2 420.8,292.2 421.4,292.2 422.0,292.2 422.6,292.2 423.2,292.2 423.8,292.2 424.4,292.2 425.0,292.2 425.6,292.2 426.2,292.2 426.8,292.1 427.2,292.1 427.4,292.1 427.9,292.1 428.0,292.1 428.2,292.1 428.6,292.1 428.8,292.1 429.2,292.1 429.8,292.1 430.4,292.1 431.0,292.1 431.6,292.1 432.2,292.1 432.8,292.1 433.4,292.1 434.0,292.0 434.4,292.0 434.6,292.0 435.2,292.0 435.8,292.0 436.4,292.0 437.0,292.0 437.6,292.0 438.2,292.0 438.8,292.0 439.4,292.0 440.0,292.0 440.6,292.0 440.7,292.0 441.2,292.0 441.8,292.0 442.4,292.0 442.7,292.0 443.0,292.0 443.6,292.0 443.7,292.0 444.2,292.0 444.8,292.0 445.4,292.0 446.0,292.0 446.6,292.0 446.8,292.0 447.2,292.0 447.8,292.0 448.4,292.0 449.0,292.0 449.5,292.0 449.6,292.0 450.2,292.0 450.8,292.0 451.4,292.0 451.5,292.0 452.0,292.0 452.6,292.0 452.8,292.0 453.2,292.0 453.5,292.0 453.8,292.0 454.2,292.0 454.4,292.0 455.0,292.0 455.6,292.0 456.2,292.0 456.8,292.0 457.4,292.0 458.0,292.0 458.6,292.0 459.2,292.0 459.8,292.0 460.4,292.1 461.0,292.1 461.6,292.1 462.2,292.1 462.8,292.1 463.4,292.1 464.0,292.1 464.3,292.1 464.6,292.1 465.2,292.1 465.8,292.1 466.4,292.1 467.0,292.1 467.6,292.1 468.2,292.1 468.8,292.1 469.4,292.1 470.0,292.1 470.6,292.1 471.2,292.1 471.8,292.1 472.4,292.2 473.0,292.2 473.6,292.2 474.2,292.2 474.8,292.2 475.1,292.2 475.4,292.2 476.0,292.2 476.6,292.2 477.2,292.2 477.8,292.2 478.4,292.2 479.0,292.2 479.6,292.3 480.2,292.3 480.5,292.3 480.8,292.3 481.4,292.3 482.0,292.3 482.6,292.3 483.2,292.3 483.8,292.3 484.4,292.3 485.0,292.3 485.6,292.4 486.2,292.4 486.8,292.4 487.6,292.4" fill="none" stroke="#f4907c" stroke-width="1" stroke-opacity="1" stroke-linejoin="round"/>
<path d="M178.4,293.8 179.0,293.7 179.6,293.6 180.2,293.6 180.8,293.4 181.4,293.2 182.0,293.1 182.6,293.0 183.2,292.9 183.8,292.8 184.4,292.7 185.0,292.6 185.6,292.5 186.2,292.5 186.8,292.4 187.4,292.3 188.0,292.2 188.6,292.1 189.2,292.0 189.8,291.9 190.4,291.8 191.0,291.7 191.6,291.6 192.2,291.5 192.8,291.1 193.4,290.9 194.0,290.9 194.6,291.1 195.2,291.4 195.8,291.6 196.4,291.7 197.0,291.7 197.6,291.6 198.2,291.5 198.8,291.4 199.4,291.3 200.0,291.3 200.6,291.4 201.2,291.5 201.8,291.6 202.4,291.8 203.0,292.0 203.6,292.1 204.2,292.2 204.8,292.4 205.4,292.5 206.0,292.7 206.6,292.8 207.2,292.9 207.8,293.0 208.4,291.8 209.0,291.8 209.6,291.8 210.2,291.9 210.8,291.9 211.4,291.9 212.0,291.9 212.6,291.9 213.2,291.9 213.8,291.9 214.4,291.9 215.0,291.9 215.6,291.9 216.2,291.9 216.8,291.8 217.4,291.8 218.0,291.8 218.6,291.7 219.2,291.7 219.8,291.6 220.4,291.6 221.0,291.6 221.6,291.5 222.2,291.5 222.8,291.5 223.4,291.5 224.0,291.6 224.6,291.8 225.2,291.8 225.8,291.8 226.4,291.7 227.0,291.5 227.6,291.3 228.2,291.2 228.8,291.2 229.4,291.3 230.0,291.4 230.6,291.6 231.2,291.7 231.8,291.8 232.4,291.9 233.0,292.0 233.6,292.0 234.2,291.9 234.8,291.9 235.4,291.9 236.0,291.8 236.6,291.8 237.2,291.7 237.8,291.7 238.4,291.6 239.0,291.6 239.6,291.5 240.2,291.5 240.8,291.5 241.4,291.5 242.0,291.5 242.6,291.5 243.2,291.5 243.8,291.5 244.4,291.5 245.0,291.5 245.6,291.4 246.2,291.2 246.8,291.2 247.4,291.2 248.0,291.4 248.6,291.6 249.2,291.8 249.8,292.0 250.4,292.0 251.0,292.0 251.6,292.0 252.2,292.0 252.8,292.0 253.4,292.0 254.0,292.0 254.6,292.0 255.2,292.0 255.8,292.1 256.4,292.1 257.0,292.1 257.6,292.1 258.2,292.1 258.8,292.0 259.4,292.0 260.0,291.8 260.6,291.6 261.2,291.4 261.8,291.0 262.4,290.1 263.0,288.9 263.6,287.4 264.2,285.7 264.8,283.4 265.4,280.3 266.0,277.1 266.1,276.7 266.6,274.2 267.2,271.4 267.8,268.8 268.2,267.4 268.4,266.8 269.0,265.2 269.5,264.5 269.6,264.5 270.2,265.0 270.6,266.0 270.8,266.7 271.0,267.4 271.4,268.9 271.5,269.3 272.0,271.8 272.5,274.4 272.6,274.8 273.2,275.8 273.5,276.1 273.8,276.4 274.4,276.9 275.0,277.2 275.4,277.3 275.6,277.4 276.2,277.2 276.4,277.0 276.8,276.6 276.9,276.4 277.4,275.8 277.8,275.4 278.0,275.3 278.6,275.3 278.8,275.4 279.2,275.5 279.8,275.6 280.4,275.7 281.0,276.2 281.3,276.8 281.6,277.5 281.8,278.1 282.2,279.7 282.8,282.0 283.4,283.6 283.7,283.9 284.0,284.3 284.6,284.8 285.2,285.2 285.7,285.4 285.8,285.5 286.4,285.7 287.0,285.8 287.6,285.9 287.8,285.9 288.2,286.0 288.8,286.3 289.4,287.0 290.0,288.0 290.1,288.1 290.6,288.8 291.2,289.4 291.8,289.6 292.4,289.8 293.0,290.0 293.6,290.1 294.2,290.1 294.8,290.0 295.0,289.9 295.4,289.7 296.0,289.3 296.6,288.9 297.2,288.6 297.8,288.4 298.4,288.4 299.0,288.5 299.6,288.7 300.2,288.8 300.8,289.0 301.4,289.2 302.0,289.5 302.6,289.6 303.2,282.4 303.3,280.0 303.8,270.4 304.4,266.7 304.6,265.8 305.0,264.7 305.6,264.7 306.2,265.4 306.3,265.5 306.8,266.5 307.4,267.9 307.5,268.1 308.0,269.9 308.2,270.9 308.6,273.1 308.7,273.7 309.2,276.7 309.8,279.6 310.4,281.5 310.7,281.9 311.0,282.3 311.6,282.8 312.2,283.3 312.6,283.7 312.8,283.9 313.4,284.6 314.0,285.4 314.6,286.1 315.2,286.6 315.8,286.7 316.4,286.8 317.0,286.8 317.5,286.8 317.6,286.8 318.2,286.9 318.8,287.1 319.4,287.5 320.0,288.0 320.6,288.6 321.2,289.0 321.8,289.4 322.4,289.4 323.0,289.2 323.6,289.0 324.2,288.6 324.8,288.3 325.4,288.1 326.0,287.8 326.6,287.6 327.2,287.3 327.8,287.1 328.4,287.0 329.0,286.9 329.6,287.2 330.2,287.6 330.3,287.7 330.8,288.1 331.4,288.3 332.0,288.3 332.6,287.9 333.2,287.3 333.8,286.6 334.4,285.9 334.5,285.7 335.0,285.2 335.6,284.8 336.2,284.7 336.4,284.7 336.8,284.8 337.4,285.1 338.0,285.5 338.6,285.9 339.2,286.1 339.8,286.1 340.4,286.1 341.0,286.1 341.6,286.1 342.2,286.1 342.8,286.1 343.4,286.0 344.0,285.8 344.6,285.5 344.8,285.5 345.2,285.5 345.8,285.7 346.4,285.9 347.0,286.2 347.6,286.6 348.2,287.0 348.8,287.3 349.4,287.6 350.0,287.9 350.6,288.2 351.2,288.5 351.8,288.8 352.4,289.1 353.0,289.4 353.6,289.6 354.2,289.8 354.8,289.9 355.4,290.0 356.0,290.1 356.6,290.2 357.2,290.3 357.8,290.4 358.4,290.5 359.0,290.5 359.6,290.6 360.2,290.7 360.8,290.7 361.4,290.8 362.0,290.8 362.6,290.9 363.2,290.9 363.8,291.0 364.4,291.0 365.0,291.0 365.6,291.1 366.2,291.1 366.8,291.1 367.4,291.1 368.0,291.2 368.6,291.2 369.2,291.2 369.8,291.2 370.4,291.2 371.0,291.2 371.6,291.2 372.2,291.2 372.8,291.1 373.4,290.9 374.0,290.7 374.6,290.4 375.2,290.1 375.8,289.9 376.4,289.7 377.0,289.6 377.6,289.5 378.2,289.6 378.8,289.8 379.4,290.0 380.0,290.4 380.6,290.7 381.2,290.9 381.8,291.1 382.4,291.2 383.0,291.1 383.6,291.0 384.2,290.7 384.8,290.4 385.4,290.1 386.0,289.7 386.6,289.4 387.2,289.2 387.8,289.1 388.1,289.0 388.4,289.0 388.7,289.1 389.0,289.2 389.2,289.3 389.6,289.4 390.2,289.7 390.4,289.8 390.8,290.0 391.4,290.2 392.0,290.3 392.4,290.3 392.6,290.3 393.2,290.3 393.8,290.2 394.3,290.2 394.4,290.2 395.0,290.1 395.6,290.1 396.2,290.1 396.3,290.1 396.8,290.2 397.4,290.3 398.0,290.4 398.6,290.6 399.2,290.7 399.8,290.9 400.4,291.0 401.0,291.1 401.6,291.1 402.2,291.1 402.8,291.1 403.4,291.0 404.0,291.0 404.6,290.9 405.2,290.8 405.8,290.6 406.4,290.5 407.0,290.3 407.6,290.1 408.2,289.5 408.8,288.6 409.4,287.7 410.0,287.0 410.6,286.8 411.2,287.0 411.8,287.2 412.4,287.6 412.7,287.8 413.0,288.0 413.6,288.3 414.2,288.7 414.8,289.1 415.4,289.5 416.0,289.8 416.6,290.1 417.2,290.2 417.8,290.2 418.4,290.1 419.0,289.9 419.6,289.7 420.2,289.5 420.8,289.3 421.4,289.3 422.0,289.4 422.6,289.4 423.2,289.5 423.8,289.6 424.4,289.7 425.0,289.7 425.6,289.7 426.2,289.3 426.8,288.7 427.2,288.3 427.4,288.1 427.9,287.7 428.0,287.7 428.2,287.6 428.6,287.5 428.8,287.5 429.2,287.7 429.8,288.2 430.4,288.7 431.0,289.1 431.6,289.1 432.2,288.8 432.8,288.4 433.4,288.0 434.0,287.6 434.4,287.4 434.6,287.4 435.2,287.6 435.8,288.0 436.4,288.5 437.0,289.1 437.6,289.5 438.2,289.7 438.8,289.9 439.4,290.0 440.0,290.1 440.6,290.2 440.7,290.2 441.2,290.2 441.8,290.2 442.4,290.0 442.7,289.9 443.0,289.7 443.6,289.3 443.7,289.3 444.2,289.0 444.8,288.8 445.4,288.7 446.0,288.7 446.6,288.7 446.8,288.7 447.2,288.7 447.8,288.7 448.4,288.7 449.0,288.7 449.5,288.7 449.6,288.7 450.2,288.7 450.8,288.7 451.4,288.5 451.5,288.4 452.0,288.1 452.6,287.6 452.8,287.5 453.2,287.3 453.5,287.2 453.8,287.3 454.2,287.6 454.4,287.8 455.0,288.5 455.6,289.3 456.2,289.9 456.8,290.3 457.4,290.3 458.0,290.2 458.6,290.2 459.2,290.1 459.8,290.1 460.4,290.0 461.0,290.0 461.6,290.0 462.2,290.0 462.8,290.1 463.4,290.1 464.0,290.2 464.3,290.2 464.6,290.2 465.2,290.3 465.8,290.3 466.4,290.3 467.0,290.4 467.6,290.4 468.2,290.5 468.8,290.5 469.4,290.5 470.0,290.6 470.6,290.6 471.2,290.6 471.8,290.6 472.4,290.6 473.0,290.6 473.6,290.7 474.2,290.7 474.8,290.7 475.1,290.7 475.4,290.7 476.0,290.7 476.6,290.7 477.2,290.7 477.8,290.7 478.4,290.7 479.0,290.7 479.6,290.7 480.2,290.7 480.5,290.7 480.8,290.7 481.4,290.8 482.0,290.8 482.6,290.9 483.2,290.9 483.8,291.0 484.4,291.0 485.0,291.1 485.6,291.1 486.2,291.2 486.8,291.3 487.6,291.4" fill="none" stroke="#b49fd6" stroke-width="0.8" stroke-opacity="1" stroke-linejoin="round"/>
<path d="M178.4,293.0 179.0,292.8 179.6,292.7 180.2,292.5 180.8,292.2 181.4,291.8 182.0,291.5 182.6,291.3 183.2,291.0 183.8,290.8 184.4,290.6 185.0,290.4 185.6,290.3 186.2,290.1 186.8,289.9 187.4,289.7 188.0,289.5 188.6,289.3 189.2,289.1 189.8,288.9 190.4,288.7 191.0,288.5 191.6,288.2 192.2,287.8 192.8,287.1 193.4,286.6 194.0,286.6 194.6,287.1 195.2,287.7 195.8,288.3 196.4,288.5 197.0,288.4 197.6,288.2 198.2,287.9 198.8,287.7 199.4,287.5 200.0,287.5 200.6,287.7 201.2,287.9 201.8,288.2 202.4,288.6 203.0,289.0 203.6,289.3 204.2,289.6 204.8,289.9 205.4,290.2 206.0,290.5 206.6,290.8 207.2,291.1 207.8,291.2 208.4,291.2 209.0,291.3 209.6,291.3 210.2,291.3 210.8,291.3 211.4,291.3 212.0,291.4 212.6,291.4 213.2,291.4 213.8,291.4 214.4,291.4 215.0,291.4 215.6,291.4 216.2,291.3 216.8,291.3 217.4,291.2 218.0,291.1 218.6,291.0 219.2,290.9 219.8,290.8 220.4,290.7 221.0,290.6 221.6,290.6 222.2,290.5 222.8,290.5 223.4,290.6 224.0,290.8 224.6,291.1 225.2,291.3 225.8,291.3 226.4,291.0 227.0,290.5 227.6,290.1 228.2,289.8 228.8,289.8 229.4,290.0 230.0,290.3 230.6,290.6 231.2,290.9 231.8,291.2 232.4,291.4 233.0,291.5 233.6,291.5 234.2,291.4 234.8,291.4 235.4,291.4 236.0,291.2 236.6,291.0 237.2,290.9 237.8,290.8 238.4,290.7 239.0,290.6 239.6,290.5 240.2,290.5 240.8,290.5 241.4,290.4 242.0,290.4 242.6,290.4 243.2,290.4 243.8,290.4 244.4,290.3 245.0,290.3 245.6,290.1 246.2,289.8 246.8,289.6 247.4,289.7 248.0,290.1 248.6,290.6 249.2,291.1 249.8,291.4 250.4,291.4 251.0,291.4 251.6,291.4 252.2,291.4 252.8,291.4 253.4,291.4 254.0,291.4 254.6,291.4 255.2,291.4 255.8,291.4 256.4,291.4 257.0,291.4 257.6,291.4 258.2,291.4 258.8,291.4 259.4,291.4 260.0,291.2 260.6,291.0 261.2,290.6 261.8,290.2 262.4,289.3 263.0,288.1 263.6,286.6 264.2,284.8 264.8,282.0 265.4,277.8 266.0,274.0 266.1,273.5 266.6,270.7 267.2,267.6 267.8,265.4 268.2,264.8 268.4,264.6 269.0,264.2 269.5,264.0 269.6,264.0 270.2,264.0 270.6,264.4 270.8,264.8 271.0,265.2 271.4,266.2 271.5,266.5 272.0,267.8 272.5,269.0 272.6,269.2 273.2,270.1 273.5,270.5 273.8,270.9 274.4,271.7 275.0,272.3 275.4,272.5 275.6,272.6 276.2,272.2 276.4,271.9 276.8,270.8 276.9,270.5 277.4,269.0 277.8,268.2 278.0,267.9 278.6,268.0 278.8,268.1 279.2,268.7 279.8,269.8 280.4,271.1 281.0,273.1 281.3,274.6 281.6,276.4 281.8,277.5 282.2,279.4 282.8,280.4 283.4,280.8 283.7,280.9 284.0,281.0 284.6,281.2 285.2,281.3 285.7,281.3 285.8,281.3 286.4,281.2 287.0,281.0 287.6,280.9 287.8,280.9 288.2,280.8 288.8,281.1 289.4,282.5 290.0,284.3 290.1,284.6 290.6,286.0 291.2,287.0 291.8,287.3 292.4,287.6 293.0,287.8 293.6,288.0 294.2,288.0 294.8,287.7 295.0,287.5 295.4,287.0 296.0,286.2 296.6,285.3 297.2,284.6 297.8,284.2 298.4,284.3 299.0,284.5 299.6,285.0 300.2,285.5 300.8,286.0 301.4,286.6 302.0,287.4 302.6,288.0 303.2,282.4 303.3,280.0 303.8,270.0 304.4,265.7 304.6,264.6 305.0,263.2 305.6,263.1 306.2,263.8 306.3,263.9 306.8,264.9 307.4,266.3 307.5,266.6 308.0,267.9 308.2,268.5 308.6,269.7 308.7,270.0 309.2,272.7 309.8,276.6 310.4,279.2 310.7,279.5 311.0,279.7 311.6,279.9 312.2,280.2 312.6,280.5 312.8,280.7 313.4,281.7 314.0,282.8 314.6,283.7 315.2,284.2 315.8,284.1 316.4,283.9 317.0,283.6 317.5,283.3 317.6,283.3 318.2,283.2 318.8,283.5 319.4,284.3 320.0,285.3 320.6,286.4 321.2,287.4 321.8,287.9 322.4,287.9 323.0,287.5 323.6,286.8 324.2,286.0 324.8,285.3 325.4,284.7 326.0,284.1 326.6,283.5 327.2,283.0 327.8,282.5 328.4,282.3 329.0,282.3 329.6,282.9 330.2,284.0 330.3,284.3 330.8,285.2 331.4,286.0 332.0,286.0 332.6,285.3 333.2,284.2 333.8,282.8 334.4,281.4 334.5,281.2 335.0,280.2 335.6,279.5 336.2,279.3 336.4,279.4 336.8,279.8 337.4,280.7 338.0,281.7 338.6,282.6 339.2,283.1 339.8,283.2 340.4,283.3 341.0,283.3 341.6,283.4 342.2,283.4 342.8,283.4 343.4,283.4 344.0,282.9 344.6,282.3 344.8,282.2 345.2,282.2 345.8,282.4 346.4,282.7 347.0,283.1 347.6,283.6 348.2,284.1 348.8,284.6 349.4,285.0 350.0,285.3 350.6,285.7 351.2,286.2 351.8,286.6 352.4,287.0 353.0,287.4 353.6,287.7 354.2,287.9 354.8,288.1 355.4,288.2 356.0,288.4 356.6,288.5 357.2,288.6 357.8,288.7 358.4,288.8 359.0,288.9 359.6,289.0 360.2,289.1 360.8,289.2 361.4,289.2 362.0,289.3 362.6,289.4 363.2,289.4 363.8,289.5 364.4,289.5 365.0,289.6 365.6,289.6 366.2,289.7 366.8,289.7 367.4,289.7 368.0,289.8 368.6,289.8 369.2,289.8 369.8,289.9 370.4,289.9 371.0,289.9 371.6,289.9 372.2,289.8 372.8,289.6 373.4,289.2 374.0,288.7 374.6,288.1 375.2,287.5 375.8,287.0 376.4,286.5 377.0,286.2 377.6,286.1 378.2,286.3 378.8,286.7 379.4,287.3 380.0,288.0 380.6,288.7 381.2,289.3 381.8,289.7 382.4,289.9 383.0,289.8 383.6,289.4 384.2,288.8 384.8,288.1 385.4,287.4 386.0,286.6 386.6,286.0 387.2,285.5 387.8,285.2 388.1,285.1 388.4,285.1 388.7,285.2 389.0,285.4 389.2,285.6 389.6,286.0 390.2,286.7 390.4,286.9 390.8,287.3 391.4,287.8 392.0,288.0 392.4,288.0 392.6,288.0 393.2,287.9 393.8,287.8 394.3,287.7 394.4,287.7 395.0,287.6 395.6,287.5 396.2,287.5 396.3,287.5 396.8,287.7 397.4,287.9 398.0,288.2 398.6,288.6 399.2,288.9 399.8,289.3 400.4,289.6 401.0,289.8 401.6,289.9 402.2,289.9 402.8,289.8 403.4,289.7 404.0,289.6 404.6,289.4 405.2,289.2 405.8,288.9 406.4,288.6 407.0,288.2 407.6,287.8 408.2,286.4 408.8,284.4 409.4,282.4 410.0,280.9 410.6,280.6 411.2,281.1 411.8,282.0 412.4,283.1 412.7,283.6 413.0,284.0 413.6,284.7 414.2,285.5 414.8,286.3 415.4,287.1 416.0,287.7 416.6,288.1 417.2,288.2 417.8,288.0 418.4,287.6 419.0,287.1 419.6,286.6 420.2,286.2 420.8,285.9 421.4,285.8 422.0,285.9 422.6,286.1 423.2,286.3 423.8,286.5 424.4,286.7 425.0,286.8 425.6,286.6 426.2,285.8 426.8,284.5 427.2,283.6 427.4,283.2 427.9,282.3 428.0,282.2 428.2,282.0 428.6,281.8 428.8,281.9 429.2,282.3 429.8,283.4 430.4,284.6 431.0,285.5 431.6,285.5 432.2,284.9 432.8,284.0 433.4,282.9 434.0,282.1 434.4,281.8 434.6,281.8 435.2,282.2 435.8,283.1 436.4,284.2 437.0,285.5 437.6,286.4 438.2,286.9 438.8,287.3 439.4,287.6 440.0,287.8 440.6,288.0 440.7,288.0 441.2,288.1 441.8,288.0 442.4,287.6 442.7,287.2 443.0,286.9 443.6,286.1 443.7,286.0 444.2,285.4 444.8,284.8 445.4,284.6 446.0,284.6 446.6,284.6 446.8,284.6 447.2,284.6 447.8,284.6 448.4,284.6 449.0,284.6 449.5,284.6 449.6,284.6 450.2,284.6 450.8,284.6 451.4,284.2 451.5,284.1 452.0,283.3 452.6,282.2 452.8,281.9 453.2,281.5 453.5,281.4 453.8,281.5 454.2,282.1 454.4,282.6 455.0,284.2 455.6,285.9 456.2,287.4 456.8,288.1 457.4,288.1 458.0,288.0 458.6,287.9 459.2,287.8 459.8,287.7 460.4,287.6 461.0,287.5 461.6,287.5 462.2,287.5 462.8,287.6 463.4,287.7 464.0,287.8 464.3,287.9 464.6,287.9 465.2,288.0 465.8,288.1 466.4,288.2 467.0,288.3 467.6,288.4 468.2,288.5 468.8,288.5 469.4,288.6 470.0,288.7 470.6,288.7 471.2,288.8 471.8,288.8 472.4,288.8 473.0,288.8 473.6,288.8 474.2,288.8 474.8,288.8 475.1,288.8 475.4,288.8 476.0,288.8 476.6,288.8 477.2,288.8 477.8,288.8 478.4,288.8 479.0,288.8 479.6,288.8 480.2,288.8 480.5,288.8 480.8,288.9 481.4,288.9 482.0,289.0 482.6,289.1 483.2,289.2 483.8,289.3 484.4,289.4 485.0,289.5 485.6,289.6 486.2,289.8 486.8,289.9 487.6,290.1" fill="none" stroke="#ea8fe9" stroke-width="1" stroke-opacity="1" stroke-linejoin="round"/>
<path d="M178.4,292.4 179.0,292.2 179.6,292.0 180.2,291.8 180.8,291.5 181.4,291.2 182.0,290.9 182.6,290.7 183.2,290.5 183.8,290.3 184.4,290.1 185.0,289.9 185.6,289.7 186.2,289.6 186.8,289.4 187.4,289.2 188.0,289.0 188.6,288.8 189.2,288.6 189.8,288.4 190.4,288.2 191.0,288.0 191.6,287.7 192.2,287.3 192.8,286.5 193.4,285.7 194.0,285.8 194.6,286.3 195.2,287.1 195.8,287.7 196.4,288.0 197.0,287.9 197.6,287.7 198.2,287.4 198.8,287.1 199.4,287.0 200.0,287.0 200.6,287.1 201.2,287.4 201.8,287.7 202.4,288.1 203.0,288.5 203.6,288.8 204.2,289.1 204.8,289.4 205.4,289.8 206.0,290.2 206.6,290.5 207.2,290.8 207.8,290.9 208.4,291.0 209.0,291.0 209.6,291.0 210.2,291.1 210.8,291.1 211.4,291.1 212.0,291.1 212.6,291.1 213.2,291.1 213.8,291.1 214.4,291.1 215.0,291.1 215.6,291.1 216.2,291.0 216.8,291.0 217.4,290.9 218.0,290.8 218.6,290.6 219.2,290.5 219.8,290.3 220.4,290.1 221.0,289.5 221.6,288.7 222.2,287.9 222.8,287.4 223.4,287.5 224.0,288.6 224.6,289.7 225.2,290.2 225.8,290.1 226.4,289.6 227.0,289.0 227.6,288.4 228.2,288.1 228.8,288.1 229.4,288.4 230.0,288.7 230.6,289.1 231.2,289.6 231.8,289.9 232.4,290.3 233.0,290.7 233.6,291.0 234.2,291.3 234.8,291.4 235.4,291.4 236.0,291.1 236.6,290.9 237.2,290.6 237.8,290.3 238.4,289.9 239.0,289.7 239.6,289.4 240.2,289.3 240.8,289.3 241.4,289.3 242.0,289.2 242.6,289.2 243.2,289.2 243.8,289.2 244.4,289.2 245.0,289.1 245.6,289.0 246.2,288.7 246.8,288.4 247.4,288.3 248.0,288.8 248.6,289.5 249.2,290.3 249.8,290.7 250.4,290.7 251.0,290.7 251.6,290.7 252.2,290.7 252.8,290.7 253.4,290.7 254.0,290.7 254.6,290.7 255.2,290.7 255.8,290.7 256.4,290.7 257.0,290.7 257.6,290.7 258.2,290.7 258.8,290.7 259.4,290.7 260.0,290.5 260.6,290.0 261.2,289.3 261.8,288.5 262.4,287.2 263.0,285.3 263.6,283.1 264.2,280.9 264.8,277.3 265.4,273.9 266.0,271.4 266.1,271.1 266.6,269.4 267.2,266.8 267.8,262.1 268.2,259.7 268.4,259.3 269.0,258.2 269.5,257.4 269.6,257.2 270.2,256.6 270.6,256.8 270.8,256.9 271.0,257.0 271.4,257.2 271.5,257.2 272.0,257.5 272.5,257.9 272.6,258.0 273.2,258.5 273.5,258.7 273.8,258.9 274.4,259.4 275.0,260.6 275.4,261.4 275.6,261.8 276.2,263.1 276.4,263.5 276.8,261.7 276.9,261.3 277.4,259.1 277.8,257.4 278.0,256.5 278.6,253.9 278.8,253.0 279.2,254.5 279.8,256.6 280.4,258.8 281.0,261.0 281.3,263.0 281.6,264.9 281.8,266.2 282.2,268.8 282.8,272.7 283.4,276.8 283.7,276.9 284.0,277.0 284.6,277.2 285.2,277.3 285.7,277.3 285.8,277.3 286.4,277.2 287.0,277.0 287.6,276.9 287.8,276.9 288.2,276.8 288.8,277.1 289.4,278.5 290.0,280.3 290.1,280.6 290.6,282.0 291.2,283.1 291.8,284.0 292.4,284.6 293.0,285.1 293.6,285.5 294.2,285.6 294.8,284.8 295.0,284.4 295.4,283.4 296.0,282.2 296.6,281.3 297.2,280.6 297.8,280.2 298.4,280.3 299.0,280.5 299.6,281.0 300.2,281.5 300.8,282.0 301.4,282.6 302.0,283.4 302.6,284.0 303.2,278.4 303.3,276.4 303.8,267.6 304.4,261.7 304.6,260.6 305.0,259.2 305.6,259.1 306.2,259.8 306.3,259.9 306.8,260.9 307.4,262.3 307.5,262.6 308.0,263.9 308.2,264.5 308.6,265.7 308.7,266.0 309.2,268.7 309.8,272.6 310.4,275.2 310.7,275.5 311.0,275.7 311.6,275.9 312.2,276.2 312.6,276.5 312.8,276.7 313.4,277.7 314.0,278.8 314.6,279.7 315.2,280.2 315.8,280.1 316.4,279.9 317.0,279.6 317.5,279.3 317.6,279.3 318.2,279.2 318.8,279.7 319.4,280.6 320.0,281.6 320.6,282.7 321.2,283.7 321.8,284.3 322.4,284.3 323.0,284.0 323.6,283.4 324.2,282.7 324.8,282.0 325.4,281.2 326.0,280.2 326.6,279.5 327.2,279.0 327.8,278.5 328.4,278.3 329.0,278.3 329.6,278.9 330.2,280.0 330.3,280.3 330.8,281.2 331.4,282.0 332.0,282.0 332.6,281.3 333.2,280.2 333.8,278.8 334.4,277.4 334.5,277.2 335.0,276.2 335.6,275.5 336.2,275.3 336.4,275.4 336.8,275.8 337.4,276.7 338.0,278.3 338.6,279.5 339.2,280.4 339.8,281.0 340.4,281.2 341.0,281.2 341.6,281.0 342.2,280.6 342.8,280.2 343.4,279.5 344.0,278.9 344.6,278.3 344.8,278.2 345.2,278.2 345.8,278.4 346.4,278.7 347.0,279.1 347.6,279.6 348.2,280.1 348.8,280.6 349.4,281.0 350.0,281.3 350.6,281.7 351.2,282.2 351.8,282.6 352.4,283.2 353.0,283.8 353.6,284.3 354.2,284.6 354.8,284.7 355.4,284.6 356.0,284.6 356.6,284.5 357.2,284.6 357.8,284.7 358.4,285.0 359.0,285.6 359.6,286.1 360.2,286.5 360.8,286.7 361.4,286.7 362.0,286.6 362.6,286.5 363.2,286.4 363.8,286.3 364.4,286.4 365.0,286.6 365.6,286.8 366.2,287.2 366.8,287.5 367.4,287.8 368.0,288.0 368.6,288.1 369.2,288.2 369.8,288.3 370.4,288.4 371.0,288.4 371.6,288.4 372.2,288.3 372.8,287.6 373.4,286.5 374.0,285.3 374.6,284.3 375.2,283.5 375.8,283.0 376.4,282.5 377.0,282.2 377.6,282.1 378.2,282.3 378.8,282.7 379.4,283.3 380.0,284.2 380.6,285.1 381.2,286.1 381.8,287.2 382.4,288.1 383.0,288.5 383.6,288.4 384.2,287.9 384.8,287.2 385.4,286.2 386.0,285.2 386.6,283.8 387.2,281.5 387.8,281.2 388.1,281.1 388.4,281.1 388.7,281.2 389.0,281.4 389.2,281.6 389.6,282.0 390.2,282.7 390.4,283.1 390.8,283.7 391.4,283.8 392.0,284.0 392.4,284.0 392.6,284.0 393.2,283.9 393.8,283.8 394.3,283.7 394.4,283.7 395.0,283.6 395.6,283.5 396.2,284.0 396.3,284.1 396.8,284.6 397.4,285.2 398.0,285.8 398.6,286.5 399.2,287.1 399.8,287.7 400.4,288.1 401.0,288.2 401.6,287.9 402.2,287.5 402.8,287.0 403.4,286.6 404.0,286.2 404.6,286.0 405.2,285.7 405.8,285.4 406.4,285.0 407.0,284.3 407.6,283.8 408.2,282.4 408.8,280.4 409.4,278.4 410.0,276.9 410.6,276.6 411.2,277.1 411.8,278.0 412.4,279.1 412.7,279.6 413.0,280.0 413.6,280.7 414.2,281.5 414.8,282.3 415.4,283.1 416.0,284.5 416.6,285.8 417.2,286.1 417.8,285.0 418.4,283.6 419.0,283.1 419.6,282.6 420.2,282.2 420.8,282.8 421.4,283.4 422.0,283.6 422.6,283.2 423.2,282.4 423.8,282.5 424.4,282.7 425.0,282.8 425.6,282.6 426.2,282.1 426.8,280.8 427.2,279.6 427.4,279.2 427.9,278.3 428.0,278.2 428.2,278.0 428.6,277.8 428.8,277.9 429.2,278.3 429.8,282.2 430.4,282.9 431.0,283.0 431.6,282.5 432.2,281.6 432.8,280.1 433.4,278.9 434.0,278.1 434.4,277.8 434.6,277.8 435.2,278.2 435.8,279.1 436.4,280.2 437.0,281.6 437.6,282.9 438.2,284.0 438.8,285.0 439.4,285.8 440.0,286.3 440.6,286.2 440.7,286.1 441.2,285.2 441.8,284.0 442.4,283.6 442.7,283.2 443.0,282.9 443.6,282.1 443.7,282.0 444.2,281.4 444.8,280.8 445.4,280.6 446.0,280.6 446.6,280.6 446.8,280.6 447.2,280.6 447.8,280.6 448.4,280.6 449.0,280.6 449.5,280.6 449.6,280.6 450.2,280.6 450.8,280.6 451.4,280.6 451.5,280.6 452.0,280.3 452.6,278.2 452.8,277.9 453.2,277.5 453.5,277.4 453.8,277.5 454.2,278.1 454.4,278.6 455.0,280.2 455.6,281.9 456.2,283.4 456.8,284.6 457.4,285.8 458.0,286.5 458.6,287.0 459.2,287.2 459.8,287.2 460.4,286.1 461.0,284.5 461.6,283.5 462.2,283.5 462.8,283.6 463.4,283.7 464.0,283.8 464.3,283.9 464.6,283.9 465.2,284.0 465.8,284.2 466.4,284.5 467.0,284.8 467.6,285.0 468.2,285.2 468.8,285.5 469.4,285.7 470.0,285.9 470.6,286.1 471.2,286.2 471.8,286.4 472.4,286.5 473.0,286.5 473.6,286.6 474.2,286.7 474.8,286.7 475.1,286.7 475.4,286.8 476.0,286.8 476.6,286.8 477.2,286.6 477.8,286.2 478.4,285.8 479.0,285.4 479.6,285.0 480.2,284.8 480.5,284.8 480.8,284.9 481.4,284.9 482.0,285.2 482.6,285.5 483.2,285.7 483.8,286.0 484.4,286.2 485.0,286.4 485.6,286.6 486.2,286.8 486.8,287.1 487.6,287.8" fill="none" stroke="#eadf6a" stroke-width="0.9" stroke-opacity="1" stroke-linejoin="round"/>
<clipPath id="spk"><rect x="386" y="60" width="5" height="196"/></clipPath><clipPath id="nospk"><path d="M0,0H1038V408H0Z M386,60H391V256H386Z" clip-rule="evenodd"/></clipPath>
<g clip-path="url(#nospk)">
<path d="M47.0,294.4 47.6,294.4 48.2,294.4 48.8,294.4 49.4,294.4 50.0,294.4 50.6,294.4 51.2,294.4 51.8,294.4 52.4,294.4 53.0,294.4 53.6,294.4 54.2,294.4 54.8,294.4 55.4,294.4 56.0,294.4 56.6,294.4 57.2,294.4 57.8,294.4 58.4,294.4 59.0,294.4 59.6,294.4 60.2,294.4 60.8,294.4 61.4,294.4 62.0,294.4 62.6,294.4 63.2,294.4 63.8,294.4 64.4,294.4 65.0,294.4 65.6,294.4 66.2,294.4 66.8,294.4 67.4,294.4 68.0,294.4 68.6,294.4 69.2,294.4 69.8,294.4 70.4,294.4 71.0,294.4 71.6,294.4 72.2,294.4 72.8,294.4 73.4,294.4 74.0,294.4 74.6,294.4 75.2,294.4 75.8,294.4 76.4,294.4 77.0,294.4 77.6,294.4 78.2,294.4 78.8,294.4 79.4,294.4 80.0,294.4 80.6,294.4 81.2,294.4 81.8,294.4 82.4,294.4 83.0,294.4 83.6,294.4 84.2,294.4 84.8,294.3 85.4,294.3 86.0,294.3 86.6,294.3 87.2,294.3 87.8,294.3 88.4,294.3 89.0,294.3 89.6,294.3 90.2,294.3 90.8,294.3 91.4,294.3 92.0,294.3 92.6,294.3 93.2,294.3 93.8,294.3 94.4,294.3 95.0,294.3 95.6,294.3 96.2,294.3 96.8,294.3 97.4,294.3 98.0,294.3 98.6,294.3 99.2,294.3 99.8,294.3 100.4,294.3 101.0,294.3 101.6,294.3 102.2,294.3 102.8,294.3 103.4,294.3 104.0,294.3 104.6,294.3 105.2,294.3 105.8,294.3 106.4,294.3 107.0,294.3 107.6,294.3 108.2,294.2 108.8,294.2 109.4,294.2 110.0,294.2 110.6,294.2 111.2,294.2 111.8,294.2 112.4,294.2 113.0,294.2 113.6,294.2 114.2,294.2 114.8,294.2 115.4,294.2 116.0,294.2 116.6,294.2 117.2,294.2 117.8,294.2 118.4,294.2 119.0,294.2 119.6,294.2 120.2,294.2 120.8,294.2 121.4,294.2 122.0,294.2 122.6,294.2 123.2,294.2 123.8,294.1 124.4,294.1 125.0,294.1 125.6,294.1 126.2,294.1 126.8,294.1 127.4,294.1 128.0,294.1 128.6,294.1 129.2,294.1 129.8,294.1 130.4,294.1 131.0,294.1 131.6,294.1 132.2,294.1 132.8,294.1 133.4,294.1 134.0,294.1 134.6,294.1 135.2,294.1 135.8,294.0 136.4,294.0 137.0,294.0 137.6,294.0 138.2,294.0 138.8,294.0 139.4,294.0 140.0,294.0 140.6,294.0 141.2,294.0 141.8,294.0 142.4,294.0 143.0,294.0 143.6,294.0 144.2,294.0 144.8,294.0 145.4,294.0 146.0,293.9 146.6,293.9 147.2,293.9 147.8,293.9 148.4,293.9 149.0,293.9 149.6,293.9 150.2,293.9 150.8,293.9 151.4,293.9 152.0,293.9 152.6,293.9 153.2,293.8 153.8,293.8 154.4,293.8 155.0,293.8 155.6,293.7 156.2,293.7 156.8,293.7 157.4,293.6 158.0,293.6 158.6,293.5 159.2,293.5 159.8,293.4 160.4,293.3 161.0,293.1 161.6,292.8 162.2,292.5 162.8,292.3 163.4,292.2 164.0,292.3 164.6,292.6 165.2,292.9 165.8,293.1 166.4,293.3 167.0,293.3 167.6,293.3 168.2,293.3 168.8,293.3 169.4,293.2 170.0,293.2 170.6,293.2 171.2,293.1 171.8,293.1 172.4,293.1 173.0,293.0 173.6,293.0 174.2,292.9 174.8,292.8 175.4,292.7 176.0,292.6 176.6,292.4 177.2,292.2 177.8,292.0 178.4,291.7 179.0,291.5 179.6,291.2 180.2,291.0 180.8,290.7 181.4,290.5 182.0,290.3 182.6,290.1 183.2,289.9 183.8,289.8 184.4,289.6 185.0,289.4 185.6,289.2 186.2,289.0 186.8,288.9 187.4,288.7 188.0,288.5 188.6,288.3 189.2,288.1 189.8,288.0 190.4,287.8 191.0,287.5 191.6,287.2 192.2,286.8 192.8,285.8 193.4,284.9 194.0,284.9 194.6,285.6 195.2,286.4 195.8,287.2 196.4,287.5 197.0,287.4 197.6,287.2 198.2,286.9 198.8,286.6 199.4,286.4 200.0,286.4 200.6,286.6 201.2,286.8 201.8,287.2 202.4,287.5 203.0,287.9 203.6,288.3 204.2,288.7 204.8,289.0 205.4,289.4 206.0,289.8 206.6,290.2 207.2,290.5 207.8,290.7 208.4,290.8 209.0,290.8 209.6,290.8 210.2,290.8 210.8,290.8 211.4,290.8 212.0,290.8 212.6,290.8 213.2,290.8 213.8,290.8 214.4,290.8 215.0,290.8 215.6,290.8 216.2,290.7 216.8,290.7 217.4,290.6 218.0,290.4 218.6,290.2 219.2,290.0 219.8,289.8 220.4,289.4 221.0,288.3 221.6,286.8 222.2,285.3 222.8,284.3 223.4,284.5 224.0,286.3 224.6,288.4 225.2,289.2 225.8,288.9 226.4,288.2 227.0,287.5 227.6,286.8 228.2,286.4 228.8,286.5 229.4,286.7 230.0,287.2 230.6,287.7 231.2,288.2 231.8,288.7 232.4,289.2 233.0,289.9 233.6,290.6 234.2,291.1 234.8,291.4 235.4,291.4 236.0,291.1 236.6,290.7 237.2,290.3 237.8,289.7 238.4,289.2 239.0,288.7 239.6,288.4 240.2,288.1 240.8,288.1 241.4,288.1 242.0,288.1 242.6,288.1 243.2,288.0 243.8,288.0 244.4,288.0 245.0,288.0 245.6,287.8 246.2,287.5 246.8,287.2 247.4,287.0 248.0,287.5 248.6,288.5 249.2,289.5 249.8,290.0 250.4,290.0 251.0,290.0 251.6,290.0 252.2,290.0 252.8,290.0 253.4,290.0 254.0,290.0 254.6,290.0 255.2,290.0 255.8,290.0 256.4,290.0 257.0,290.0 257.6,290.0 258.2,290.0 258.8,290.0 259.4,290.0 260.0,289.8 260.6,289.1 261.2,288.0 261.8,286.8 262.4,285.1 263.0,282.5 263.6,279.6 264.2,276.9 264.8,274.8 265.4,273.1 266.0,271.4 266.1,271.1 266.6,269.4 267.2,266.8 267.8,262.1 268.2,258.0 268.4,256.1 269.0,251.6 269.5,249.4 269.6,249.0 270.2,246.9 270.6,246.0 270.8,245.8 271.0,245.7 271.4,245.7 271.5,245.8 272.0,245.9 272.5,246.2 272.6,246.3 273.2,246.7 273.5,247.0 273.8,247.4 274.4,248.1 275.0,250.7 275.4,253.6 275.6,255.0 276.2,258.1 276.4,258.4 276.8,256.6 276.9,255.7 277.4,250.1 277.8,246.0 278.0,244.2 278.6,239.3 278.8,238.8 279.2,240.7 279.8,246.0 280.4,249.5 281.0,252.8 281.3,254.5 281.6,256.3 281.8,257.5 282.2,259.9 282.8,262.9 283.4,265.6 283.7,266.8 284.0,267.9 284.6,269.4 285.2,270.5 285.7,271.2 285.8,271.3 286.4,271.6 287.0,271.2 287.6,270.4 287.8,270.1 288.2,269.8 288.8,270.3 289.4,272.6 290.0,275.4 290.1,275.8 290.6,277.4 291.2,279.1 291.8,280.6 292.4,281.6 293.0,282.4 293.6,283.0 294.2,283.2 294.8,282.0 295.0,281.3 295.4,279.8 296.0,277.7 296.6,275.9 297.2,274.0 297.8,272.4 298.4,271.6 299.0,272.3 299.6,274.1 300.2,276.2 300.8,277.4 301.4,277.3 302.0,277.1 302.6,276.7 303.2,274.0 303.3,272.8 303.8,265.2 304.4,252.4 304.6,249.6 305.0,248.3 305.6,247.2 306.2,246.7 306.3,246.7 306.8,247.3 307.4,249.1 307.5,249.5 308.0,251.6 308.2,252.5 308.6,254.9 308.7,255.7 309.2,259.8 309.8,264.2 310.4,268.2 310.7,268.6 311.0,268.4 311.6,267.6 312.2,265.9 312.6,264.7 312.8,264.4 313.4,265.5 314.0,268.5 314.6,271.2 315.2,272.1 315.8,272.5 316.4,272.9 317.0,273.3 317.5,273.8 317.6,274.0 318.2,274.9 318.8,275.9 319.4,276.9 320.0,277.9 320.6,279.0 321.2,280.0 321.8,280.7 322.4,280.8 323.0,280.5 323.6,280.0 324.2,279.4 324.8,278.6 325.4,277.7 326.0,276.4 326.6,275.0 327.2,274.1 327.8,273.2 328.4,272.5 329.0,271.9 329.6,271.6 330.2,272.2 330.3,272.4 330.8,274.2 331.4,276.2 332.0,276.3 332.6,275.2 333.2,273.6 333.8,272.1 334.4,269.9 334.5,269.5 335.0,267.5 335.6,265.6 336.2,264.8 336.4,265.1 336.8,266.8 337.4,271.0 338.0,274.8 338.6,276.5 339.2,277.7 339.8,278.7 340.4,279.2 341.0,279.1 341.6,278.6 342.2,277.8 342.8,277.0 343.4,275.7 344.0,274.2 344.6,273.4 344.8,273.4 345.2,273.4 345.8,273.5 346.4,273.6 347.0,273.8 347.6,274.0 348.2,274.3 348.8,274.6 349.4,275.1 350.0,276.0 350.6,276.9 351.2,277.9 351.8,278.6 352.4,279.4 353.0,280.2 353.6,280.9 354.2,281.2 354.8,281.3 355.4,281.1 356.0,280.7 356.6,280.5 357.2,280.3 357.8,280.5 358.4,281.3 359.0,282.2 359.6,283.2 360.2,284.0 360.8,284.2 361.4,284.1 362.0,283.9 362.6,283.6 363.2,283.4 363.8,283.2 364.4,283.2 365.0,283.6 365.6,284.1 366.2,284.7 366.8,285.3 367.4,285.8 368.0,286.1 368.6,286.3 369.2,286.5 369.8,286.7 370.4,286.8 371.0,286.9 371.6,287.0 372.2,286.7 372.8,285.6 373.4,283.8 374.0,282.0 374.6,280.5 375.2,279.4 375.8,278.2 376.4,277.2 377.0,276.5 377.6,276.4 378.2,276.9 378.8,277.9 379.4,279.1 380.0,280.3 380.6,281.5 381.2,282.9 381.8,284.6 382.4,286.2 383.0,287.3 383.6,287.5 384.2,287.1 384.8,286.2 385.4,285.1 386.0,283.7 386.6,281.7 387.2,277.1 387.8,241.6 388.1,120.0 388.4,77.5 388.7,120.0 389.0,218.1 389.2,262.0 389.6,274.6 390.2,278.5 390.4,279.3 390.8,280.1 391.4,279.8 392.0,277.6 392.4,277.3 392.6,277.3 393.2,277.6 393.8,277.9 394.3,278.3 394.4,278.4 395.0,278.9 395.6,279.5 396.2,280.4 396.3,280.6 396.8,281.5 397.4,282.6 398.0,283.5 398.6,284.4 399.2,285.3 399.8,286.1 400.4,286.5 401.0,286.5 401.6,286.0 402.2,285.1 402.8,284.2 403.4,283.4 404.0,282.9 404.6,282.6 405.2,282.3 405.8,281.9 406.4,281.4 407.0,280.3 407.6,278.1 408.2,275.5 408.8,273.1 409.4,271.6 410.0,270.6 410.6,269.8 411.2,268.9 411.8,267.7 412.4,265.6 412.7,264.6 413.0,263.7 413.6,262.8 414.2,266.5 414.8,273.6 415.4,278.5 416.0,281.3 416.6,283.4 417.2,284.0 417.8,282.1 418.4,278.8 419.0,276.4 419.6,276.5 420.2,277.9 420.8,279.7 421.4,281.1 422.0,281.3 422.6,280.3 423.2,278.6 423.8,276.9 424.4,276.0 425.0,276.4 425.6,277.4 426.2,278.4 426.8,277.2 427.2,268.5 427.4,263.9 427.9,254.4 428.0,252.9 428.2,251.5 428.6,256.2 428.8,260.2 429.2,268.7 429.8,281.0 430.4,281.2 431.0,280.4 431.6,279.4 432.2,278.3 432.8,276.3 433.4,273.9 434.0,271.7 434.4,270.8 434.6,270.6 435.2,271.2 435.8,273.1 436.4,275.5 437.0,277.8 437.6,279.5 438.2,281.1 438.8,282.7 439.4,283.9 440.0,284.7 440.6,284.5 440.7,284.2 441.2,282.3 441.8,279.0 442.4,275.6 442.7,274.2 443.0,273.2 443.6,272.6 443.7,272.6 444.2,272.7 444.8,273.0 445.4,273.2 446.0,273.6 446.6,273.9 446.8,274.0 447.2,274.2 447.8,274.5 448.4,274.9 449.0,275.3 449.5,275.6 449.6,275.7 450.2,276.1 450.8,276.5 451.4,277.0 451.5,277.1 452.0,277.3 452.6,260.5 452.8,250.0 453.2,233.4 453.5,227.2 453.8,234.5 454.2,250.0 454.4,254.5 455.0,265.8 455.6,272.9 456.2,277.6 456.8,281.2 457.4,283.6 458.0,284.9 458.6,286.0 459.2,286.7 459.8,286.6 460.4,284.6 461.0,281.4 461.6,278.7 462.2,276.4 462.8,274.5 463.4,274.1 464.0,275.3 464.3,276.3 464.6,277.3 465.2,279.2 465.8,280.2 466.4,280.8 467.0,281.3 467.6,281.7 468.2,282.0 468.8,282.4 469.4,282.8 470.0,283.1 470.6,283.4 471.2,283.7 471.8,283.9 472.4,284.1 473.0,284.3 473.6,284.4 474.2,284.5 474.8,284.7 475.1,284.7 475.4,284.7 476.0,284.8 476.6,284.8 477.2,284.4 477.8,283.7 478.4,282.8 479.0,281.9 479.6,281.2 480.2,280.8 480.5,280.7 480.8,280.7 481.4,281.0 482.0,281.4 482.6,281.8 483.2,282.3 483.8,282.7 484.4,283.0 485.0,283.3 485.6,283.5 486.2,283.9 486.8,284.4 487.6,285.4" fill="none" stroke="#3fa780" stroke-width="1.2" stroke-opacity="1" stroke-linejoin="round"/>
</g>
<g clip-path="url(#spk)">
<path d="M47.0,294.4 47.6,294.4 48.2,294.4 48.8,294.4 49.4,294.4 50.0,294.4 50.6,294.4 51.2,294.4 51.8,294.4 52.4,294.4 53.0,294.4 53.6,294.4 54.2,294.4 54.8,294.4 55.4,294.4 56.0,294.4 56.6,294.4 57.2,294.4 57.8,294.4 58.4,294.4 59.0,294.4 59.6,294.4 60.2,294.4 60.8,294.4 61.4,294.4 62.0,294.4 62.6,294.4 63.2,294.4 63.8,294.4 64.4,294.4 65.0,294.4 65.6,294.4 66.2,294.4 66.8,294.4 67.4,294.4 68.0,294.4 68.6,294.4 69.2,294.4 69.8,294.4 70.4,294.4 71.0,294.4 71.6,294.4 72.2,294.4 72.8,294.4 73.4,294.4 74.0,294.4 74.6,294.4 75.2,294.4 75.8,294.4 76.4,294.4 77.0,294.4 77.6,294.4 78.2,294.4 78.8,294.4 79.4,294.4 80.0,294.4 80.6,294.4 81.2,294.4 81.8,294.4 82.4,294.4 83.0,294.4 83.6,294.4 84.2,294.4 84.8,294.3 85.4,294.3 86.0,294.3 86.6,294.3 87.2,294.3 87.8,294.3 88.4,294.3 89.0,294.3 89.6,294.3 90.2,294.3 90.8,294.3 91.4,294.3 92.0,294.3 92.6,294.3 93.2,294.3 93.8,294.3 94.4,294.3 95.0,294.3 95.6,294.3 96.2,294.3 96.8,294.3 97.4,294.3 98.0,294.3 98.6,294.3 99.2,294.3 99.8,294.3 100.4,294.3 101.0,294.3 101.6,294.3 102.2,294.3 102.8,294.3 103.4,294.3 104.0,294.3 104.6,294.3 105.2,294.3 105.8,294.3 106.4,294.3 107.0,294.3 107.6,294.3 108.2,294.2 108.8,294.2 109.4,294.2 110.0,294.2 110.6,294.2 111.2,294.2 111.8,294.2 112.4,294.2 113.0,294.2 113.6,294.2 114.2,294.2 114.8,294.2 115.4,294.2 116.0,294.2 116.6,294.2 117.2,294.2 117.8,294.2 118.4,294.2 119.0,294.2 119.6,294.2 120.2,294.2 120.8,294.2 121.4,294.2 122.0,294.2 122.6,294.2 123.2,294.2 123.8,294.1 124.4,294.1 125.0,294.1 125.6,294.1 126.2,294.1 126.8,294.1 127.4,294.1 128.0,294.1 128.6,294.1 129.2,294.1 129.8,294.1 130.4,294.1 131.0,294.1 131.6,294.1 132.2,294.1 132.8,294.1 133.4,294.1 134.0,294.1 134.6,294.1 135.2,294.1 135.8,294.0 136.4,294.0 137.0,294.0 137.6,294.0 138.2,294.0 138.8,294.0 139.4,294.0 140.0,294.0 140.6,294.0 141.2,294.0 141.8,294.0 142.4,294.0 143.0,294.0 143.6,294.0 144.2,294.0 144.8,294.0 145.4,294.0 146.0,293.9 146.6,293.9 147.2,293.9 147.8,293.9 148.4,293.9 149.0,293.9 149.6,293.9 150.2,293.9 150.8,293.9 151.4,293.9 152.0,293.9 152.6,293.9 153.2,293.8 153.8,293.8 154.4,293.8 155.0,293.8 155.6,293.7 156.2,293.7 156.8,293.7 157.4,293.6 158.0,293.6 158.6,293.5 159.2,293.5 159.8,293.4 160.4,293.3 161.0,293.1 161.6,292.8 162.2,292.5 162.8,292.3 163.4,292.2 164.0,292.3 164.6,292.6 165.2,292.9 165.8,293.1 166.4,293.3 167.0,293.3 167.6,293.3 168.2,293.3 168.8,293.3 169.4,293.2 170.0,293.2 170.6,293.2 171.2,293.1 171.8,293.1 172.4,293.1 173.0,293.0 173.6,293.0 174.2,292.9 174.8,292.8 175.4,292.7 176.0,292.6 176.6,292.4 177.2,292.2 177.8,292.0 178.4,291.7 179.0,291.5 179.6,291.2 180.2,291.0 180.8,290.7 181.4,290.5 182.0,290.3 182.6,290.1 183.2,289.9 183.8,289.8 184.4,289.6 185.0,289.4 185.6,289.2 186.2,289.0 186.8,288.9 187.4,288.7 188.0,288.5 188.6,288.3 189.2,288.1 189.8,288.0 190.4,287.8 191.0,287.5 191.6,287.2 192.2,286.8 192.8,285.8 193.4,284.9 194.0,284.9 194.6,285.6 195.2,286.4 195.8,287.2 196.4,287.5 197.0,287.4 197.6,287.2 198.2,286.9 198.8,286.6 199.4,286.4 200.0,286.4 200.6,286.6 201.2,286.8 201.8,287.2 202.4,287.5 203.0,287.9 203.6,288.3 204.2,288.7 204.8,289.0 205.4,289.4 206.0,289.8 206.6,290.2 207.2,290.5 207.8,290.7 208.4,290.8 209.0,290.8 209.6,290.8 210.2,290.8 210.8,290.8 211.4,290.8 212.0,290.8 212.6,290.8 213.2,290.8 213.8,290.8 214.4,290.8 215.0,290.8 215.6,290.8 216.2,290.7 216.8,290.7 217.4,290.6 218.0,290.4 218.6,290.2 219.2,290.0 219.8,289.8 220.4,289.4 221.0,288.3 221.6,286.8 222.2,285.3 222.8,284.3 223.4,284.5 224.0,286.3 224.6,288.4 225.2,289.2 225.8,288.9 226.4,288.2 227.0,287.5 227.6,286.8 228.2,286.4 228.8,286.5 229.4,286.7 230.0,287.2 230.6,287.7 231.2,288.2 231.8,288.7 232.4,289.2 233.0,289.9 233.6,290.6 234.2,291.1 234.8,291.4 235.4,291.4 236.0,291.1 236.6,290.7 237.2,290.3 237.8,289.7 238.4,289.2 239.0,288.7 239.6,288.4 240.2,288.1 240.8,288.1 241.4,288.1 242.0,288.1 242.6,288.1 243.2,288.0 243.8,288.0 244.4,288.0 245.0,288.0 245.6,287.8 246.2,287.5 246.8,287.2 247.4,287.0 248.0,287.5 248.6,288.5 249.2,289.5 249.8,290.0 250.4,290.0 251.0,290.0 251.6,290.0 252.2,290.0 252.8,290.0 253.4,290.0 254.0,290.0 254.6,290.0 255.2,290.0 255.8,290.0 256.4,290.0 257.0,290.0 257.6,290.0 258.2,290.0 258.8,290.0 259.4,290.0 260.0,289.8 260.6,289.1 261.2,288.0 261.8,286.8 262.4,285.1 263.0,282.5 263.6,279.6 264.2,276.9 264.8,274.8 265.4,273.1 266.0,271.4 266.1,271.1 266.6,269.4 267.2,266.8 267.8,262.1 268.2,258.0 268.4,256.1 269.0,251.6 269.5,249.4 269.6,249.0 270.2,246.9 270.6,246.0 270.8,245.8 271.0,245.7 271.4,245.7 271.5,245.8 272.0,245.9 272.5,246.2 272.6,246.3 273.2,246.7 273.5,247.0 273.8,247.4 274.4,248.1 275.0,250.7 275.4,253.6 275.6,255.0 276.2,258.1 276.4,258.4 276.8,256.6 276.9,255.7 277.4,250.1 277.8,246.0 278.0,244.2 278.6,239.3 278.8,238.8 279.2,240.7 279.8,246.0 280.4,249.5 281.0,252.8 281.3,254.5 281.6,256.3 281.8,257.5 282.2,259.9 282.8,262.9 283.4,265.6 283.7,266.8 284.0,267.9 284.6,269.4 285.2,270.5 285.7,271.2 285.8,271.3 286.4,271.6 287.0,271.2 287.6,270.4 287.8,270.1 288.2,269.8 288.8,270.3 289.4,272.6 290.0,275.4 290.1,275.8 290.6,277.4 291.2,279.1 291.8,280.6 292.4,281.6 293.0,282.4 293.6,283.0 294.2,283.2 294.8,282.0 295.0,281.3 295.4,279.8 296.0,277.7 296.6,275.9 297.2,274.0 297.8,272.4 298.4,271.6 299.0,272.3 299.6,274.1 300.2,276.2 300.8,277.4 301.4,277.3 302.0,277.1 302.6,276.7 303.2,274.0 303.3,272.8 303.8,265.2 304.4,252.4 304.6,249.6 305.0,248.3 305.6,247.2 306.2,246.7 306.3,246.7 306.8,247.3 307.4,249.1 307.5,249.5 308.0,251.6 308.2,252.5 308.6,254.9 308.7,255.7 309.2,259.8 309.8,264.2 310.4,268.2 310.7,268.6 311.0,268.4 311.6,267.6 312.2,265.9 312.6,264.7 312.8,264.4 313.4,265.5 314.0,268.5 314.6,271.2 315.2,272.1 315.8,272.5 316.4,272.9 317.0,273.3 317.5,273.8 317.6,274.0 318.2,274.9 318.8,275.9 319.4,276.9 320.0,277.9 320.6,279.0 321.2,280.0 321.8,280.7 322.4,280.8 323.0,280.5 323.6,280.0 324.2,279.4 324.8,278.6 325.4,277.7 326.0,276.4 326.6,275.0 327.2,274.1 327.8,273.2 328.4,272.5 329.0,271.9 329.6,271.6 330.2,272.2 330.3,272.4 330.8,274.2 331.4,276.2 332.0,276.3 332.6,275.2 333.2,273.6 333.8,272.1 334.4,269.9 334.5,269.5 335.0,267.5 335.6,265.6 336.2,264.8 336.4,265.1 336.8,266.8 337.4,271.0 338.0,274.8 338.6,276.5 339.2,277.7 339.8,278.7 340.4,279.2 341.0,279.1 341.6,278.6 342.2,277.8 342.8,277.0 343.4,275.7 344.0,274.2 344.6,273.4 344.8,273.4 345.2,273.4 345.8,273.5 346.4,273.6 347.0,273.8 347.6,274.0 348.2,274.3 348.8,274.6 349.4,275.1 350.0,276.0 350.6,276.9 351.2,277.9 351.8,278.6 352.4,279.4 353.0,280.2 353.6,280.9 354.2,281.2 354.8,281.3 355.4,281.1 356.0,280.7 356.6,280.5 357.2,280.3 357.8,280.5 358.4,281.3 359.0,282.2 359.6,283.2 360.2,284.0 360.8,284.2 361.4,284.1 362.0,283.9 362.6,283.6 363.2,283.4 363.8,283.2 364.4,283.2 365.0,283.6 365.6,284.1 366.2,284.7 366.8,285.3 367.4,285.8 368.0,286.1 368.6,286.3 369.2,286.5 369.8,286.7 370.4,286.8 371.0,286.9 371.6,287.0 372.2,286.7 372.8,285.6 373.4,283.8 374.0,282.0 374.6,280.5 375.2,279.4 375.8,278.2 376.4,277.2 377.0,276.5 377.6,276.4 378.2,276.9 378.8,277.9 379.4,279.1 380.0,280.3 380.6,281.5 381.2,282.9 381.8,284.6 382.4,286.2 383.0,287.3 383.6,287.5 384.2,287.1 384.8,286.2 385.4,285.1 386.0,283.7 386.6,281.7 387.2,277.1 387.8,241.6 388.1,120.0 388.4,77.5 388.7,120.0 389.0,218.1 389.2,262.0 389.6,274.6 390.2,278.5 390.4,279.3 390.8,280.1 391.4,279.8 392.0,277.6 392.4,277.3 392.6,277.3 393.2,277.6 393.8,277.9 394.3,278.3 394.4,278.4 395.0,278.9 395.6,279.5 396.2,280.4 396.3,280.6 396.8,281.5 397.4,282.6 398.0,283.5 398.6,284.4 399.2,285.3 399.8,286.1 400.4,286.5 401.0,286.5 401.6,286.0 402.2,285.1 402.8,284.2 403.4,283.4 404.0,282.9 404.6,282.6 405.2,282.3 405.8,281.9 406.4,281.4 407.0,280.3 407.6,278.1 408.2,275.5 408.8,273.1 409.4,271.6 410.0,270.6 410.6,269.8 411.2,268.9 411.8,267.7 412.4,265.6 412.7,264.6 413.0,263.7 413.6,262.8 414.2,266.5 414.8,273.6 415.4,278.5 416.0,281.3 416.6,283.4 417.2,284.0 417.8,282.1 418.4,278.8 419.0,276.4 419.6,276.5 420.2,277.9 420.8,279.7 421.4,281.1 422.0,281.3 422.6,280.3 423.2,278.6 423.8,276.9 424.4,276.0 425.0,276.4 425.6,277.4 426.2,278.4 426.8,277.2 427.2,268.5 427.4,263.9 427.9,254.4 428.0,252.9 428.2,251.5 428.6,256.2 428.8,260.2 429.2,268.7 429.8,281.0 430.4,281.2 431.0,280.4 431.6,279.4 432.2,278.3 432.8,276.3 433.4,273.9 434.0,271.7 434.4,270.8 434.6,270.6 435.2,271.2 435.8,273.1 436.4,275.5 437.0,277.8 437.6,279.5 438.2,281.1 438.8,282.7 439.4,283.9 440.0,284.7 440.6,284.5 440.7,284.2 441.2,282.3 441.8,279.0 442.4,275.6 442.7,274.2 443.0,273.2 443.6,272.6 443.7,272.6 444.2,272.7 444.8,273.0 445.4,273.2 446.0,273.6 446.6,273.9 446.8,274.0 447.2,274.2 447.8,274.5 448.4,274.9 449.0,275.3 449.5,275.6 449.6,275.7 450.2,276.1 450.8,276.5 451.4,277.0 451.5,277.1 452.0,277.3 452.6,260.5 452.8,250.0 453.2,233.4 453.5,227.2 453.8,234.5 454.2,250.0 454.4,254.5 455.0,265.8 455.6,272.9 456.2,277.6 456.8,281.2 457.4,283.6 458.0,284.9 458.6,286.0 459.2,286.7 459.8,286.6 460.4,284.6 461.0,281.4 461.6,278.7 462.2,276.4 462.8,274.5 463.4,274.1 464.0,275.3 464.3,276.3 464.6,277.3 465.2,279.2 465.8,280.2 466.4,280.8 467.0,281.3 467.6,281.7 468.2,282.0 468.8,282.4 469.4,282.8 470.0,283.1 470.6,283.4 471.2,283.7 471.8,283.9 472.4,284.1 473.0,284.3 473.6,284.4 474.2,284.5 474.8,284.7 475.1,284.7 475.4,284.7 476.0,284.8 476.6,284.8 477.2,284.4 477.8,283.7 478.4,282.8 479.0,281.9 479.6,281.2 480.2,280.8 480.5,280.7 480.8,280.7 481.4,281.0 482.0,281.4 482.6,281.8 483.2,282.3 483.8,282.7 484.4,283.0 485.0,283.3 485.6,283.5 486.2,283.9 486.8,284.4 487.6,285.4" fill="none" stroke="#3fa780" stroke-width="1.2" stroke-opacity="0.3" stroke-linejoin="round"/>
</g>
<path d="M47.0,294.4 47.6,294.4 48.2,294.4 48.8,294.4 49.4,294.4 50.0,294.4 50.6,294.4 51.2,294.4 51.8,294.4 52.4,294.4 53.0,294.4 53.6,294.4 54.2,294.4 54.8,294.4 55.4,294.4 56.0,294.4 56.6,294.4 57.2,294.4 57.8,294.4 58.4,294.4 59.0,294.4 59.6,294.4 60.2,294.4 60.8,294.4 61.4,294.4 62.0,294.4 62.6,294.4 63.2,294.4 63.8,294.4 64.4,294.4 65.0,294.4 65.6,294.4 66.2,294.4 66.8,294.4 67.4,294.4 68.0,294.4 68.6,294.4 69.2,294.4 69.8,294.4 70.4,294.4 71.0,294.4 71.6,294.4 72.2,294.4 72.8,294.4 73.4,294.4 74.0,294.4 74.6,294.4 75.2,294.4 75.8,294.4 76.4,294.4 77.0,294.4 77.6,294.4 78.2,294.4 78.8,294.4 79.4,294.4 80.0,294.4 80.6,294.4 81.2,294.4 81.8,294.4 82.4,294.4 83.0,294.4 83.6,294.4 84.2,294.4 84.8,294.3 85.4,294.3 86.0,294.3 86.6,294.3 87.2,294.3 87.8,294.3 88.4,294.3 89.0,294.3 89.6,294.3 90.2,294.3 90.8,294.3 91.4,294.3 92.0,294.3 92.6,294.3 93.2,294.3 93.8,294.3 94.4,294.3 95.0,294.3 95.6,294.3 96.2,294.3 96.8,294.3 97.4,294.3 98.0,294.3 98.6,294.3 99.2,294.3 99.8,294.3 100.4,294.3 101.0,294.3 101.6,294.2 102.2,294.2 102.8,294.2 103.4,294.2 104.0,294.2 104.6,294.2 105.2,294.2 105.8,294.2 106.4,294.2 107.0,290.4 107.6,290.3 108.2,290.3 108.8,290.7 109.4,291.6 110.0,291.6 110.6,291.5 111.2,291.5 111.8,292.0 112.4,292.5 113.0,292.8 113.6,293.0 114.2,293.2 114.8,293.2 115.4,293.3 116.0,293.3 116.6,293.3 117.2,293.3 117.8,293.4 118.4,293.4 119.0,293.4 119.6,293.4 120.2,293.5 120.8,293.5 121.4,293.5 122.0,293.5 122.6,293.5 123.2,293.5 123.8,293.5 124.4,293.6 125.0,293.6 125.6,293.6 126.2,293.6 126.8,293.6 127.4,293.6 128.0,293.6 128.6,293.6 129.2,293.6 129.8,293.6 130.4,293.6 131.0,293.6 131.6,293.6 132.2,293.6 132.8,293.6 133.4,293.6 134.0,293.6 134.6,293.6 135.2,293.6 135.8,293.6 136.4,293.6 137.0,293.6 137.6,293.6 138.2,293.6 138.8,293.6 139.4,293.6 140.0,293.6 140.6,293.6 141.2,293.6 141.8,293.6 142.4,293.6 143.0,293.6 143.6,293.6 144.2,293.6 144.8,293.6 145.4,293.6 146.0,293.6 146.6,293.6 147.2,293.6 147.8,293.6 148.4,293.6 149.0,293.6 149.6,293.6 150.2,293.6 150.8,293.6 151.4,293.6 152.0,293.6 152.6,293.6 153.2,293.5 153.8,293.5 154.4,293.5 155.0,293.5 155.6,293.4 156.2,293.4 156.8,293.3 157.4,293.3 158.0,293.2 158.6,293.2 159.2,293.1 159.8,293.0 160.4,292.9 161.0,292.6 161.6,292.2 162.2,291.8 162.8,291.5 163.4,291.4 164.0,291.6 164.6,291.9 165.2,292.4 165.8,292.8 166.4,293.0 167.0,293.0 167.6,293.0 168.2,293.0 168.8,293.0 169.4,292.9 170.0,292.9 170.6,292.8 171.2,292.8 171.8,292.7 172.4,292.7 173.0,292.6 173.6,292.6 174.2,292.5 174.8,292.4 175.4,292.3 176.0,292.1 176.6,292.0 177.2,291.7 177.8,291.5 178.4,291.3 179.0,291.0 179.6,290.7 180.2,290.5 180.8,290.2 181.4,289.9 182.0,289.7 182.6,289.5 183.2,289.3 183.8,289.0 184.4,288.8 185.0,288.6 185.6,288.4 186.2,288.1 186.8,287.9 187.4,287.6 188.0,287.3 188.6,287.0 189.2,286.7 189.8,286.4 190.4,286.1 191.0,285.7 191.6,285.2 192.2,284.5 192.8,283.2 193.4,282.1 194.0,282.4 194.6,283.9 195.2,285.6 195.8,286.4 196.4,286.4 197.0,286.2 197.6,286.1 198.2,285.7 198.8,284.5 199.4,283.3 200.0,283.1 200.6,283.3 201.2,283.5 201.8,283.9 202.4,284.3 203.0,284.7 203.6,285.1 204.2,285.3 204.8,285.6 205.4,285.9 206.0,286.1 206.6,286.4 207.2,286.6 207.8,286.8 208.4,287.0 209.0,287.1 209.6,287.3 210.2,287.5 210.8,287.7 211.4,287.8 212.0,287.9 212.6,288.0 213.2,288.0 213.8,287.7 214.4,287.1 215.0,286.5 215.6,285.8 216.2,285.3 216.8,284.9 217.4,284.7 218.0,284.4 218.6,284.1 219.2,283.8 219.8,283.4 220.4,282.6 221.0,281.0 221.6,278.9 222.2,277.0 222.8,276.0 223.4,276.1 224.0,276.5 224.6,276.9 225.2,277.0 225.8,275.9 226.4,273.9 227.0,272.1 227.6,271.1 228.2,270.4 228.8,269.8 229.4,269.4 230.0,269.3 230.6,270.3 231.2,272.6 231.8,275.0 232.4,276.3 233.0,277.3 233.6,278.3 234.2,279.1 234.8,279.8 235.4,280.2 236.0,280.4 236.6,280.2 237.2,279.5 237.8,278.6 238.4,277.5 239.0,276.5 239.6,275.7 240.2,275.3 240.8,275.1 241.4,274.9 242.0,274.8 242.6,274.7 243.2,274.5 243.8,274.3 244.4,273.8 245.0,273.3 245.6,273.1 246.2,273.2 246.8,273.4 247.4,273.7 248.0,274.1 248.6,275.7 249.2,278.3 249.8,280.5 250.4,281.3 251.0,281.1 251.6,280.7 252.2,280.2 252.8,279.6 253.4,279.1 254.0,278.7 254.6,278.2 255.2,277.7 255.8,277.2 256.4,276.8 257.0,276.6 257.6,276.5 258.2,276.9 258.8,277.5 259.4,278.2 260.0,278.8 260.6,278.8 261.2,277.3 261.8,274.9 262.4,272.2 263.0,270.1 263.6,268.9 264.2,267.9 264.8,266.5 265.4,263.9 266.0,246.1 266.1,242.7 266.6,239.3 267.2,237.6 267.8,236.0 268.2,233.9 268.4,231.6 269.0,219.0 269.5,210.0 269.6,209.0 270.2,203.9 270.6,202.0 270.8,201.5 271.0,201.0 271.4,200.4 271.5,200.4 272.0,200.9 272.5,202.0 272.6,202.3 273.2,204.5 273.5,206.0 273.8,207.7 274.4,212.1 275.0,216.8 275.4,219.5 275.6,220.8 276.2,224.9 276.4,226.0 276.8,227.3 276.9,227.4 277.4,224.0 277.8,220.0 278.0,218.3 278.6,213.6 278.8,213.1 279.2,214.8 279.8,220.0 280.4,226.4 281.0,232.7 281.3,234.2 281.6,234.6 281.8,234.9 282.2,236.9 282.8,242.4 283.4,247.9 283.7,249.6 284.0,250.7 284.6,252.7 285.2,254.1 285.7,254.5 285.8,254.5 286.4,253.9 287.0,252.8 287.6,252.1 287.8,252.0 288.2,252.2 288.8,253.2 289.4,254.7 290.0,256.3 290.1,256.5 290.6,258.0 291.2,260.2 291.8,262.2 292.4,263.3 293.0,263.2 293.6,262.9 294.2,262.3 294.8,261.6 295.0,261.4 295.4,260.5 296.0,258.1 296.6,255.0 297.2,251.9 297.8,249.5 298.4,248.6 299.0,249.3 299.6,251.0 300.2,253.1 300.8,254.8 301.4,255.5 302.0,253.6 302.6,249.5 303.2,245.3 303.3,244.7 303.8,241.8 304.4,238.5 304.6,237.5 305.0,236.0 305.6,234.4 306.2,233.4 306.3,233.4 306.8,234.0 307.4,235.7 307.5,236.0 308.0,238.3 308.2,239.6 308.6,242.1 308.7,242.7 309.2,246.4 309.8,251.4 310.4,254.9 310.7,255.5 311.0,255.2 311.6,253.5 312.2,251.6 312.6,251.1 312.8,251.3 313.4,253.7 314.0,257.2 314.6,259.4 315.2,260.1 315.8,260.6 316.4,261.0 317.0,261.4 317.5,261.9 317.6,262.0 318.2,263.2 318.8,264.9 319.4,266.5 320.0,267.7 320.6,268.2 321.2,268.3 321.8,268.4 322.4,268.5 323.0,268.5 323.6,268.3 324.2,267.7 324.8,267.0 325.4,266.3 326.0,265.6 326.6,264.9 327.2,264.1 327.8,263.2 328.4,262.2 329.0,260.8 329.6,259.3 330.2,258.4 330.3,258.4 330.8,259.2 331.4,261.2 332.0,263.0 332.6,263.0 333.2,261.2 333.8,258.7 334.4,256.3 334.5,256.0 335.0,254.5 335.6,252.6 336.2,251.5 336.4,251.4 336.8,252.4 337.4,256.7 338.0,262.0 338.6,265.9 339.2,266.5 339.8,266.4 340.4,266.2 341.0,266.0 341.6,265.7 342.2,265.0 342.8,262.7 343.4,259.6 344.0,256.5 344.6,254.7 344.8,254.6 345.2,255.2 345.8,257.6 346.4,260.6 347.0,263.0 347.6,263.7 348.2,263.9 348.8,264.1 349.4,264.3 350.0,264.8 350.6,265.8 351.2,267.2 351.8,268.7 352.4,270.0 353.0,271.2 353.6,272.4 354.2,273.5 354.8,274.2 355.4,274.1 356.0,272.7 356.6,271.0 357.2,269.6 357.8,269.6 358.4,270.6 359.0,271.9 359.6,273.0 360.2,273.3 360.8,273.3 361.4,273.3 362.0,273.3 362.6,273.3 363.2,273.3 363.8,273.4 364.4,273.8 365.0,274.5 365.6,275.3 366.2,276.1 366.8,276.9 367.4,278.0 368.0,279.1 368.6,279.7 369.2,279.7 369.8,279.4 370.4,278.9 371.0,278.4 371.6,277.7 372.2,276.8 372.8,275.8 373.4,274.7 374.0,273.6 374.6,272.5 375.2,271.1 375.8,269.7 376.4,268.6 377.0,267.9 377.6,268.1 378.2,268.9 378.8,270.2 379.4,271.6 380.0,273.1 380.6,274.5 381.2,276.1 381.8,277.8 382.4,279.3 383.0,280.8 383.6,282.4 384.2,283.7 384.8,284.2 385.4,283.5 386.0,281.7 386.6,279.0 387.2,273.8 387.8,241.6 388.1,120.0 388.4,77.0 388.7,120.0 389.0,218.1 389.2,258.0 389.6,258.5 390.2,258.8 390.4,259.0 390.8,260.6 391.4,261.6 392.0,258.1 392.4,256.7 392.6,256.9 393.2,258.6 393.8,260.8 394.3,261.6 394.4,261.6 395.0,261.5 395.6,261.2 396.2,261.1 396.3,261.1 396.8,261.9 397.4,264.5 398.0,267.6 398.6,270.1 399.2,271.7 399.8,273.3 400.4,274.6 401.0,275.2 401.6,275.3 402.2,275.0 402.8,274.7 403.4,274.4 404.0,274.1 404.6,273.8 405.2,273.5 405.8,273.1 406.4,272.6 407.0,271.7 407.6,269.8 408.2,267.4 408.8,264.9 409.4,262.8 410.0,261.0 410.6,259.2 411.2,257.4 411.8,256.0 412.4,255.2 412.7,255.1 413.0,255.5 413.6,258.3 414.2,262.5 414.8,266.9 415.4,271.5 416.0,276.8 416.6,279.9 417.2,277.0 417.8,269.2 418.4,263.0 419.0,263.1 419.6,265.4 420.2,268.2 420.8,270.2 421.4,272.2 422.0,274.1 422.6,275.5 423.2,276.0 423.8,274.9 424.4,272.2 425.0,268.9 425.6,265.7 426.2,262.0 426.8,257.8 427.2,255.0 427.4,253.2 427.9,249.6 428.0,249.8 428.2,251.0 428.6,255.6 428.8,258.0 429.2,264.8 429.8,274.3 430.4,274.0 431.0,272.0 431.6,269.5 432.2,267.1 432.8,263.8 433.4,260.3 434.0,257.7 434.4,257.1 434.6,257.3 435.2,259.4 435.8,262.7 436.4,265.7 437.0,267.2 437.6,268.3 438.2,269.1 438.8,269.3 439.4,267.8 440.0,264.9 440.6,261.7 440.7,261.2 441.2,258.0 441.8,253.4 442.4,249.8 442.7,249.0 443.0,248.7 443.6,248.3 443.7,248.3 444.2,249.0 444.8,250.4 445.4,251.7 446.0,253.0 446.6,254.1 446.8,254.4 447.2,255.0 447.8,255.8 448.4,256.5 449.0,257.0 449.5,257.1 449.6,257.1 450.2,256.7 450.8,255.9 451.4,254.6 451.5,254.4 452.0,251.5 452.6,245.0 452.8,241.2 453.2,230.7 453.5,226.8 453.8,230.3 454.2,240.6 454.4,245.0 455.0,255.7 455.6,262.8 456.2,266.1 456.8,268.8 457.4,272.5 458.0,276.6 458.6,279.6 459.2,279.7 459.8,277.7 460.4,274.7 461.0,271.4 461.6,266.5 462.2,262.7 462.8,262.2 463.4,261.9 464.0,261.8 464.3,261.8 464.6,262.3 465.2,265.0 465.8,268.1 466.4,269.3 467.0,267.4 467.6,264.4 468.2,262.5 468.8,263.3 469.4,265.4 470.0,267.4 470.6,267.8 471.2,267.0 471.8,265.5 472.4,263.9 473.0,261.9 473.6,259.3 474.2,256.9 474.8,255.3 475.1,255.1 475.4,255.3 476.0,256.7 476.6,258.7 477.2,260.4 477.8,261.2 478.4,261.0 479.0,260.6 479.6,260.2 480.2,259.8 480.5,259.8 480.8,259.8 481.4,260.1 482.0,260.5 482.6,261.1 483.2,261.8 483.8,262.5 484.4,263.4 485.0,264.6 485.6,265.9 486.2,267.3 486.8,268.6 487.6,270.6" fill="none" stroke="#62dfe4" stroke-width="1.1" stroke-opacity="0.85" stroke-linejoin="round"/>
<path d="M47,294.5 L176,294.2" stroke="#55ccb8" stroke-width="1.5" fill="none"/>
<rect x="15.0" y="349" width="29.3" height="6" fill="#f3fdfd"/>
<rect x="15.0" y="348.6" width="29.3" height="1.1" fill="#5fe0e6"/>
<text x="49.2" y="356.5" font-size="12.6" fill="#333333" stroke="#333333" stroke-width="0.22" textLength="31.5" lengthAdjust="spacingAndGlyphs">Other</text>
<rect x="15.0" y="368" width="29.3" height="6" fill="#fdeffd"/>
<rect x="15.0" y="367.6" width="29.3" height="1.1" fill="#f29af2"/>
<text x="49.2" y="375.5" font-size="12.6" fill="#333333" stroke="#333333" stroke-width="0.22" textLength="60.400000000000006" lengthAdjust="spacingAndGlyphs">DAI-WETH</text>
<rect x="15.0" y="387" width="29.3" height="6" fill="#f9c3ab"/>
<rect x="15.0" y="386.6" width="29.3" height="1.1" fill="#f7a684"/>
<text x="49.2" y="394.5" font-size="12.6" fill="#333333" stroke="#333333" stroke-width="0.22" textLength="61.300000000000004" lengthAdjust="spacingAndGlyphs">UNI-WETH</text>
<rect x="15.0" y="406" width="29.3" height="6" fill="#d9e5c0"/>
<rect x="15.0" y="405.6" width="29.3" height="1.1" fill="#cbdba8"/>
<text x="49.2" y="413.5" font-size="12.6" fill="#333333" stroke="#333333" stroke-width="0.22" textLength="71.9" lengthAdjust="spacingAndGlyphs">CORE-WETH</text>
<rect x="134.3" y="349" width="29.3" height="6" fill="#b9ecd9"/>
<rect x="134.3" y="348.6" width="29.3" height="1.1" fill="#4ea88a"/>
<text x="168.39999999999998" y="356.5" font-size="12.6" fill="#333333" stroke="#333333" stroke-width="0.22" textLength="71.2" lengthAdjust="spacingAndGlyphs">WETH-USDT</text>
<rect x="134.3" y="368" width="29.3" height="6" fill="#decdd1"/>
<rect x="134.3" y="367.6" width="29.3" height="1.1" fill="#d9c3c8"/>
<text x="168.39999999999998" y="375.5" font-size="12.6" fill="#333333" stroke="#333333" stroke-width="0.22" textLength="75.0" lengthAdjust="spacingAndGlyphs">WBTC-WETH</text>
<rect x="134.3" y="387" width="29.3" height="6" fill="#e9fb9b"/>
<rect x="134.3" y="386.6" width="29.3" height="1.1" fill="#e6f98a"/>
<text x="168.39999999999998" y="394.5" font-size="12.6" fill="#333333" stroke="#333333" stroke-width="0.22" textLength="72.4" lengthAdjust="spacingAndGlyphs">WETH-AMPL</text>
<rect x="253.6" y="349" width="29.3" height="6" fill="#fffdf0"/>
<rect x="253.6" y="348.6" width="29.3" height="1.1" fill="#f2e47c"/>
<text x="287.9" y="356.5" font-size="12.6" fill="#333333" stroke="#333333" stroke-width="0.22" textLength="72.5" lengthAdjust="spacingAndGlyphs">USDC-WETH</text>
<rect x="253.6" y="368" width="29.3" height="6" fill="#b5b2dc"/>
<rect x="253.6" y="367.6" width="29.3" height="1.1" fill="#a9a6d6"/>
<text x="287.9" y="375.5" font-size="12.6" fill="#333333" stroke="#333333" stroke-width="0.22" textLength="57.900000000000006" lengthAdjust="spacingAndGlyphs">YFI-WETH</text>
<rect x="253.6" y="387" width="29.3" height="6" fill="#f9a19a"/>
<rect x="253.6" y="386.6" width="29.3" height="1.1" fill="#f78f86"/>
<text x="287.9" y="394.5" font-size="12.6" fill="#333333" stroke="#333333" stroke-width="0.22" textLength="74.2" lengthAdjust="spacingAndGlyphs">SUSHI-WETH</text>
<rect x="586.8" y="349.0" width="426.7" height="1" fill="#888888"/>
<rect x="591.20" y="338.1" width="34.3" height="11.20" fill="#c6f1e1" stroke="#6b9f8d" stroke-width="1"/>
<text transform="translate(607.45,360.70) rotate(30)" font-size="12.6" fill="#333333" stroke="#333333" stroke-width="0.22" dominant-baseline="middle" textLength="71.0" lengthAdjust="spacingAndGlyphs">CORE-WETH</text>
<rect x="633.88" y="332.0" width="34.3" height="17.30" fill="#c6f1e1" stroke="#6b9f8d" stroke-width="1"/>
<text transform="translate(650.13,360.70) rotate(30)" font-size="12.6" fill="#333333" stroke="#333333" stroke-width="0.22" dominant-baseline="middle" textLength="73.3" lengthAdjust="spacingAndGlyphs">SUSHI-WETH</text>
<rect x="676.56" y="327.0" width="34.3" height="22.30" fill="#c6f1e1" stroke="#6b9f8d" stroke-width="1"/>
<text transform="translate(692.81,360.70) rotate(30)" font-size="12.6" fill="#333333" stroke="#333333" stroke-width="0.22" dominant-baseline="middle" textLength="71.5" lengthAdjust="spacingAndGlyphs">WETH-AMPL</text>
<rect x="719.24" y="323.9" width="34.3" height="25.40" fill="#c6f1e1" stroke="#6b9f8d" stroke-width="1"/>
<text transform="translate(735.49,360.70) rotate(30)" font-size="12.6" fill="#333333" stroke="#333333" stroke-width="0.22" dominant-baseline="middle" textLength="74.1" lengthAdjust="spacingAndGlyphs">WBTC-WETH</text>
<rect x="761.92" y="323.3" width="34.3" height="26.00" fill="#c6f1e1" stroke="#6b9f8d" stroke-width="1"/>
<text transform="translate(778.17,360.70) rotate(30)" font-size="12.6" fill="#333333" stroke="#333333" stroke-width="0.22" dominant-baseline="middle" textLength="57.0" lengthAdjust="spacingAndGlyphs">YFI-WETH</text>
<rect x="804.60" y="323.0" width="34.3" height="26.30" fill="#c6f1e1" stroke="#6b9f8d" stroke-width="1"/>
<text transform="translate(820.85,360.70) rotate(30)" font-size="12.6" fill="#333333" stroke="#333333" stroke-width="0.22" dominant-baseline="middle" textLength="60.4" lengthAdjust="spacingAndGlyphs">UNI-WETH</text>
<rect x="847.28" y="301.3" width="34.3" height="48.00" fill="#c6f1e1" stroke="#6b9f8d" stroke-width="1"/>
<text transform="translate(863.53,360.70) rotate(30)" font-size="12.6" fill="#333333" stroke="#333333" stroke-width="0.22" dominant-baseline="middle" textLength="59.5" lengthAdjust="spacingAndGlyphs">DAI-WETH</text>
<rect x="889.96" y="262.3" width="34.3" height="87.00" fill="#c6f1e1" stroke="#6b9f8d" stroke-width="1"/>
<text transform="translate(906.21,360.70) rotate(30)" font-size="12.6" fill="#333333" stroke="#333333" stroke-width="0.22" dominant-baseline="middle" textLength="71.6" lengthAdjust="spacingAndGlyphs">USDC-WETH</text>
<rect x="932.64" y="252.3" width="34.3" height="97.00" fill="#c6f1e1" stroke="#6b9f8d" stroke-width="1"/>
<text transform="translate(948.89,360.70) rotate(30)" font-size="12.6" fill="#333333" stroke="#333333" stroke-width="0.22" dominant-baseline="middle" textLength="70.3" lengthAdjust="spacingAndGlyphs">WETH-USDT</text>
<rect x="975.32" y="79.4" width="34.3" height="269.90" fill="#c6f1e1" stroke="#6b9f8d" stroke-width="1"/>
<text transform="translate(991.57,360.70) rotate(30)" font-size="12.6" fill="#333333" stroke="#333333" stroke-width="0.22" dominant-baseline="middle" textLength="30.6" lengthAdjust="spacingAndGlyphs">Other</text>
<text x="584.8" y="353.6" font-size="12.6" text-anchor="end" fill="#333333" stroke="#333333" stroke-width="0.22" textLength="13.3" lengthAdjust="spacingAndGlyphs">$0</text>
<text x="584.8" y="304.9" font-size="12.6" text-anchor="end" fill="#333333" stroke="#333333" stroke-width="0.22" textLength="31.0" lengthAdjust="spacingAndGlyphs">$10M</text>
<text x="584.8" y="256.2" font-size="12.6" text-anchor="end" fill="#333333" stroke="#333333" stroke-width="0.22" textLength="31.0" lengthAdjust="spacingAndGlyphs">$20M</text>
<text x="584.8" y="207.5" font-size="12.6" text-anchor="end" fill="#333333" stroke="#333333" stroke-width="0.22" textLength="31.0" lengthAdjust="spacingAndGlyphs">$30M</text>
<text x="584.8" y="158.8" font-size="12.6" text-anchor="end" fill="#333333" stroke="#333333" stroke-width="0.22" textLength="31.0" lengthAdjust="spacingAndGlyphs">$40M</text>
<text x="584.8" y="110.1" font-size="12.6" text-anchor="end" fill="#333333" stroke="#333333" stroke-width="0.22" textLength="31.0" lengthAdjust="spacingAndGlyphs">$50M</text>
</svg>
</body></html>
